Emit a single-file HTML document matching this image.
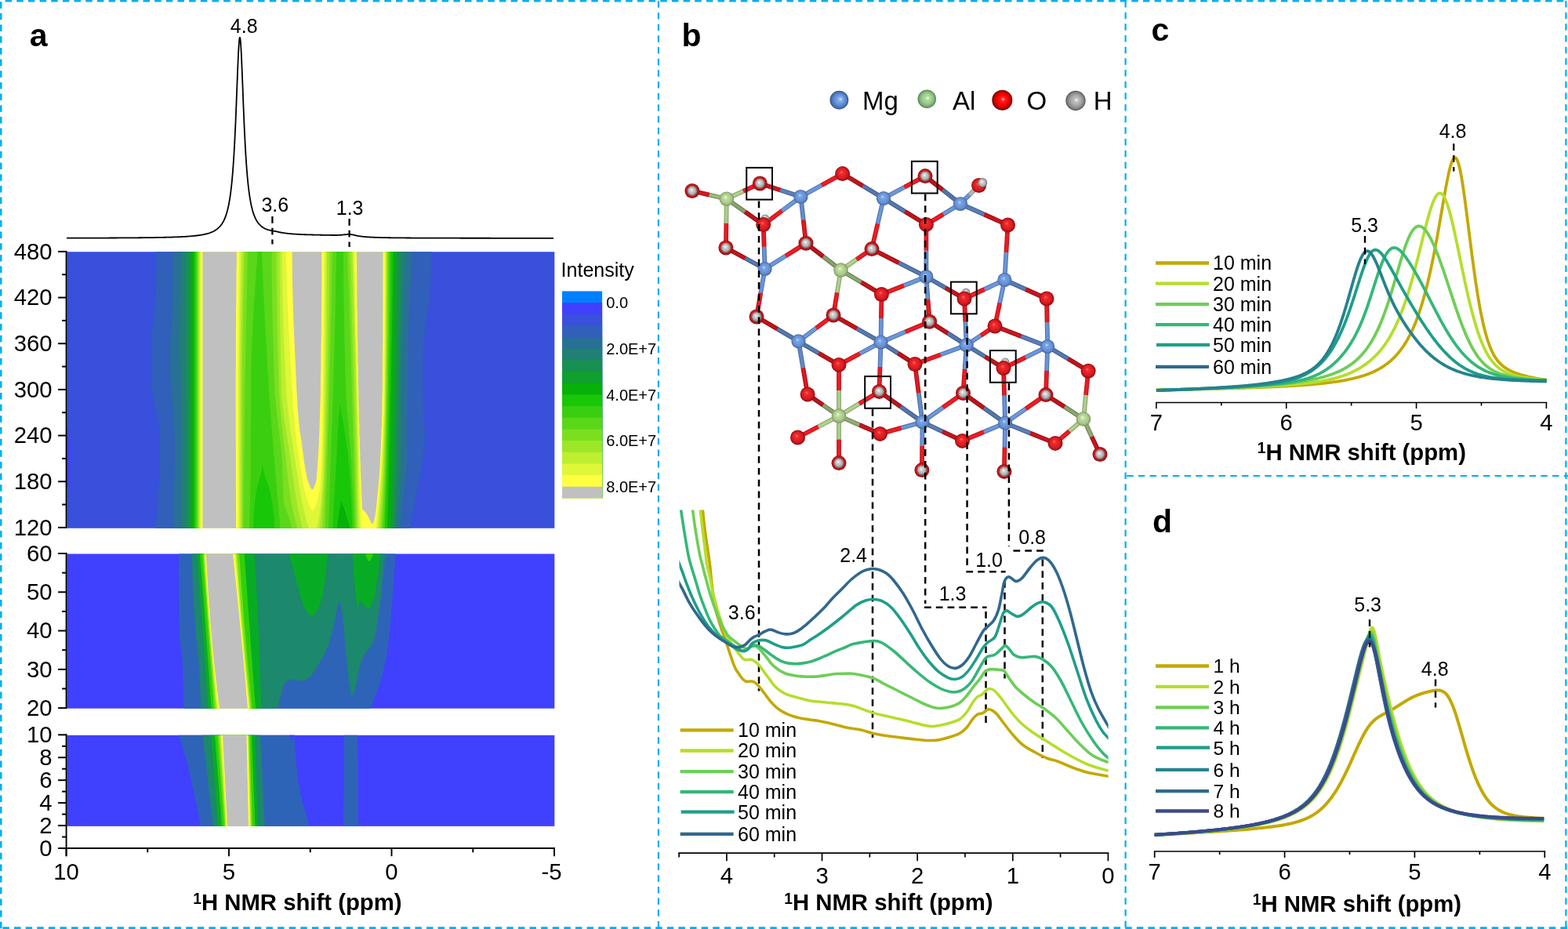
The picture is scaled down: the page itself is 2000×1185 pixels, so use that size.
<!DOCTYPE html>
<html lang="en"><head><meta charset="utf-8"><title>1H NMR figure</title>
<style>html,body{margin:0;padding:0;background:#fff}body{width:2000px;height:1185px;overflow:hidden}svg{display:block;font-family:'Liberation Sans', Arial, Helvetica, sans-serif;fill:#000}</style></head><body>
<svg xmlns="http://www.w3.org/2000/svg" width="2000" height="1185" viewBox="0 0 2000 1185">
<rect width="2000" height="1185" fill="#fff"/>
<g id="panel-a">
<rect x="85.4" y="321.2" width="621.9" height="352.6" fill="#3850dc"/>
<path fill="#3060b9" fill-rule="evenodd" d="M199.42 321.2L550.32 321.2L550.19 340.18L549.83 342.99L549.69 351.17L549.33 353.13L549.24 359.16L548.83 361.95L548.66 368.15L548.33 369.47L548.21 375.14L547.83 377.06L547.74 381.13L547.33 382.95L547.27 385.13L546.83 387.05L546.76 389.12L546.33 390.79L546.18 393.12L545.83 394.04L545.72 396.12L545.33 397.08L545.24 399.11L544.83 400.09L544.75 402.11L544.33 403.09L544.26 405.1L543.83 406.1L543.77 408.1L543.33 409.9L543.22 412.1L542.83 413.07L542.69 416.09L542.33 417.05L542.25 420.09L541.83 422L541.66 427.08L541.33 428.06L541.22 433.07L540.83 434.89L540.7 440.07L540.33 441.67L540.25 447.06L540.17 448.06L539.83 449.05L539.71 458.04L539.33 460.97L539.33 491.06L539.71 498L539.83 520L540.22 523.97L540.33 534.96L540.7 535.96L540.83 539.97L541.21 540.95L541.33 544.95L541.7 545.95L541.79 547.94L541.76 559.93L541.33 562.86L541.26 566.92L540.83 568.87L540.76 571.92L540.33 573.82L540.21 576.91L539.83 577.88L539.72 580.91L539.33 581.88L539.2 584.9L538.83 585.86L538.78 587.9L538.69 588.9L538.33 589.84L538.18 592.89L537.83 593.83L537.77 595.89L537.33 596.88L537.28 598.88L536.83 600.36L536.78 601.88L536.33 602.88L536.26 604.88L535.83 605.85L535.28 609.87L534.83 610.86L534.7 612.87L534.33 613.77L534.28 614.87L533.83 615.86L533.71 617.86L533.33 618.78L533.29 619.86L532.83 620.85L532.75 622.86L532.33 623.81L531.78 627.85L531.33 628.83L531.19 630.85L530.83 631.74L530.78 632.85L530.33 633.83L530.21 635.84L529.83 636.75L529.79 637.84L529.33 638.83L529.21 640.84L528.83 641.75L528.79 642.84L528.33 643.82L528.22 645.83L527.83 646.75L527.79 647.83L527.33 648.82L527.24 650.83L526.83 651.77L526.8 652.82L526.33 654.22L526.28 655.82L525.83 656.8L525.72 658.82L525.33 659.74L525.3 660.81L524.83 661.97L524.78 663.81L524.33 664.8L524.25 666.81L523.83 667.76L523.66 669.8L523.33 670.66L523.3 671.8L522.83 672.8L522.82 673.8L198.9 673.8L199.03 668.81L199.38 666.88L199.49 660.81L199.88 658.08L200.02 651.82L200.38 649.87L200.5 643.83L200.88 641.84L201.02 635.84L201.38 634.03L201.49 629.85L201.88 627.99L202.01 623.86L202.38 622.18L202.5 617.86L202.88 616.01L203.06 609.87L203.38 608.04L203.38 545.95L203.02 544.95L202.88 542.5L202.44 540.95L202.38 539.84L202.04 538.95L201.88 537.32L201.42 535.96L201.38 534.96L200.93 533.96L200.88 532.94L200.44 531.96L200.38 530.94L199.94 529.96L199.88 528.94L199.44 527.97L199.38 526.94L198.96 525.97L198.88 524.9L198.5 523.97L197.38 516.89L197.04 515.98L196.88 513.97L196.47 512.98L195.88 508.95L195.49 507.99L195.38 506.5L194.45 501.99L194.38 500.31L193.99 499L193.88 495.97L193.59 495L193.45 493.01L193.43 471.03L193.53 450.05L193.88 439.18L193.96 425.08L194.38 422.19L194.48 419.09L194.88 417.21L194.96 415.09L195.38 413.2L195.47 411.1L195.88 409.38L196.01 407.1L196.38 406.12L196.54 403.11L196.89 402.11L197.02 399.11L197.38 398.12L197.49 394.12L197.88 392.12L198 383.13L198.38 379.55L198.53 368.15L198.88 364.59L199.03 349.17L199.38 344.2Z"/>
<path fill="#287096" fill-rule="evenodd" d="M220.94 321.2L526.31 321.2L524.33 352.04L522.83 379.11L521.83 401.11L520.83 432.07L520.33 460.04L519.16 570.92L518.65 593.89L517.65 605.88L515.83 620.06L510.28 673.8L220.95 673.8L221.87 645.83L222.38 619.11L222.88 583.9L222.88 552.94L221.88 535.65L219.1 502.99L217.53 478.02L217.06 468.03L216.95 460.04L217.09 449.05L217.57 437.07L219.38 406.23L219.88 394.35L220.88 341.24Z"/>
<path fill="#208073" fill-rule="evenodd" d="M230.96 321.2L517.04 321.2L514.33 388.12L512.83 442.57L512.33 475.45L511.69 578.91L511.22 601.88L510.59 614.87L509.57 629.85L505.6 673.8L231.54 673.8L231.88 656.82L232.27 607.87L232.38 541.5L231.88 517.84L230.18 469.03L229.96 452.05L230.14 377.14Z"/>
<path fill="#189050" fill-rule="evenodd" d="M237.47 321.2L511.05 321.2L510.8 371.14L510.33 415.4L509.33 475.83L508.07 534.96L506.12 609.87L505.07 633.85L503.01 673.8L237.96 673.8Z"/>
<path fill="#10a02d" fill-rule="evenodd" d="M241.97 321.2L507 321.2L506.83 372.14L506.33 426.08L504.83 522.7L503.32 597.89L502.33 628.85L500.49 673.8L241.97 673.8Z"/>
<path fill="#08b00a" fill-rule="evenodd" d="M244.98 321.2L503.12 321.2L502.6 387.13L501.11 498L499.17 607.87L497.49 673.8L244.98 673.8Z"/>
<path fill="#18c708" fill-rule="evenodd" d="M247.47 321.2L501.43 321.2L500.33 396.97L498.58 489.01L496.1 599.88L494.02 673.8L446.38 673.8L445.34 669.73L444.95 668.81L444.84 667.79L444.42 666.81L440.34 652.78L438.34 647.02L436.61 642.84L435.34 638.09L434.68 642.84L432.84 651.13L430.84 664.67L429.79 673.8L247.47 673.8Z"/>
<path fill="#39cf10" fill-rule="evenodd" d="M249.17 321.2L498.56 321.2L498.18 378.14L497.67 418.09L496.11 501.99L493.64 605.88L491.07 673.8L449 673.8L448.84 659.77L447.84 633.6L447.52 630.85L447.34 624.62L447 621.86L446.84 616.56L446.49 613.87L446.34 608.83L446.02 606.88L445.84 601.79L445.53 599.88L445.34 594.83L445.02 592.89L444.84 588.27L444.46 585.9L444.34 582.86L444.08 581.9L443.84 578.67L442.97 572.91L442.84 570.87L442.55 569.92L441.34 560.89L441.04 559.93L440.84 557.85L440.56 556.93L438.47 543.95L437.84 539.18L434.53 522.97L433.84 515.99L433.34 516.01L432.95 523.97L431.34 542.61L428.12 604.88L424.12 673.8L350.08 673.8L349.86 663.81L348.86 653L347.36 641.97L347.04 640.84L346.86 638.79L345.56 631.85L345.36 629.83L344.36 625.78L342.36 619.83L340.1 613.87L337.07 603.88L335.61 597.89L335.36 594.87L334.86 594.76L333.75 600.88L331.86 606.91L330.14 613.87L328.36 619.84L326.36 628.85L325.15 640.84L324.86 642.21L324.22 650.83L323.86 653.38L323.71 657.82L323.36 660.81L323.16 673.8L249.17 673.8Z"/>
<path fill="#5ad718" fill-rule="evenodd" d="M250.56 321.2L328.91 321.2L326.53 350.17L324.1 385.13L322.27 417.09L320.86 450.05L320.36 468.03L320.06 491.01L319.72 604.88L318.86 644.42L317.97 673.8L250.56 673.8ZM334.04 321.2L429.04 321.2L427.62 396.12L425.13 493.01L421.85 585.75L419.02 673.8L357.56 673.8L351.04 600.88L346.07 539.95L343.58 505.99L340.36 453.18L337.86 408.23L336.7 382.13L336.36 378.21L336.18 371.14L335.86 367.29L335.68 360.16L335.36 356.06ZM437.96 321.2L496.75 321.2L496.55 368.15L496.04 418.09L495.22 472.03L494.08 530.96L492.29 605.88L491.26 631.85L489.26 673.8L451.39 673.8L450.15 632.85L447.98 585.9L446.59 566.92L442.53 521.97L441.14 499L439.84 453.25L438.83 407.1L438.17 360.16Z"/>
<path fill="#7bdf20" fill-rule="evenodd" d="M251.69 321.2L316.13 321.2L315.86 326.99L314.86 370.39L312.86 472.46L311.86 538.42L311.65 563.92L311.36 575.4L310.35 673.8L251.69 673.8ZM346.51 321.2L424.04 321.2L422.14 413.1L419.66 510.98L417.13 598.88L414.55 673.8L372.4 673.8L370.85 667.75L367.85 657.64L363.44 646.83L362.28 642.84L361.86 639.17L361.32 630.85L360.36 600.62L359.36 582.06L357.36 562.12L352.54 522.97L351.13 507.99L350.54 499L349.06 459.04L347.56 406.1L346.68 352.16ZM442.96 321.2L495.07 321.2L494.57 414.09L493.63 485.01L492.6 540.95L491.46 591.89L490.83 610.79L489.83 632.23L487.5 673.8L453.46 673.8L451.84 603.22L448.84 495.69L448.54 490.01L448.34 478.94L448.03 473.03L447.84 462.81L445.84 400.98Z"/>
<path fill="#9ce728" fill-rule="evenodd" d="M252.82 321.2L312.05 321.2L310.36 387.79L309.36 443.06L309.06 492.01L308.98 673.8L252.82 673.8ZM352.65 321.2L420.5 321.2L420.1 367.15L419.35 421.71L417.34 523.97L416.03 568.92L414.64 607.87L413.15 639.84L411.31 673.8L379.14 673.8L374.1 653.82L371.1 638.84L369.58 628.85L368.02 616.86L359.62 543.95L357.57 523.97L356.12 503.99L354.58 456.05L353.56 412.1L352.99 375.14ZM446.01 321.2L494 321.2L493.85 374.14L493.41 430.08L492.5 499L491.74 536.96L490.28 589.9L489.67 605.88L488.03 635.84L485.51 673.8L455 673.8L453.54 591.89L451.35 497L448.87 408.1Z"/>
<path fill="#bdef30" fill-rule="evenodd" d="M253.95 321.2L309.6 321.2L307.86 404.02L307.11 467.03L307.04 570.92L307.3 673.8L253.95 673.8ZM356.48 321.2L417.08 321.2L416.72 404.11L416.15 459.04L415.12 523.97L413.68 590.89L413.08 606.88L412.1 623.86L410.63 643.83L408.09 673.8L385.68 673.8L380.85 652.86L377.63 635.84L375.04 618.86L369.88 580.91L362.86 536.99L360.36 517.45L359.36 506.21L358.86 496.75L357.86 454.15L357.02 402.11L356.6 360.16ZM448.94 321.2L493 321.2L492.86 376.14L492.44 434.07L491.63 501.99L490.99 531.96L489.75 570.92L488.42 603.88L486.21 638.84L483.52 673.8L456.54 673.8L455.34 579.72L453.84 498.59L451.34 397.05Z"/>
<path fill="#def738" fill-rule="evenodd" d="M255.07 321.2L307.3 321.2L305.98 403.11L305.38 466.04L305.31 569.92L305.5 673.8L255.07 673.8ZM359.67 321.2L415.21 321.2L414.97 390.12L414.35 458.82L413.34 526.97L411.85 599.15L410.85 621.02L409.35 641.87L407.35 656.33L405.85 664.9L404.01 673.8L393.67 673.8L388.85 655.85L384.85 638.24L380.6 614.87L371.38 553.94L368.35 531.96L366.35 514.23L365.33 501.99L362.36 441.16L361.36 415.09L360.35 381.13L359.85 355.16ZM450.51 321.2L492 321.2L491.87 379.13L491.46 440.07L490.79 502.99L490.19 529.96L488.87 565.92L487.15 602.88L484.41 640.84L481.52 673.8L458.74 673.8L457.9 650.83L456.83 588.9L455.19 514.98Z"/>
<path fill="#ffff40" fill-rule="evenodd" d="M256.26 321.2L304.97 321.2L304.07 398.11L303.59 466.04L303.67 673.8L256.26 673.8ZM364.92 321.2L413.45 321.2L412.85 415.82L411.85 507.6L410.85 566.47L409.85 595.9L408.35 619.12L407.85 624.06L406.81 630.85L405.32 637.84L403.35 643.87L400.47 649.83L398.35 652.18L396.85 649.65L392.31 638.84L389.85 630.89L387.85 622.66L385.35 609.23L379.85 573.81L378.34 562.93L376.61 546.94L374.59 524.97L373.1 504.99L368.62 427.08L366.34 376.14L365.35 344.4ZM452.08 321.2L490.92 321.2L490.83 391.4L490.33 465.34L489.83 510.65L489.34 529.45L487.84 565.52L485.84 602.59L482.34 645.49L479.84 670.8L479.4 673.8L461.24 673.8L460.84 671.81L460.68 666.81L460.34 664.85L460.19 659.82L459.84 656.98L459.34 644.83L458.31 594.89L454.34 437.04Z"/>
<path fill="#c0c0c0" fill-rule="evenodd" d="M258.35 321.2L301.89 321.2L301.87 332.33L301.48 347.17L301.37 381.2L300.99 398.11L300.87 458.18L300.61 485.01L301.08 673.8L258.35 673.8ZM372.6 321.2L410.38 321.2L410.35 371.21L410.03 387.13L409.85 429.6L409.5 442.06L409.35 470.15L409.01 481.02L408.85 503.31L407.35 551.18L406.35 573.01L405.35 589.09L404.35 602.96L403.35 613.41L402.78 615.87L401.02 619.86L400.35 621.86L399.85 622.88L399.09 623.86L398.35 624.42L397.85 624.42L396.47 622.86L393.85 616.86L391.85 610L389.85 600.71L387.85 588.96L384.63 563.92L382.35 549.62L380.85 535.08L379.35 515.3L378.35 498.03L374.85 421.4L373.85 394.12L372.85 355.28ZM454.83 321.2L488.47 321.2L488.34 432.07L487.98 450.05L487.84 496.03L487.48 506.99L487.34 527L486.97 531.96L486.84 544.32L486.45 548.94L486.34 558.94L485.97 561.93L485.84 571.01L485.47 573.91L485.34 582.35L484.98 584.9L484.84 592.89L484.48 594.89L484.34 600.9L483.95 602.88L483.84 607.02L483.47 608.87L483.34 612.95L482.96 614.87L482.84 618.38L482.51 619.86L482.34 623.88L481.95 625.85L481.84 628.93L481.47 630.85L481.34 634.04L481 635.84L480.34 644.54L480.02 645.83L479.34 652.9L479.04 653.82L478.84 656.14L477.89 660.81L477.84 661.81L477.4 662.81L477.34 663.81L476.52 665.81L476.34 666.81L475.52 667.81L474.84 668.2L474.34 667.91L472.36 664.81L469.08 657.82L467.34 655.03L465.84 653.13L465.32 652.82L464.84 652.02L464.34 651.83L463.84 651.01L463.29 650.83L462.84 650.09L462.28 649.83L461.83 648.83L461.71 639.84L461.34 635.96L461.21 626.85L460.84 623.97L460.68 614.87L460.34 612.91L460.23 603.88L459.84 601.09L459.74 590.89L459.34 587.92L459.26 575.91L458.84 572.07L458.74 558.93L458.34 555.95L458.23 540.95L457.84 537.96L457.74 520.97L457.34 517L457.26 497L457.13 493.01L456.84 490.26L456.74 468.03L456.34 461.1L456.23 437.07L455.84 429.23L455.72 402.11L455.34 392.15L455.22 357.16Z"/>
<path fill="#4040ff" d="M85.4 547 Q94 580 86.5 622 L85.4 622Z"/>
<rect x="85.4" y="706.5" width="621.9" height="197.2" fill="#4040ff"/>
<path fill="#2e64b8" d="M228 706.5L228 709.49L228 712.48L228.01 715.46L228.01 718.45L228.02 721.44L228.03 724.43L228.04 727.42L228.05 730.4L228.06 733.39L228.08 736.38L228.1 739.37L228.11 742.35L228.13 745.34L228.16 748.33L228.18 751.32L228.2 754.31L228.23 757.29L228.26 760.28L228.29 763.27L228.32 766.26L228.36 769.25L228.39 772.23L228.43 775.22L228.47 778.21L228.51 781.2L228.55 784.18L228.6 787.17L228.64 790.16L228.69 793.15L228.74 796.14L228.79 799.12L228.85 802.11L228.9 805.1L228.96 808.09L229.03 811.08L229.17 814.06L229.39 817.05L229.68 820.04L230.02 823.03L230.4 826.02L230.8 829L231.21 831.99L231.61 834.98L231.99 837.97L232.33 840.95L232.63 843.94L232.85 846.93L233 849.92L233.09 852.91L233.19 855.89L233.27 858.88L233.36 861.87L233.44 864.86L233.52 867.85L233.59 870.83L233.66 873.82L233.72 876.81L233.77 879.8L233.82 882.78L233.87 885.77L233.91 888.76L233.94 891.75L233.97 894.74L233.98 897.72L234 900.71L234 903.7L472.4 903.7L473.71 900.71L474.99 897.72L476.24 894.74L477.46 891.75L478.64 888.76L479.78 885.77L480.87 882.78L481.92 879.8L482.92 876.81L483.87 873.82L484.76 870.83L485.61 867.85L486.43 864.86L487.24 861.87L488.02 858.88L488.78 855.89L489.52 852.91L490.22 849.92L490.9 846.93L491.54 843.94L492.14 840.95L492.7 837.97L493.23 834.98L493.71 831.99L494.14 829L494.55 826.02L494.94 823.03L495.31 820.04L495.67 817.05L496.01 814.06L496.34 811.08L496.65 808.09L496.96 805.1L497.25 802.11L497.53 799.12L497.81 796.14L498.07 793.15L498.33 790.16L498.59 787.17L498.84 784.18L499.09 781.2L499.33 778.21L499.57 775.22L499.82 772.23L500.06 769.25L500.3 766.26L500.54 763.27L500.78 760.28L501.02 757.29L501.25 754.31L501.47 751.32L501.7 748.33L501.92 745.34L502.13 742.35L502.35 739.37L502.56 736.38L502.76 733.39L502.96 730.4L503.16 727.42L503.35 724.43L503.54 721.44L503.72 718.45L503.9 715.46L504.07 712.48L504.24 709.49L504.4 706.5Z"/>
<path fill="#1c886c" d="M244.7 706.5L244.75 709.49L244.81 712.48L244.88 715.46L244.96 718.45L245.04 721.44L245.14 724.43L245.24 727.42L245.34 730.4L245.46 733.39L245.58 736.38L245.7 739.37L245.84 742.35L245.97 745.34L246.12 748.33L246.27 751.32L246.42 754.31L246.58 757.29L246.75 760.28L246.92 763.27L247.09 766.26L247.27 769.25L247.45 772.23L247.64 775.22L247.83 778.21L248.02 781.2L248.22 784.18L248.42 787.17L248.62 790.16L248.82 793.15L249.03 796.14L249.23 799.12L249.44 802.11L249.65 805.1L249.86 808.09L250.08 811.08L250.33 814.06L250.61 817.05L250.93 820.04L251.26 823.03L251.61 826.02L251.96 829L252.31 831.99L252.66 834.98L252.99 837.97L253.29 840.95L253.57 843.94L253.8 846.93L254 849.92L254.16 852.91L254.33 855.89L254.49 858.88L254.65 861.87L254.8 864.86L254.95 867.85L255.1 870.83L255.23 873.82L255.36 876.81L255.48 879.8L255.59 882.78L255.69 885.77L255.78 888.76L255.85 891.75L255.91 894.74L255.96 897.72L255.99 900.71L256 903.7L354 903.7L354.56 901.51L355.36 898.37L356.28 894.77L357.2 891.15L358 888L358.63 885.28L359.18 882.69L359.7 880.26L360.29 878.02L361 876L361.82 874.21L362.71 872.63L363.69 871.24L364.78 870.04L366 869L367.41 868.12L368.98 867.41L370.66 866.88L372.35 866.54L374 866.4L375.6 866.59L377.2 867.12L378.8 867.76L380.4 868.33L382 868.6L383.6 868.61L385.2 868.49L386.8 868.21L388.4 867.73L390 867L391.6 866.03L393.2 864.83L394.8 863.42L396.4 861.81L398 860L399.57 858.02L401.1 855.85L402.66 853.47L404.27 850.86L406 848L407.92 844.85L410 841.42L412.12 837.78L414.16 833.95L416 830L417.62 825.86L419.11 821.49L420.49 816.99L421.78 812.46L423 808L424.13 803.54L425.14 799.01L426.1 794.51L427.03 790.14L428 786L429.02 781.57L430.05 776.78L431.07 772.42L432.06 769.23L433 768L433.88 769.07L434.72 771.94L435.52 776.06L436.28 780.93L437 786L437.66 791.5L438.27 797.79L438.85 804.53L439.42 811.38L440 818L440.6 824.53L441.2 831.18L441.8 837.78L442.4 844.11L443 850L443.61 855.47L444.22 860.66L444.83 865.5L445.43 869.97L446 874L446.5 877.89L446.93 881.66L447.38 884.9L447.91 887.15L448.6 888L449.52 887.09L450.63 884.7L451.81 881.38L452.96 877.63L454 874L454.89 870.29L455.7 866.14L456.47 861.86L457.22 857.71L458 854L458.74 850.78L459.41 847.87L460.11 845.17L460.94 842.58L462 840L463.36 837.47L464.96 835.06L466.68 832.7L468.4 830.37L470 828L471.5 825.82L472.97 823.87L474.39 821.81L475.74 819.3L477 816L478.14 811.76L479.19 806.8L480.17 801.36L481.1 795.68L482 790L482.88 784.26L483.72 778.29L484.52 772.19L485.28 766.06L486 760L486.67 753.9L487.29 747.69L487.88 741.53L488.44 735.58L489 730L489.59 724.51L490.19 719L490.77 713.9L491.25 709.59L491.6 706.5Z"/>
<path fill="#08ac24" d="M368.4 706.5L369.29 709.66L370.55 714.09L372.01 719.29L373.55 724.76L375 730L376.37 735.14L377.77 740.51L379.18 745.91L380.59 751.14L382 756L383.37 760.54L384.7 764.91L386.06 769.01L387.47 772.74L389 776L390.69 778.96L392.5 781.68L394.38 783.92L396.23 785.44L398 786L399.7 785.44L401.37 783.92L402.99 781.68L404.54 778.96L406 776L407.37 772.74L408.66 769.01L409.87 764.91L410.99 760.54L412 756L412.9 751.14L413.69 745.91L414.39 740.51L415.02 735.14L415.6 730L416.13 724.76L416.61 719.29L417.02 714.09L417.35 709.66L417.6 706.5Z"/>
<path fill="#08ac24" d="M449.6 706.5L449.92 711.14L450.36 717.75L450.88 725.39L451.44 733.12L452 740L452.59 746.29L453.24 752.6L453.89 758.58L454.5 763.83L455 768L455.33 770.98L455.53 773.03L455.69 774.29L455.91 774.9L456.3 775L456.85 774.14L457.5 772.21L458.24 769.91L459.07 767.94L460 767L461.08 767.36L462.31 768.56L463.6 770.17L464.87 771.79L466 773L466.96 773.93L467.82 774.87L468.63 775.6L469.47 775.92L470.4 775.6L471.47 774.63L472.63 773.14L473.82 771.17L474.96 768.78L476 766L476.92 762.67L477.76 758.75L478.55 754.5L479.29 750.17L480 746L480.68 741.99L481.32 737.98L481.92 733.96L482.48 729.97L483 726L483.5 721.76L483.97 717.23L484.39 712.87L484.74 709.14L485 706.5Z"/>
<path fill="#30d008" d="M466 706.5L466.26 707.27L466.61 708.38L467.03 709.64L467.5 710.91L468 712L468.54 713.02L469.13 714.09L469.75 715.05L470.38 715.74L471 716L471.62 715.74L472.25 715.05L472.87 714.09L473.46 713.02L474 712L474.5 710.91L474.97 709.64L475.39 708.38L475.74 707.27L476 706.5Z"/>
<path fill="#08ac24" d="M251.2 706.5L251.43 709.49L251.66 712.48L251.9 715.46L252.13 718.45L252.36 721.44L252.59 724.43L252.82 727.42L253.05 730.4L253.28 733.39L253.51 736.38L253.73 739.37L253.96 742.35L254.19 745.34L254.42 748.33L254.64 751.32L254.87 754.31L255.09 757.29L255.32 760.28L255.54 763.27L255.77 766.26L255.99 769.25L256.22 772.23L256.44 775.22L256.66 778.21L256.88 781.2L257.1 784.18L257.33 787.17L257.55 790.16L257.77 793.15L257.99 796.14L258.21 799.12L258.42 802.11L258.64 805.1L258.86 808.09L259.08 811.08L259.3 814.06L259.51 817.05L259.73 820.04L259.94 823.03L260.16 826.02L260.37 829L260.59 831.99L260.8 834.98L261.02 837.97L261.23 840.95L261.44 843.94L261.65 846.93L261.87 849.92L262.08 852.91L262.29 855.89L262.5 858.88L262.71 861.87L262.92 864.86L263.13 867.85L263.33 870.83L263.54 873.82L263.75 876.81L263.96 879.8L264.16 882.78L264.37 885.77L264.58 888.76L264.78 891.75L264.99 894.74L265.19 897.72L265.4 900.71L265.6 903.7L333 903.7L332.93 900.71L332.87 897.72L332.8 894.74L332.72 891.75L332.65 888.76L332.57 885.77L332.49 882.78L332.41 879.8L332.33 876.81L332.24 873.82L332.15 870.83L332.06 867.85L331.97 864.86L331.88 861.87L331.78 858.88L331.69 855.89L331.59 852.91L331.49 849.92L331.38 846.93L331.28 843.94L331.17 840.95L331.07 837.97L330.96 834.98L330.85 831.99L330.74 829L330.63 826.02L330.51 823.03L330.4 820.04L330.28 817.05L330.16 814.06L330.04 811.08L329.92 808.09L329.8 805.1L329.67 802.11L329.55 799.12L329.41 796.14L329.28 793.15L329.14 790.16L329.01 787.17L328.86 784.18L328.72 781.2L328.57 778.21L328.42 775.22L328.27 772.23L328.12 769.25L327.96 766.26L327.8 763.27L327.64 760.28L327.48 757.29L327.31 754.31L327.15 751.32L326.98 748.33L326.81 745.34L326.63 742.35L326.46 739.37L326.28 736.38L326.1 733.39L325.92 730.4L325.73 727.42L325.55 724.43L325.36 721.44L325.17 718.45L324.98 715.46L324.79 712.48L324.6 709.49L324.4 706.5Z"/>
<path fill="#30d008" d="M255.1 706.5L255.34 709.49L255.58 712.48L255.81 715.46L256.05 718.45L256.29 721.44L256.52 724.43L256.76 727.42L256.99 730.4L257.23 733.39L257.46 736.38L257.69 739.37L257.92 742.35L258.15 745.34L258.38 748.33L258.61 751.32L258.84 754.31L259.07 757.29L259.3 760.28L259.53 763.27L259.75 766.26L259.98 769.25L260.21 772.23L260.43 775.22L260.65 778.21L260.88 781.2L261.1 784.18L261.32 787.17L261.54 790.16L261.77 793.15L261.99 796.14L262.21 799.12L262.42 802.11L262.64 805.1L262.86 808.09L263.08 811.08L263.29 814.06L263.51 817.05L263.73 820.04L263.94 823.03L264.15 826.02L264.37 829L264.58 831.99L264.79 834.98L265 837.97L265.22 840.95L265.43 843.94L265.64 846.93L265.84 849.92L266.05 852.91L266.26 855.89L266.47 858.88L266.67 861.87L266.88 864.86L267.09 867.85L267.29 870.83L267.49 873.82L267.7 876.81L267.9 879.8L268.1 882.78L268.3 885.77L268.51 888.76L268.71 891.75L268.9 894.74L269.1 897.72L269.3 900.71L269.5 903.7L326 903.7L325.77 900.71L325.54 897.72L325.31 894.74L325.09 891.75L324.86 888.76L324.63 885.77L324.4 882.78L324.18 879.8L323.95 876.81L323.73 873.82L323.5 870.83L323.28 867.85L323.05 864.86L322.83 861.87L322.6 858.88L322.38 855.89L322.16 852.91L321.93 849.92L321.71 846.93L321.49 843.94L321.27 840.95L321.05 837.97L320.83 834.98L320.61 831.99L320.39 829L320.17 826.02L319.95 823.03L319.73 820.04L319.51 817.05L319.3 814.06L319.08 811.08L318.86 808.09L318.64 805.1L318.43 802.11L318.21 799.12L318 796.14L317.78 793.15L317.57 790.16L317.35 787.17L317.14 784.18L316.92 781.2L316.71 778.21L316.5 775.22L316.29 772.23L316.07 769.25L315.86 766.26L315.65 763.27L315.44 760.28L315.23 757.29L315.02 754.31L314.81 751.32L314.6 748.33L314.39 745.34L314.18 742.35L313.97 739.37L313.76 736.38L313.55 733.39L313.35 730.4L313.14 727.42L312.93 724.43L312.73 721.44L312.52 718.45L312.31 715.46L312.11 712.48L311.9 709.49L311.7 706.5Z"/>
<path fill="#70e018" d="M258.4 706.5L258.62 709.49L258.84 712.48L259.05 715.46L259.27 718.45L259.49 721.44L259.71 724.43L259.92 727.42L260.14 730.4L260.36 733.39L260.58 736.38L260.8 739.37L261.02 742.35L261.24 745.34L261.46 748.33L261.67 751.32L261.89 754.31L262.11 757.29L262.33 760.28L262.55 763.27L262.77 766.26L262.99 769.25L263.21 772.23L263.43 775.22L263.65 778.21L263.87 781.2L264.09 784.18L264.31 787.17L264.53 790.16L264.75 793.15L264.97 796.14L265.2 799.12L265.42 802.11L265.64 805.1L265.86 808.09L266.08 811.08L266.3 814.06L266.52 817.05L266.74 820.04L266.97 823.03L267.19 826.02L267.41 829L267.63 831.99L267.85 834.98L268.08 837.97L268.3 840.95L268.52 843.94L268.75 846.93L268.97 849.92L269.19 852.91L269.41 855.89L269.64 858.88L269.86 861.87L270.08 864.86L270.31 867.85L270.53 870.83L270.76 873.82L270.98 876.81L271.2 879.8L271.43 882.78L271.65 885.77L271.88 888.76L272.1 891.75L272.33 894.74L272.55 897.72L272.78 900.71L273 903.7L321.5 903.7L321.21 900.71L320.92 897.72L320.63 894.74L320.34 891.75L320.05 888.76L319.77 885.77L319.48 882.78L319.2 879.8L318.92 876.81L318.63 873.82L318.36 870.83L318.08 867.85L317.8 864.86L317.53 861.87L317.25 858.88L316.98 855.89L316.71 852.91L316.44 849.92L316.17 846.93L315.91 843.94L315.64 840.95L315.38 837.97L315.12 834.98L314.86 831.99L314.6 829L314.35 826.02L314.09 823.03L313.84 820.04L313.59 817.05L313.34 814.06L313.09 811.08L312.84 808.09L312.6 805.1L312.35 802.11L312.11 799.12L311.87 796.14L311.63 793.15L311.39 790.16L311.15 787.17L310.91 784.18L310.68 781.2L310.44 778.21L310.21 775.22L309.98 772.23L309.74 769.25L309.51 766.26L309.29 763.27L309.06 760.28L308.83 757.29L308.61 754.31L308.38 751.32L308.16 748.33L307.94 745.34L307.72 742.35L307.5 739.37L307.29 736.38L307.07 733.39L306.86 730.4L306.64 727.42L306.43 724.43L306.22 721.44L306.02 718.45L305.81 715.46L305.61 712.48L305.4 709.49L305.2 706.5Z"/>
<path fill="#b4f030" d="M260 706.5L260.2 709.49L260.4 712.48L260.59 715.46L260.8 718.45L261 721.44L261.2 724.43L261.4 727.42L261.61 730.4L261.82 733.39L262.03 736.38L262.23 739.37L262.45 742.35L262.66 745.34L262.87 748.33L263.08 751.32L263.3 754.31L263.51 757.29L263.73 760.28L263.95 763.27L264.17 766.26L264.39 769.25L264.61 772.23L264.83 775.22L265.06 778.21L265.28 781.2L265.51 784.18L265.74 787.17L265.96 790.16L266.19 793.15L266.42 796.14L266.65 799.12L266.88 802.11L267.12 805.1L267.35 808.09L267.58 811.08L267.82 814.06L268.06 817.05L268.3 820.04L268.54 823.03L268.78 826.02L269.02 829L269.26 831.99L269.51 834.98L269.76 837.97L270.01 840.95L270.25 843.94L270.51 846.93L270.76 849.92L271.01 852.91L271.27 855.89L271.52 858.88L271.78 861.87L272.04 864.86L272.3 867.85L272.56 870.83L272.82 873.82L273.08 876.81L273.35 879.8L273.61 882.78L273.88 885.77L274.15 888.76L274.41 891.75L274.68 894.74L274.96 897.72L275.23 900.71L275.5 903.7L319.5 903.7L319.19 900.71L318.89 897.72L318.58 894.74L318.28 891.75L317.98 888.76L317.68 885.77L317.38 882.78L317.08 879.8L316.79 876.81L316.49 873.82L316.2 870.83L315.9 867.85L315.61 864.86L315.32 861.87L315.03 858.88L314.74 855.89L314.46 852.91L314.17 849.92L313.89 846.93L313.61 843.94L313.33 840.95L313.05 837.97L312.77 834.98L312.49 831.99L312.22 829L311.94 826.02L311.67 823.03L311.4 820.04L311.13 817.05L310.86 814.06L310.6 811.08L310.33 808.09L310.07 805.1L309.8 802.11L309.54 799.12L309.28 796.14L309.02 793.15L308.76 790.16L308.51 787.17L308.25 784.18L307.99 781.2L307.74 778.21L307.49 775.22L307.23 772.23L306.98 769.25L306.73 766.26L306.49 763.27L306.24 760.28L305.99 757.29L305.75 754.31L305.5 751.32L305.26 748.33L305.02 745.34L304.78 742.35L304.54 739.37L304.3 736.38L304.07 733.39L303.83 730.4L303.6 727.42L303.37 724.43L303.13 721.44L302.91 718.45L302.68 715.46L302.45 712.48L302.22 709.49L302 706.5Z"/>
<path fill="#ffff40" d="M261 706.5L261.17 709.49L261.34 712.48L261.52 715.46L261.69 718.45L261.87 721.44L262.06 724.43L262.24 727.42L262.43 730.4L262.62 733.39L262.82 736.38L263.01 739.37L263.21 742.35L263.41 745.34L263.62 748.33L263.82 751.32L264.03 754.31L264.24 757.29L264.45 760.28L264.67 763.27L264.89 766.26L265.11 769.25L265.33 772.23L265.55 775.22L265.78 778.21L266.01 781.2L266.24 784.18L266.47 787.17L266.7 790.16L266.94 793.15L267.18 796.14L267.42 799.12L267.66 802.11L267.9 805.1L268.14 808.09L268.39 811.08L268.64 814.06L268.89 817.05L269.15 820.04L269.41 823.03L269.67 826.02L269.93 829L270.2 831.99L270.48 834.98L270.75 837.97L271.03 840.95L271.31 843.94L271.6 846.93L271.88 849.92L272.17 852.91L272.47 855.89L272.76 858.88L273.06 861.87L273.36 864.86L273.67 867.85L273.97 870.83L274.28 873.82L274.59 876.81L274.91 879.8L275.22 882.78L275.54 885.77L275.86 888.76L276.19 891.75L276.51 894.74L276.84 897.72L277.17 900.71L277.5 903.7L318 903.7L317.7 900.71L317.4 897.72L317.1 894.74L316.81 891.75L316.51 888.76L316.21 885.77L315.92 882.78L315.63 879.8L315.33 876.81L315.04 873.82L314.75 870.83L314.46 867.85L314.17 864.86L313.88 861.87L313.59 858.88L313.3 855.89L313.02 852.91L312.73 849.92L312.45 846.93L312.16 843.94L311.88 840.95L311.6 837.97L311.32 834.98L311.03 831.99L310.76 829L310.48 826.02L310.2 823.03L309.92 820.04L309.65 817.05L309.37 814.06L309.1 811.08L308.83 808.09L308.55 805.1L308.28 802.11L308.01 799.12L307.74 796.14L307.47 793.15L307.2 790.16L306.94 787.17L306.67 784.18L306.4 781.2L306.14 778.21L305.87 775.22L305.61 772.23L305.34 769.25L305.08 766.26L304.82 763.27L304.56 760.28L304.3 757.29L304.04 754.31L303.78 751.32L303.52 748.33L303.27 745.34L303.01 742.35L302.75 739.37L302.5 736.38L302.25 733.39L301.99 730.4L301.74 727.42L301.49 724.43L301.24 721.44L300.99 718.45L300.74 715.46L300.49 712.48L300.25 709.49L300 706.5Z"/>
<path fill="#c0c0c0" d="M262.9 706.5L263.04 709.49L263.18 712.48L263.33 715.46L263.48 718.45L263.63 721.44L263.79 724.43L263.96 727.42L264.12 730.4L264.3 733.39L264.47 736.38L264.65 739.37L264.84 742.35L265.02 745.34L265.21 748.33L265.41 751.32L265.6 754.31L265.81 757.29L266.01 760.28L266.22 763.27L266.43 766.26L266.64 769.25L266.86 772.23L267.08 775.22L267.3 778.21L267.52 781.2L267.75 784.18L267.98 787.17L268.21 790.16L268.45 793.15L268.68 796.14L268.92 799.12L269.16 802.11L269.41 805.1L269.66 808.09L269.91 811.08L270.17 814.06L270.43 817.05L270.7 820.04L270.97 823.03L271.25 826.02L271.53 829L271.82 831.99L272.12 834.98L272.41 837.97L272.72 840.95L273.02 843.94L273.33 846.93L273.65 849.92L273.97 852.91L274.3 855.89L274.62 858.88L274.96 861.87L275.29 864.86L275.64 867.85L275.98 870.83L276.33 873.82L276.68 876.81L277.04 879.8L277.39 882.78L277.76 885.77L278.12 888.76L278.49 891.75L278.86 894.74L279.24 897.72L279.62 900.71L280 903.7L316 903.7L315.74 900.71L315.48 897.72L315.22 894.74L314.96 891.75L314.7 888.76L314.44 885.77L314.18 882.78L313.91 879.8L313.65 876.81L313.38 873.82L313.11 870.83L312.85 867.85L312.58 864.86L312.31 861.87L312.04 858.88L311.76 855.89L311.49 852.91L311.22 849.92L310.94 846.93L310.67 843.94L310.39 840.95L310.12 837.97L309.84 834.98L309.56 831.99L309.28 829L309 826.02L308.72 823.03L308.43 820.04L308.15 817.05L307.87 814.06L307.58 811.08L307.3 808.09L307.01 805.1L306.72 802.11L306.43 799.12L306.14 796.14L305.85 793.15L305.56 790.16L305.27 787.17L304.98 784.18L304.68 781.2L304.38 778.21L304.09 775.22L303.79 772.23L303.49 769.25L303.19 766.26L302.89 763.27L302.59 760.28L302.29 757.29L301.98 754.31L301.68 751.32L301.37 748.33L301.07 745.34L300.76 742.35L300.45 739.37L300.14 736.38L299.83 733.39L299.52 730.4L299.21 727.42L298.9 724.43L298.58 721.44L298.27 718.45L297.95 715.46L297.64 712.48L297.32 709.49L297 706.5Z"/>
<rect x="85.4" y="937.8" width="621.9" height="116.1" fill="#4040ff"/>
<path fill="#2e64b8" d="M228 937.8L229.03 940.78L230.04 943.75L231.04 946.73L232.01 949.71L232.96 952.68L233.89 955.66L234.8 958.64L235.68 961.62L236.53 964.59L237.35 967.57L238.14 970.55L238.91 973.52L239.64 976.5L240.36 979.48L241.05 982.45L241.73 985.43L242.39 988.41L243.04 991.38L243.68 994.36L244.31 997.34L244.94 1000.32L245.57 1003.29L246.2 1006.27L246.84 1009.25L247.48 1012.22L248.11 1015.2L248.74 1018.18L249.37 1021.15L249.99 1024.13L250.61 1027.11L251.23 1030.08L251.84 1033.06L252.45 1036.04L253.05 1039.02L253.65 1041.99L254.24 1044.97L254.83 1047.95L255.42 1050.92L256 1053.9L393.6 1053.9L393.17 1050.92L392.67 1047.95L392.09 1044.97L391.45 1041.99L390.76 1039.02L389.9 1036.04L388.91 1033.06L387.88 1030.08L386.89 1027.11L386.03 1024.13L385.29 1021.15L384.57 1018.18L383.89 1015.2L383.23 1012.22L382.62 1009.25L382.05 1006.27L381.52 1003.29L381.05 1000.32L380.61 997.34L380.2 994.36L379.82 991.38L379.46 988.41L379.12 985.43L378.8 982.45L378.5 979.48L378.22 976.5L377.96 973.52L377.71 970.55L377.46 967.57L377.23 964.59L377 961.62L376.78 958.64L376.57 955.66L376.37 952.68L376.19 949.71L376.02 946.73L375.86 943.75L375.72 940.78L375.6 937.8Z"/>
<path fill="#4040ff" d="M369 937.8L371 943L373 944L375.8 937.8Z"/>
<path fill="#2e64b8" d="M439 937.8L438 1053.9L457 1053.9L456 937.8Z"/>
<path fill="#1c886c" d="M258.4 937.8L272 1053.9L337.6 1053.9L332 937.8Z"/>
<path fill="#08ac24" d="M269 937.8L278.4 1053.9L329 1053.9L325 937.8Z"/>
<path fill="#30d008" d="M274 937.8L283 1053.9L325.5 1053.9L321 937.8Z"/>
<path fill="#70e018" d="M277.5 937.8L286 1053.9L322 1053.9L318.5 937.8Z"/>
<path fill="#b4f030" d="M280 937.8L287.7 1053.9L320.3 1053.9L317 937.8Z"/>
<path fill="#ffff40" d="M282 937.8L288.6 1053.9L319 1053.9L316 937.8Z"/>
<path fill="#c0c0c0" d="M284 937.8L290 1053.9L317 1053.9L314.4 937.8Z"/>
<path d="M85 303.68 L86 303.68 L87 303.68 L88 303.68 L89 303.68 L90 303.67 L91 303.67 L92 303.67 L93 303.67 L94 303.67 L95 303.66 L96 303.66 L97 303.66 L98 303.66 L99 303.65 L100 303.65 L101 303.65 L102 303.65 L103 303.65 L104 303.64 L105 303.64 L106 303.64 L107 303.63 L108 303.63 L109 303.63 L110 303.63 L111 303.62 L112 303.62 L113 303.62 L114 303.62 L115 303.61 L116 303.61 L117 303.61 L118 303.6 L119 303.6 L120 303.6 L121 303.59 L122 303.59 L123 303.59 L124 303.58 L125 303.58 L126 303.58 L127 303.57 L128 303.57 L129 303.57 L130 303.56 L131 303.56 L132 303.55 L133 303.55 L134 303.55 L135 303.54 L136 303.54 L137 303.53 L138 303.53 L139 303.52 L140 303.52 L141 303.52 L142 303.51 L143 303.51 L144 303.5 L145 303.5 L146 303.49 L147 303.49 L148 303.48 L149 303.48 L150 303.47 L151 303.46 L152 303.46 L153 303.45 L154 303.45 L155 303.44 L156 303.44 L157 303.43 L158 303.42 L159 303.42 L160 303.41 L161 303.4 L162 303.4 L163 303.39 L164 303.38 L165 303.37 L166 303.37 L167 303.36 L168 303.35 L169 303.34 L170 303.34 L171 303.33 L172 303.32 L173 303.31 L174 303.3 L175 303.29 L176 303.28 L177 303.27 L178 303.26 L179 303.25 L180 303.24 L181 303.23 L182 303.22 L183 303.21 L184 303.2 L185 303.19 L186 303.18 L187 303.16 L188 303.15 L189 303.14 L190 303.13 L191 303.11 L192 303.1 L193 303.08 L194 303.07 L195 303.05 L196 303.04 L197 303.02 L198 303.01 L199 302.99 L200 302.97 L201 302.96 L202 302.94 L203 302.92 L204 302.9 L205 302.88 L206 302.86 L207 302.84 L208 302.82 L209 302.8 L210 302.77 L211 302.75 L212 302.72 L213 302.7 L214 302.67 L215 302.65 L216 302.62 L217 302.59 L218 302.56 L219 302.53 L220 302.5 L221 302.47 L222 302.43 L223 302.4 L224 302.36 L225 302.32 L226 302.28 L227 302.24 L228 302.2 L229 302.16 L230 302.11 L231 302.06 L232 302.01 L233 301.96 L234 301.91 L235 301.85 L236 301.79 L237 301.73 L238 301.67 L239 301.6 L240 301.53 L241 301.46 L242 301.38 L243 301.31 L244 301.22 L245 301.13 L246 301.04 L247 300.95 L248 300.85 L249 300.74 L250 300.63 L251 300.51 L252 300.38 L253 300.25 L254 300.11 L255 299.96 L256 299.81 L257 299.64 L258 299.47 L259 299.28 L260 299.08 L261 298.87 L262 298.64 L263 298.4 L264 298.14 L265 297.86 L266 297.57 L267 297.25 L268 296.9 L269 296.53 L270 296.12 L271 295.69 L272 295.21 L273 294.7 L274 294.14 L275 293.52 L276 292.85 L277 292.11 L278 291.29 L279 290.39 L280 289.39 L280.25 289.12 L280.5 288.84 L280.75 288.56 L281 288.27 L281.25 287.97 L281.5 287.67 L281.75 287.35 L282 287.03 L282.25 286.69 L282.5 286.35 L282.75 286 L283 285.63 L283.25 285.26 L283.5 284.87 L283.75 284.47 L284 284.06 L284.25 283.64 L284.5 283.2 L284.75 282.75 L285 282.28 L285.25 281.8 L285.5 281.31 L285.75 280.79 L286 280.26 L286.25 279.72 L286.5 279.15 L286.75 278.57 L287 277.96 L287.25 277.33 L287.5 276.69 L287.75 276.01 L288 275.32 L288.25 274.6 L288.5 273.85 L288.75 273.07 L289 272.27 L289.25 271.44 L289.5 270.57 L289.75 269.67 L290 268.73 L290.25 267.76 L290.5 266.75 L290.75 265.7 L291 264.61 L291.25 263.47 L291.5 262.29 L291.75 261.05 L292 259.77 L292.25 258.43 L292.5 257.03 L292.75 255.57 L293 254.05 L293.25 252.47 L293.5 250.81 L293.75 249.07 L294 247.26 L294.25 245.37 L294.5 243.39 L294.75 241.32 L295 239.16 L295.25 236.89 L295.5 234.51 L295.75 232.03 L296 229.43 L296.25 226.7 L296.5 223.85 L296.75 220.85 L297 217.72 L297.25 214.44 L297.5 211 L297.75 207.4 L298 203.64 L298.25 199.69 L298.5 195.57 L298.75 191.27 L299 186.77 L299.25 182.08 L299.5 177.19 L299.75 172.1 L300 166.82 L300.25 161.34 L300.5 155.68 L300.75 149.83 L301 143.82 L301.25 137.65 L301.5 131.35 L301.75 124.94 L302 118.46 L302.25 111.93 L302.5 105.42 L302.75 98.95 L303 92.59 L303.25 86.4 L303.5 80.44 L303.75 74.79 L304 69.51 L304.25 64.67 L304.5 60.36 L304.75 56.63 L305 53.55 L305.25 50.44 L305.5 48.8 L305.75 47.92 L306 47.84 L306.25 48.54 L306.5 50.02 L306.75 52.24 L307 55.18 L307.25 58.77 L307.5 62.97 L307.75 67.69 L308 72.88 L308.25 78.45 L308.5 84.35 L308.75 90.49 L309 96.81 L309.25 103.25 L309.5 109.75 L309.75 116.27 L310 122.75 L310.25 129.17 L310.5 135.48 L310.75 141.67 L311 147.71 L311.25 153.58 L311.5 159.27 L311.75 164.78 L312 170.09 L312.25 175.2 L312.5 180.12 L312.75 184.84 L313 189.36 L313.25 193.7 L313.5 197.85 L313.75 201.81 L314 205.6 L314.25 209.22 L314.5 212.68 L314.75 215.98 L315 219.13 L315.25 222.14 L315.5 225.01 L315.75 227.75 L316 230.37 L316.25 232.86 L316.5 235.25 L316.75 237.52 L317 239.7 L317.25 241.77 L317.5 243.76 L317.75 245.65 L318 247.47 L318.25 249.2 L318.5 250.86 L318.75 252.45 L319 253.97 L319.25 255.43 L319.5 256.83 L319.75 258.16 L320 259.45 L320.25 260.68 L320.5 261.86 L320.75 262.99 L321 264.08 L321.25 265.12 L321.5 266.13 L321.75 267.09 L322 268.02 L322.25 268.91 L322.5 269.77 L322.75 270.6 L323 271.39 L323.25 272.16 L323.5 272.89 L323.75 273.61 L324 274.29 L324.25 274.95 L324.5 275.59 L324.75 276.21 L325 276.8 L325.25 277.37 L325.5 277.93 L325.75 278.46 L326 278.98 L326.25 279.48 L326.5 279.96 L326.75 280.43 L327 280.88 L327.25 281.32 L327.5 281.74 L327.75 282.15 L328 282.55 L328.25 282.93 L328.5 283.3 L328.75 283.66 L329 284.01 L329.25 284.35 L329.5 284.68 L329.75 284.99 L330 285.3 L330.25 285.6 L330.5 285.89 L330.75 286.17 L331 286.44 L331.25 286.71 L331.5 286.97 L331.75 287.22 L332 287.46 L332.25 287.69 L332.5 287.92 L332.75 288.14 L333 288.36 L333.25 288.57 L333.5 288.77 L333.75 288.97 L334 289.16 L334.25 289.35 L334.5 289.53 L334.75 289.7 L335 289.87 L336 290.51 L337 291.08 L338 291.58 L339 292.03 L340 292.43 L341 292.79 L342 293.1 L343 293.38 L344 293.62 L345 293.84 L346 294.04 L347 294.23 L348 294.41 L349 294.59 L350 294.79 L351 294.99 L352 295.2 L353 295.42 L354 295.65 L355 295.87 L356 296.09 L357 296.3 L358 296.5 L359 296.69 L360 296.87 L361 297.04 L362 297.19 L363 297.34 L364 297.47 L365 297.6 L366 297.72 L367 297.83 L368 297.94 L369 298.04 L370 298.13 L371 298.22 L372 298.3 L373 298.38 L374 298.46 L375 298.53 L376 298.6 L377 298.66 L378 298.72 L379 298.78 L380 298.84 L381 298.89 L382 298.94 L383 298.99 L384 299.04 L385 299.08 L386 299.12 L387 299.16 L388 299.2 L389 299.24 L390 299.27 L391 299.3 L392 299.34 L393 299.37 L394 299.39 L395 299.42 L396 299.45 L397 299.47 L398 299.5 L399 299.52 L400 299.55 L401 299.57 L402 299.59 L403 299.61 L404 299.63 L405 299.65 L406 299.67 L407 299.69 L408 299.71 L409 299.73 L410 299.75 L411 299.77 L412 299.79 L413 299.81 L414 299.83 L415 299.85 L416 299.87 L417 299.89 L418 299.91 L419 299.93 L420 299.94 L421 299.96 L422 299.97 L423 299.99 L424 300 L425 300 L426 300.01 L427 300.01 L428 300 L429 299.99 L430 299.97 L431 299.95 L432 299.91 L433 299.87 L434 299.81 L435 299.74 L436 299.66 L437 299.57 L438 299.47 L439 299.36 L440 299.24 L441 299.13 L442 299.03 L443 298.95 L444 298.89 L445 298.88 L446 298.91 L447 298.99 L448 299.12 L449 299.29 L450 299.48 L451 299.7 L452 299.92 L453 300.15 L454 300.37 L455 300.58 L456 300.78 L457 300.96 L458 301.14 L459 301.29 L460 301.44 L461 301.57 L462 301.7 L463 301.81 L464 301.91 L465 302.01 L466 302.1 L467 302.18 L468 302.26 L469 302.33 L470 302.39 L471 302.45 L472 302.51 L473 302.56 L474 302.61 L475 302.66 L476 302.7 L477 302.75 L478 302.79 L479 302.82 L480 302.86 L481 302.89 L482 302.92 L483 302.95 L484 302.98 L485 303.01 L486 303.03 L487 303.06 L488 303.08 L489 303.1 L490 303.13 L491 303.15 L492 303.16 L493 303.18 L494 303.2 L495 303.22 L496 303.24 L497 303.25 L498 303.27 L499 303.28 L500 303.3 L501 303.31 L502 303.32 L503 303.33 L504 303.35 L505 303.36 L506 303.37 L507 303.38 L508 303.39 L509 303.4 L510 303.41 L511 303.42 L512 303.43 L513 303.44 L514 303.45 L515 303.46 L516 303.46 L517 303.47 L518 303.48 L519 303.49 L520 303.49 L521 303.5 L522 303.51 L523 303.51 L524 303.52 L525 303.53 L526 303.53 L527 303.54 L528 303.54 L529 303.55 L530 303.56 L531 303.56 L532 303.57 L533 303.57 L534 303.58 L535 303.58 L536 303.59 L537 303.59 L538 303.59 L539 303.6 L540 303.6 L541 303.61 L542 303.61 L543 303.61 L544 303.62 L545 303.62 L546 303.63 L547 303.63 L548 303.63 L549 303.64 L550 303.64 L551 303.64 L552 303.65 L553 303.65 L554 303.65 L555 303.66 L556 303.66 L557 303.66 L558 303.66 L559 303.67 L560 303.67 L561 303.67 L562 303.67 L563 303.68 L564 303.68 L565 303.68 L566 303.68 L567 303.69 L568 303.69 L569 303.69 L570 303.69 L571 303.7 L572 303.7 L573 303.7 L574 303.7 L575 303.7 L576 303.71 L577 303.71 L578 303.71 L579 303.71 L580 303.71 L581 303.72 L582 303.72 L583 303.72 L584 303.72 L585 303.72 L586 303.72 L587 303.73 L588 303.73 L589 303.73 L590 303.73 L591 303.73 L592 303.73 L593 303.74 L594 303.74 L595 303.74 L596 303.74 L597 303.74 L598 303.74 L599 303.74 L600 303.75 L601 303.75 L602 303.75 L603 303.75 L604 303.75 L605 303.75 L606 303.75 L607 303.75 L608 303.76 L609 303.76 L610 303.76 L611 303.76 L612 303.76 L613 303.76 L614 303.76 L615 303.76 L616 303.77 L617 303.77 L618 303.77 L619 303.77 L620 303.77 L621 303.77 L622 303.77 L623 303.77 L624 303.77 L625 303.77 L626 303.78 L627 303.78 L628 303.78 L629 303.78 L630 303.78 L631 303.78 L632 303.78 L633 303.78 L634 303.78 L635 303.78 L636 303.78 L637 303.79 L638 303.79 L639 303.79 L640 303.79 L641 303.79 L642 303.79 L643 303.79 L644 303.79 L645 303.79 L646 303.79 L647 303.79 L648 303.79 L649 303.79 L650 303.8 L651 303.8 L652 303.8 L653 303.8 L654 303.8 L655 303.8 L656 303.8 L657 303.8 L658 303.8 L659 303.8 L660 303.8 L661 303.8 L662 303.8 L663 303.8 L664 303.8 L665 303.81 L666 303.81 L667 303.81 L668 303.81 L669 303.81 L670 303.81 L671 303.81 L672 303.81 L673 303.81 L674 303.81 L675 303.81 L676 303.81 L677 303.81 L678 303.81 L679 303.81 L680 303.81 L681 303.81 L682 303.81 L683 303.82 L684 303.82 L685 303.82 L686 303.82 L687 303.82 L688 303.82 L689 303.82 L690 303.82 L691 303.82 L692 303.82 L693 303.82 L694 303.82 L695 303.82 L696 303.82 L697 303.82 L698 303.82 L699 303.82 L700 303.82 L701 303.82 L702 303.82 L703 303.82 L704 303.82 L705 303.83 L706 303.83" fill="none" stroke="#000" stroke-width="1.8" stroke-linejoin="round"/>
<text transform="translate(311.2 41.9) scale(1 1.03)" font-size="25" text-anchor="middle">4.8</text>
<text transform="translate(350.8 270.2) scale(1 1.03)" font-size="25" text-anchor="middle">3.6</text>
<text transform="translate(446.1 273.6) scale(1 1.03)" font-size="25" text-anchor="middle">1.3</text>
<line x1="347.4" y1="276" x2="347.4" y2="311.5" stroke="#000" stroke-width="2.3" stroke-dasharray="8.7 6.1"/>
<line x1="445.6" y1="279" x2="445.6" y2="315" stroke="#000" stroke-width="2.3" stroke-dasharray="8.7 6.1"/>
<line x1="84.6" y1="319.9" x2="84.6" y2="673.8" stroke="#000" stroke-width="1.9"/>
<line x1="84.6" y1="705" x2="84.6" y2="904" stroke="#000" stroke-width="1.9"/>
<line x1="84.6" y1="936.3" x2="84.6" y2="1092.2" stroke="#000" stroke-width="1.9"/>
<line x1="74.1" y1="320.9" x2="84.6" y2="320.9" stroke="#000" stroke-width="2"/>
<text transform="translate(66.6 330.8) scale(1 1.03)" font-size="29.3" text-anchor="end">480</text>
<line x1="79.1" y1="350.23" x2="84.6" y2="350.23" stroke="#000" stroke-width="2"/>
<line x1="74.1" y1="379.57" x2="84.6" y2="379.57" stroke="#000" stroke-width="2"/>
<text transform="translate(66.6 389.47) scale(1 1.03)" font-size="29.3" text-anchor="end">420</text>
<line x1="79.1" y1="408.9" x2="84.6" y2="408.9" stroke="#000" stroke-width="2"/>
<line x1="74.1" y1="438.23" x2="84.6" y2="438.23" stroke="#000" stroke-width="2"/>
<text transform="translate(66.6 448.13) scale(1 1.03)" font-size="29.3" text-anchor="end">360</text>
<line x1="79.1" y1="467.57" x2="84.6" y2="467.57" stroke="#000" stroke-width="2"/>
<line x1="74.1" y1="496.9" x2="84.6" y2="496.9" stroke="#000" stroke-width="2"/>
<text transform="translate(66.6 506.8) scale(1 1.03)" font-size="29.3" text-anchor="end">300</text>
<line x1="79.1" y1="526.23" x2="84.6" y2="526.23" stroke="#000" stroke-width="2"/>
<line x1="74.1" y1="555.57" x2="84.6" y2="555.57" stroke="#000" stroke-width="2"/>
<text transform="translate(66.6 565.47) scale(1 1.03)" font-size="29.3" text-anchor="end">240</text>
<line x1="79.1" y1="584.9" x2="84.6" y2="584.9" stroke="#000" stroke-width="2"/>
<line x1="74.1" y1="614.23" x2="84.6" y2="614.23" stroke="#000" stroke-width="2"/>
<text transform="translate(66.6 624.13) scale(1 1.03)" font-size="29.3" text-anchor="end">180</text>
<line x1="79.1" y1="643.57" x2="84.6" y2="643.57" stroke="#000" stroke-width="2"/>
<line x1="74.1" y1="672.9" x2="84.6" y2="672.9" stroke="#000" stroke-width="2"/>
<text transform="translate(66.6 682.8) scale(1 1.03)" font-size="29.3" text-anchor="end">120</text>
<line x1="74.1" y1="706" x2="84.6" y2="706" stroke="#000" stroke-width="2"/>
<text transform="translate(66.6 715.9) scale(1 1.03)" font-size="29.3" text-anchor="end">60</text>
<line x1="79.1" y1="730.64" x2="84.6" y2="730.64" stroke="#000" stroke-width="2"/>
<line x1="74.1" y1="755.27" x2="84.6" y2="755.27" stroke="#000" stroke-width="2"/>
<text transform="translate(66.6 765.17) scale(1 1.03)" font-size="29.3" text-anchor="end">50</text>
<line x1="79.1" y1="779.91" x2="84.6" y2="779.91" stroke="#000" stroke-width="2"/>
<line x1="74.1" y1="804.55" x2="84.6" y2="804.55" stroke="#000" stroke-width="2"/>
<text transform="translate(66.6 814.45) scale(1 1.03)" font-size="29.3" text-anchor="end">40</text>
<line x1="79.1" y1="829.19" x2="84.6" y2="829.19" stroke="#000" stroke-width="2"/>
<line x1="74.1" y1="853.83" x2="84.6" y2="853.83" stroke="#000" stroke-width="2"/>
<text transform="translate(66.6 863.73) scale(1 1.03)" font-size="29.3" text-anchor="end">30</text>
<line x1="79.1" y1="878.46" x2="84.6" y2="878.46" stroke="#000" stroke-width="2"/>
<line x1="74.1" y1="903.1" x2="84.6" y2="903.1" stroke="#000" stroke-width="2"/>
<text transform="translate(66.6 913) scale(1 1.03)" font-size="29.3" text-anchor="end">20</text>
<line x1="74.1" y1="937.3" x2="84.6" y2="937.3" stroke="#000" stroke-width="2"/>
<text transform="translate(66.6 947.2) scale(1 1.03)" font-size="29.3" text-anchor="end">10</text>
<line x1="79.1" y1="951.77" x2="84.6" y2="951.77" stroke="#000" stroke-width="2"/>
<line x1="74.1" y1="966.24" x2="84.6" y2="966.24" stroke="#000" stroke-width="2"/>
<text transform="translate(66.6 976.14) scale(1 1.03)" font-size="29.3" text-anchor="end">8</text>
<line x1="79.1" y1="980.71" x2="84.6" y2="980.71" stroke="#000" stroke-width="2"/>
<line x1="74.1" y1="995.18" x2="84.6" y2="995.18" stroke="#000" stroke-width="2"/>
<text transform="translate(66.6 1005.08) scale(1 1.03)" font-size="29.3" text-anchor="end">6</text>
<line x1="79.1" y1="1009.65" x2="84.6" y2="1009.65" stroke="#000" stroke-width="2"/>
<line x1="74.1" y1="1024.12" x2="84.6" y2="1024.12" stroke="#000" stroke-width="2"/>
<text transform="translate(66.6 1034.02) scale(1 1.03)" font-size="29.3" text-anchor="end">4</text>
<line x1="79.1" y1="1038.59" x2="84.6" y2="1038.59" stroke="#000" stroke-width="2"/>
<line x1="74.1" y1="1053.06" x2="84.6" y2="1053.06" stroke="#000" stroke-width="2"/>
<text transform="translate(66.6 1062.96) scale(1 1.03)" font-size="29.3" text-anchor="end">2</text>
<line x1="79.1" y1="1067.53" x2="84.6" y2="1067.53" stroke="#000" stroke-width="2"/>
<text transform="translate(66.6 1091.9) scale(1 1.03)" font-size="29.3" text-anchor="end">0</text>
<line x1="74.1" y1="1082" x2="707.95" y2="1082" stroke="#000" stroke-width="2"/>
<line x1="84.5" y1="1082" x2="84.5" y2="1092.2" stroke="#000" stroke-width="1.9"/>
<text transform="translate(84.5 1122.3) scale(1 1.03)" font-size="29.3" text-anchor="middle">10</text>
<line x1="292" y1="1082" x2="292" y2="1092.2" stroke="#000" stroke-width="1.9"/>
<text transform="translate(292 1122.3) scale(1 1.03)" font-size="29.3" text-anchor="middle">5</text>
<line x1="499.5" y1="1082" x2="499.5" y2="1092.2" stroke="#000" stroke-width="1.9"/>
<text transform="translate(499.5 1122.3) scale(1 1.03)" font-size="29.3" text-anchor="middle">0</text>
<line x1="707" y1="1082" x2="707" y2="1092.2" stroke="#000" stroke-width="1.9"/>
<text transform="translate(703.5 1122.3) scale(1 1.03)" font-size="29.3" text-anchor="middle">-5</text>
<line x1="188.25" y1="1082" x2="188.25" y2="1087.3" stroke="#000" stroke-width="1.9"/>
<line x1="395.75" y1="1082" x2="395.75" y2="1087.3" stroke="#000" stroke-width="1.9"/>
<line x1="603.25" y1="1082" x2="603.25" y2="1087.3" stroke="#000" stroke-width="1.9"/>
<text x="379.4" y="1161.2" font-size="29.3" font-weight="bold" text-anchor="middle"><tspan font-size="19.3" dy="-8.6">1</tspan><tspan dy="8.6">H NMR shift (ppm)</tspan></text>
<rect x="717" y="371.4" width="51.1" height="264.06" fill="#0080ff"/>
<rect x="717" y="386.07" width="51.1" height="249.39" fill="#4040ff"/>
<rect x="717" y="400.74" width="51.1" height="234.72" fill="#3850dc"/>
<rect x="717" y="415.41" width="51.1" height="220.05" fill="#3060b9"/>
<rect x="717" y="430.08" width="51.1" height="205.38" fill="#287096"/>
<rect x="717" y="444.75" width="51.1" height="190.71" fill="#208073"/>
<rect x="717" y="459.42" width="51.1" height="176.04" fill="#189050"/>
<rect x="717" y="474.09" width="51.1" height="161.37" fill="#10a02d"/>
<rect x="717" y="488.76" width="51.1" height="146.7" fill="#08b00a"/>
<rect x="717" y="503.43" width="51.1" height="132.03" fill="#18c708"/>
<rect x="717" y="518.1" width="51.1" height="117.36" fill="#39cf10"/>
<rect x="717" y="532.77" width="51.1" height="102.69" fill="#5ad718"/>
<rect x="717" y="547.44" width="51.1" height="88.02" fill="#7bdf20"/>
<rect x="717" y="562.11" width="51.1" height="73.35" fill="#9ce728"/>
<rect x="717" y="576.78" width="51.1" height="58.68" fill="#bdef30"/>
<rect x="717" y="591.45" width="51.1" height="44.01" fill="#def738"/>
<rect x="717" y="606.12" width="51.1" height="29.34" fill="#ffff40"/>
<rect x="717" y="620.79" width="51.1" height="14.67" fill="#c0c0c0"/>
<text x="715.6" y="352.9" font-size="25">Intensity</text>
<text transform="translate(773.2 393.37) scale(1 1.03)" font-size="20">0.0</text>
<text transform="translate(773.2 452.05) scale(1 1.03)" font-size="20">2.0E+7</text>
<text transform="translate(773.2 510.73) scale(1 1.03)" font-size="20">4.0E+7</text>
<text transform="translate(773.2 569.41) scale(1 1.03)" font-size="20">6.0E+7</text>
<text transform="translate(773.2 628.09) scale(1 1.03)" font-size="20">8.0E+7</text>
</g>
<g id="panel-b">
<defs>
<radialGradient id="gO" cx="0.5" cy="0.5" r="0.5" fx="0.42" fy="0.38"><stop offset="0" stop-color="#ff6a5e"/><stop offset="0.25" stop-color="#ee2a2e"/><stop offset="0.7" stop-color="#d81a20"/><stop offset="1" stop-color="#8e0c10"/></radialGradient>
<radialGradient id="gM" cx="0.5" cy="0.5" r="0.5" fx="0.42" fy="0.38"><stop offset="0" stop-color="#c0dcff"/><stop offset="0.25" stop-color="#76a4e6"/><stop offset="0.7" stop-color="#6690d4"/><stop offset="1" stop-color="#48699e"/></radialGradient>
<radialGradient id="gA" cx="0.5" cy="0.5" r="0.5" fx="0.42" fy="0.38"><stop offset="0" stop-color="#f2ffd8"/><stop offset="0.25" stop-color="#c0deA0"/><stop offset="0.7" stop-color="#a9c888"/><stop offset="1" stop-color="#7c9762"/></radialGradient>
<radialGradient id="gH" cx="0.5" cy="0.5" r="0.5" fx="0.42" fy="0.38"><stop offset="0" stop-color="#ffffff"/><stop offset="0.25" stop-color="#d6d6d6"/><stop offset="0.7" stop-color="#b0b0b0"/><stop offset="1" stop-color="#666666"/></radialGradient>
<radialGradient id="gML" cx="0.5" cy="0.5" r="0.5" fx="0.58" fy="0.44"><stop offset="0" stop-color="#e8f4ff"/><stop offset="0.07" stop-color="#b4d2fa"/><stop offset="0.22" stop-color="#80aee8"/><stop offset="0.6" stop-color="#5c8cd4"/><stop offset="0.85" stop-color="#4570b0"/><stop offset="1" stop-color="#2c4a7c"/></radialGradient>
<radialGradient id="gAL" cx="0.5" cy="0.5" r="0.5" fx="0.55" fy="0.44"><stop offset="0" stop-color="#fbfff0"/><stop offset="0.07" stop-color="#d8f4c4"/><stop offset="0.22" stop-color="#b2dea0"/><stop offset="0.6" stop-color="#94c888"/><stop offset="0.85" stop-color="#78a870"/><stop offset="1" stop-color="#4e7648"/></radialGradient>
<radialGradient id="gOL" cx="0.5" cy="0.5" r="0.5" fx="0.55" fy="0.45"><stop offset="0" stop-color="#ffe0e0"/><stop offset="0.07" stop-color="#ff8080"/><stop offset="0.2" stop-color="#ff2020"/><stop offset="0.55" stop-color="#f80000"/><stop offset="0.8" stop-color="#c80000"/><stop offset="1" stop-color="#5a0000"/></radialGradient>
<radialGradient id="gHL" cx="0.5" cy="0.5" r="0.5" fx="0.55" fy="0.47"><stop offset="0" stop-color="#ffffff"/><stop offset="0.07" stop-color="#e4e4e4"/><stop offset="0.22" stop-color="#c0c0c0"/><stop offset="0.55" stop-color="#a4a4a4"/><stop offset="0.85" stop-color="#808080"/><stop offset="1" stop-color="#484848"/></radialGradient>
</defs>
<g stroke-linecap="butt">
<path d="M882.9 243.5L904.85 248.6" stroke="#a81319" stroke-width="5.8"/>
<path d="M904.85 248.6L926.8 253.7" stroke="#7b9262" stroke-width="5.8"/>
<path d="M926.8 253.7L948.05 243.85" stroke="#8aa46e" stroke-width="5.8"/>
<path d="M948.05 243.85L969.3 234" stroke="#bc151c" stroke-width="5.8"/>
<path d="M926.8 253.7L950.25 270.15" stroke="#6c8056" stroke-width="5.8"/>
<path d="M950.25 270.15L973.7 286.6" stroke="#931016" stroke-width="5.8"/>
<path d="M926.8 253.7L926.35 284.85" stroke="#88a26d" stroke-width="5.8"/>
<path d="M926.35 284.85L925.9 316" stroke="#ba151b" stroke-width="5.8"/>
<path d="M969.3 234L995.35 242.5" stroke="#a21218" stroke-width="5.8"/>
<path d="M995.35 242.5L1021.4 251" stroke="#486695" stroke-width="5.8"/>
<path d="M973.7 286.6L997.55 268.8" stroke="#bd151c" stroke-width="5.8"/>
<path d="M997.55 268.8L1021.4 251" stroke="#5577ae" stroke-width="5.8"/>
<path d="M1021.4 251L1048 236.3" stroke="#5577ae" stroke-width="5.8"/>
<path d="M1048 236.3L1074.6 221.6" stroke="#bd151c" stroke-width="5.8"/>
<path d="M1021.4 251L1024.7 280.6" stroke="#4f6fa3" stroke-width="5.8"/>
<path d="M1024.7 280.6L1028 310.2" stroke="#b1141a" stroke-width="5.8"/>
<path d="M1074.6 221.6L1100.8 237.3" stroke="#961116" stroke-width="5.8"/>
<path d="M1100.8 237.3L1127 253" stroke="#435e8a" stroke-width="5.8"/>
<path d="M1127 253L1153.5 238.8" stroke="#5577ae" stroke-width="5.8"/>
<path d="M1153.5 238.8L1180 224.6" stroke="#bd151c" stroke-width="5.8"/>
<path d="M1127 253L1154.2 269.7" stroke="#435e8a" stroke-width="5.8"/>
<path d="M1154.2 269.7L1181.4 286.4" stroke="#951116" stroke-width="5.8"/>
<path d="M1127 253L1119.5 285.3" stroke="#5476ad" stroke-width="5.8"/>
<path d="M1119.5 285.3L1112 317.6" stroke="#bb151b" stroke-width="5.8"/>
<path d="M1180 224.6L1202.5 242.3" stroke="#921015" stroke-width="5.8"/>
<path d="M1202.5 242.3L1225 260" stroke="#415c87" stroke-width="5.8"/>
<path d="M1225 260L1236.8 248.25" stroke="#5577af" stroke-width="5.8"/>
<path d="M1236.8 248.25L1248.6 236.5" stroke="#909090" stroke-width="5.8"/>
<path d="M1225 260L1203.2 273.2" stroke="#5577ae" stroke-width="5.8"/>
<path d="M1203.2 273.2L1181.4 286.4" stroke="#bd151c" stroke-width="5.8"/>
<path d="M1225 260L1255.25 273.5" stroke="#46628f" stroke-width="5.8"/>
<path d="M1255.25 273.5L1285.5 287" stroke="#9b1117" stroke-width="5.8"/>
<path d="M973.7 286.6L974.65 314.8" stroke="#b7141b" stroke-width="5.8"/>
<path d="M974.65 314.8L975.6 343" stroke="#5273a9" stroke-width="5.8"/>
<path d="M925.9 316L950.75 329.5" stroke="#971116" stroke-width="5.8"/>
<path d="M950.75 329.5L975.6 343" stroke="#445f8c" stroke-width="5.8"/>
<path d="M1028 310.2L1001.8 326.6" stroke="#bd151c" stroke-width="5.8"/>
<path d="M1001.8 326.6L975.6 343" stroke="#5577ae" stroke-width="5.8"/>
<path d="M1028 310.2L1050.25 327.4" stroke="#921015" stroke-width="5.8"/>
<path d="M1050.25 327.4L1072.5 344.6" stroke="#6b7f56" stroke-width="5.8"/>
<path d="M1112 317.6L1092.25 331.1" stroke="#bd151c" stroke-width="5.8"/>
<path d="M1092.25 331.1L1072.5 344.6" stroke="#8ba56f" stroke-width="5.8"/>
<path d="M1112 317.6L1146.7 335.3" stroke="#991116" stroke-width="5.8"/>
<path d="M1146.7 335.3L1181.4 353" stroke="#44608d" stroke-width="5.8"/>
<path d="M1181.4 286.4L1181.4 319.7" stroke="#ba151b" stroke-width="5.8"/>
<path d="M1181.4 319.7L1181.4 353" stroke="#5375ab" stroke-width="5.8"/>
<path d="M1285.5 287L1283.45 322" stroke="#ba151b" stroke-width="5.8"/>
<path d="M1283.45 322L1281.4 357" stroke="#5375ac" stroke-width="5.8"/>
<path d="M975.6 343L970.3 373.5" stroke="#5476ac" stroke-width="5.8"/>
<path d="M970.3 373.5L965 404" stroke="#bb151b" stroke-width="5.8"/>
<path d="M1072.5 344.6L1098.45 360.05" stroke="#6e8258" stroke-width="5.8"/>
<path d="M1098.45 360.05L1124.4 375.5" stroke="#961116" stroke-width="5.8"/>
<path d="M1072.5 344.6L1067.75 373.3" stroke="#89a36e" stroke-width="5.8"/>
<path d="M1067.75 373.3L1063 402" stroke="#bb151b" stroke-width="5.8"/>
<path d="M1181.4 353L1152.9 364.25" stroke="#5476ae" stroke-width="5.8"/>
<path d="M1152.9 364.25L1124.4 375.5" stroke="#bc151c" stroke-width="5.8"/>
<path d="M1181.4 353L1205.7 367" stroke="#435f8b" stroke-width="5.8"/>
<path d="M1205.7 367L1230 381" stroke="#961116" stroke-width="5.8"/>
<path d="M1181.4 353L1183.5 381.65" stroke="#5171a6" stroke-width="5.8"/>
<path d="M1183.5 381.65L1185.6 410.3" stroke="#b4141a" stroke-width="5.8"/>
<path d="M1281.4 357L1255.7 369" stroke="#5477ae" stroke-width="5.8"/>
<path d="M1255.7 369L1230 381" stroke="#bc151c" stroke-width="5.8"/>
<path d="M1281.4 357L1308.2 369" stroke="#46628f" stroke-width="5.8"/>
<path d="M1308.2 369L1335 381" stroke="#9b1117" stroke-width="5.8"/>
<path d="M1281.4 357L1275.2 386.5" stroke="#5476ad" stroke-width="5.8"/>
<path d="M1275.2 386.5L1269 416" stroke="#bb151b" stroke-width="5.8"/>
<path d="M1124.4 375.5L1123.95 406.05" stroke="#ba151b" stroke-width="5.8"/>
<path d="M1123.95 406.05L1123.5 436.6" stroke="#5375ab" stroke-width="5.8"/>
<path d="M1230 381L1231.35 410.6" stroke="#b6141b" stroke-width="5.8"/>
<path d="M1231.35 410.6L1232.7 440.2" stroke="#5272a8" stroke-width="5.8"/>
<path d="M1335 381L1335.6 411.5" stroke="#b8151b" stroke-width="5.8"/>
<path d="M1335.6 411.5L1336.2 442" stroke="#5274aa" stroke-width="5.8"/>
<path d="M965 404L991.75 419.7" stroke="#961116" stroke-width="5.8"/>
<path d="M991.75 419.7L1018.5 435.4" stroke="#435e8a" stroke-width="5.8"/>
<path d="M1063 402L1040.75 418.7" stroke="#bd151c" stroke-width="5.8"/>
<path d="M1040.75 418.7L1018.5 435.4" stroke="#5577ae" stroke-width="5.8"/>
<path d="M1063 402L1093.25 419.3" stroke="#961116" stroke-width="5.8"/>
<path d="M1093.25 419.3L1123.5 436.6" stroke="#435f8b" stroke-width="5.8"/>
<path d="M1185.6 410.3L1154.55 423.45" stroke="#bc151c" stroke-width="5.8"/>
<path d="M1154.55 423.45L1123.5 436.6" stroke="#5476ae" stroke-width="5.8"/>
<path d="M1185.6 410.3L1209.15 425.25" stroke="#951116" stroke-width="5.8"/>
<path d="M1209.15 425.25L1232.7 440.2" stroke="#435e89" stroke-width="5.8"/>
<path d="M1269 416L1250.85 428.1" stroke="#bd151c" stroke-width="5.8"/>
<path d="M1250.85 428.1L1232.7 440.2" stroke="#5577ae" stroke-width="5.8"/>
<path d="M1269 416L1302.6 429" stroke="#9e1217" stroke-width="5.8"/>
<path d="M1302.6 429L1336.2 442" stroke="#476492" stroke-width="5.8"/>
<path d="M1018.5 435.4L1044.25 450.4" stroke="#435e8a" stroke-width="5.8"/>
<path d="M1044.25 450.4L1070 465.4" stroke="#961116" stroke-width="5.8"/>
<path d="M1018.5 435.4L1024.3 469.2" stroke="#4d6c9f" stroke-width="5.8"/>
<path d="M1024.3 469.2L1030.1 503" stroke="#ac1319" stroke-width="5.8"/>
<path d="M1123.5 436.6L1096.75 451" stroke="#5577ae" stroke-width="5.8"/>
<path d="M1096.75 451L1070 465.4" stroke="#bd151c" stroke-width="5.8"/>
<path d="M1123.5 436.6L1145.25 450.55" stroke="#435d89" stroke-width="5.8"/>
<path d="M1145.25 450.55L1167 464.5" stroke="#941116" stroke-width="5.8"/>
<path d="M1123.5 436.6L1122.5 468" stroke="#5375ab" stroke-width="5.8"/>
<path d="M1122.5 468L1121.5 499.4" stroke="#ba151b" stroke-width="5.8"/>
<path d="M1232.7 440.2L1199.85 452.35" stroke="#5476ad" stroke-width="5.8"/>
<path d="M1199.85 452.35L1167 464.5" stroke="#bc151c" stroke-width="5.8"/>
<path d="M1232.7 440.2L1256.35 454.9" stroke="#435e89" stroke-width="5.8"/>
<path d="M1256.35 454.9L1280 469.6" stroke="#951116" stroke-width="5.8"/>
<path d="M1232.7 440.2L1230.6 470.85" stroke="#5375ac" stroke-width="5.8"/>
<path d="M1230.6 470.85L1228.5 501.5" stroke="#ba151b" stroke-width="5.8"/>
<path d="M1336.2 442L1308.1 455.8" stroke="#5577ae" stroke-width="5.8"/>
<path d="M1308.1 455.8L1280 469.6" stroke="#bd151c" stroke-width="5.8"/>
<path d="M1336.2 442L1362.15 457.6" stroke="#435e8a" stroke-width="5.8"/>
<path d="M1362.15 457.6L1388.1 473.2" stroke="#961116" stroke-width="5.8"/>
<path d="M1336.2 442L1335.1 472.8" stroke="#5375ab" stroke-width="5.8"/>
<path d="M1335.1 472.8L1334 503.6" stroke="#ba151b" stroke-width="5.8"/>
<path d="M1070 465.4L1070 498" stroke="#ba151b" stroke-width="5.8"/>
<path d="M1070 498L1070 530.6" stroke="#88a26d" stroke-width="5.8"/>
<path d="M1167 464.5L1171.75 501.45" stroke="#af141a" stroke-width="5.8"/>
<path d="M1171.75 501.45L1176.5 538.4" stroke="#4f6ea2" stroke-width="5.8"/>
<path d="M1280 469.6L1281.05 504.6" stroke="#b7151b" stroke-width="5.8"/>
<path d="M1281.05 504.6L1282.1 539.6" stroke="#5273a9" stroke-width="5.8"/>
<path d="M1388.1 473.2L1385.05 503.85" stroke="#ba151b" stroke-width="5.8"/>
<path d="M1385.05 503.85L1382 534.5" stroke="#89a26d" stroke-width="5.8"/>
<path d="M1030.1 503L1050.05 516.8" stroke="#931116" stroke-width="5.8"/>
<path d="M1050.05 516.8L1070 530.6" stroke="#6c8056" stroke-width="5.8"/>
<path d="M1121.5 499.4L1095.75 515" stroke="#bd151c" stroke-width="5.8"/>
<path d="M1095.75 515L1070 530.6" stroke="#8aa46f" stroke-width="5.8"/>
<path d="M1121.5 499.4L1149 518.9" stroke="#931016" stroke-width="5.8"/>
<path d="M1149 518.9L1176.5 538.4" stroke="#425d88" stroke-width="5.8"/>
<path d="M1228.5 501.5L1202.5 519.95" stroke="#bd151c" stroke-width="5.8"/>
<path d="M1202.5 519.95L1176.5 538.4" stroke="#5577ae" stroke-width="5.8"/>
<path d="M1228.5 501.5L1255.3 520.55" stroke="#931016" stroke-width="5.8"/>
<path d="M1255.3 520.55L1282.1 539.6" stroke="#425d88" stroke-width="5.8"/>
<path d="M1334 503.6L1308.05 521.6" stroke="#bd151c" stroke-width="5.8"/>
<path d="M1308.05 521.6L1282.1 539.6" stroke="#5577ae" stroke-width="5.8"/>
<path d="M1334 503.6L1358 519.05" stroke="#941116" stroke-width="5.8"/>
<path d="M1358 519.05L1382 534.5" stroke="#6d8157" stroke-width="5.8"/>
<path d="M1070 530.6L1043.75 544.3" stroke="#8aa46f" stroke-width="5.8"/>
<path d="M1043.75 544.3L1017.5 558" stroke="#bd151c" stroke-width="5.8"/>
<path d="M1070 530.6L1096.25 542" stroke="#72885b" stroke-width="5.8"/>
<path d="M1096.25 542L1122.5 553.4" stroke="#9c1117" stroke-width="5.8"/>
<path d="M1070 530.6L1070 560.6" stroke="#88a26d" stroke-width="5.8"/>
<path d="M1070 560.6L1070 590.6" stroke="#ba151b" stroke-width="5.8"/>
<path d="M1176.5 538.4L1149.5 545.9" stroke="#5476ad" stroke-width="5.8"/>
<path d="M1149.5 545.9L1122.5 553.4" stroke="#bc151b" stroke-width="5.8"/>
<path d="M1176.5 538.4L1202 550.4" stroke="#45618e" stroke-width="5.8"/>
<path d="M1202 550.4L1227.5 562.4" stroke="#9a1117" stroke-width="5.8"/>
<path d="M1176.5 538.4L1176.2 569" stroke="#5375ab" stroke-width="5.8"/>
<path d="M1176.2 569L1175.9 599.6" stroke="#ba151b" stroke-width="5.8"/>
<path d="M1282.1 539.6L1254.8 551" stroke="#5476ae" stroke-width="5.8"/>
<path d="M1254.8 551L1227.5 562.4" stroke="#bc151c" stroke-width="5.8"/>
<path d="M1282.1 539.6L1314.05 552.5" stroke="#466391" stroke-width="5.8"/>
<path d="M1314.05 552.5L1346 565.4" stroke="#9d1217" stroke-width="5.8"/>
<path d="M1282.1 539.6L1281.5 570.5" stroke="#5375ab" stroke-width="5.8"/>
<path d="M1281.5 570.5L1280.9 601.4" stroke="#ba151b" stroke-width="5.8"/>
<path d="M1382 534.5L1364 549.95" stroke="#8ba56f" stroke-width="5.8"/>
<path d="M1364 549.95L1346 565.4" stroke="#bd151c" stroke-width="5.8"/>
<path d="M1382 534.5L1392.5 557" stroke="#71865a" stroke-width="5.8"/>
<path d="M1392.5 557L1403 579.5" stroke="#9a1117" stroke-width="5.8"/>
<path d="M882.9 243.5L904.85 248.6" stroke="#d6181f" stroke-width="3.6"/>
<path d="M904.85 248.6L926.8 253.7" stroke="#9dba7d" stroke-width="3.6"/>
<path d="M926.8 253.7L948.05 243.85" stroke="#b0d18d" stroke-width="3.6"/>
<path d="M948.05 243.85L969.3 234" stroke="#f01b23" stroke-width="3.6"/>
<path d="M926.8 253.7L950.25 270.15" stroke="#8aa36e" stroke-width="3.6"/>
<path d="M950.25 270.15L973.7 286.6" stroke="#bc151c" stroke-width="3.6"/>
<path d="M926.8 253.7L926.35 284.85" stroke="#aece8b" stroke-width="3.6"/>
<path d="M926.35 284.85L925.9 316" stroke="#ed1b23" stroke-width="3.6"/>
<path d="M969.3 234L995.35 242.5" stroke="#ce171e" stroke-width="3.6"/>
<path d="M995.35 242.5L1021.4 251" stroke="#5c82be" stroke-width="3.6"/>
<path d="M973.7 286.6L997.55 268.8" stroke="#f11b23" stroke-width="3.6"/>
<path d="M997.55 268.8L1021.4 251" stroke="#6c98de" stroke-width="3.6"/>
<path d="M1021.4 251L1048 236.3" stroke="#6c97de" stroke-width="3.6"/>
<path d="M1048 236.3L1074.6 221.6" stroke="#f11b23" stroke-width="3.6"/>
<path d="M1021.4 251L1024.7 280.6" stroke="#658ed0" stroke-width="3.6"/>
<path d="M1024.7 280.6L1028 310.2" stroke="#e11921" stroke-width="3.6"/>
<path d="M1074.6 221.6L1100.8 237.3" stroke="#bf151c" stroke-width="3.6"/>
<path d="M1100.8 237.3L1127 253" stroke="#5678b0" stroke-width="3.6"/>
<path d="M1127 253L1153.5 238.8" stroke="#6c97de" stroke-width="3.6"/>
<path d="M1153.5 238.8L1180 224.6" stroke="#f11b23" stroke-width="3.6"/>
<path d="M1127 253L1154.2 269.7" stroke="#5578af" stroke-width="3.6"/>
<path d="M1154.2 269.7L1181.4 286.4" stroke="#be151c" stroke-width="3.6"/>
<path d="M1127 253L1119.5 285.3" stroke="#6b96dc" stroke-width="3.6"/>
<path d="M1119.5 285.3L1112 317.6" stroke="#ef1b23" stroke-width="3.6"/>
<path d="M1180 224.6L1202.5 242.3" stroke="#ba151b" stroke-width="3.6"/>
<path d="M1202.5 242.3L1225 260" stroke="#5375ac" stroke-width="3.6"/>
<path d="M1225 260L1236.8 248.25" stroke="#6c98df" stroke-width="3.6"/>
<path d="M1236.8 248.25L1248.6 236.5" stroke="#b7b7b7" stroke-width="3.6"/>
<path d="M1225 260L1203.2 273.2" stroke="#6c98de" stroke-width="3.6"/>
<path d="M1203.2 273.2L1181.4 286.4" stroke="#f11b23" stroke-width="3.6"/>
<path d="M1225 260L1255.25 273.5" stroke="#597db7" stroke-width="3.6"/>
<path d="M1255.25 273.5L1285.5 287" stroke="#c6161d" stroke-width="3.6"/>
<path d="M973.7 286.6L974.65 314.8" stroke="#e91a22" stroke-width="3.6"/>
<path d="M974.65 314.8L975.6 343" stroke="#6993d7" stroke-width="3.6"/>
<path d="M925.9 316L950.75 329.5" stroke="#c1161c" stroke-width="3.6"/>
<path d="M950.75 329.5L975.6 343" stroke="#5779b2" stroke-width="3.6"/>
<path d="M1028 310.2L1001.8 326.6" stroke="#f11b23" stroke-width="3.6"/>
<path d="M1001.8 326.6L975.6 343" stroke="#6c98de" stroke-width="3.6"/>
<path d="M1028 310.2L1050.25 327.4" stroke="#ba151b" stroke-width="3.6"/>
<path d="M1050.25 327.4L1072.5 344.6" stroke="#88a26d" stroke-width="3.6"/>
<path d="M1112 317.6L1092.25 331.1" stroke="#f11b23" stroke-width="3.6"/>
<path d="M1092.25 331.1L1072.5 344.6" stroke="#b1d28d" stroke-width="3.6"/>
<path d="M1112 317.6L1146.7 335.3" stroke="#c2161d" stroke-width="3.6"/>
<path d="M1146.7 335.3L1181.4 353" stroke="#577ab3" stroke-width="3.6"/>
<path d="M1181.4 286.4L1181.4 319.7" stroke="#ed1b23" stroke-width="3.6"/>
<path d="M1181.4 319.7L1181.4 353" stroke="#6a95da" stroke-width="3.6"/>
<path d="M1285.5 287L1283.45 322" stroke="#ed1b23" stroke-width="3.6"/>
<path d="M1283.45 322L1281.4 357" stroke="#6a95db" stroke-width="3.6"/>
<path d="M975.6 343L970.3 373.5" stroke="#6b96dc" stroke-width="3.6"/>
<path d="M970.3 373.5L965 404" stroke="#ee1b23" stroke-width="3.6"/>
<path d="M1072.5 344.6L1098.45 360.05" stroke="#8ca670" stroke-width="3.6"/>
<path d="M1098.45 360.05L1124.4 375.5" stroke="#bf151c" stroke-width="3.6"/>
<path d="M1072.5 344.6L1067.75 373.3" stroke="#afcf8c" stroke-width="3.6"/>
<path d="M1067.75 373.3L1063 402" stroke="#ee1b23" stroke-width="3.6"/>
<path d="M1181.4 353L1152.9 364.25" stroke="#6c97dd" stroke-width="3.6"/>
<path d="M1152.9 364.25L1124.4 375.5" stroke="#f01b23" stroke-width="3.6"/>
<path d="M1181.4 353L1205.7 367" stroke="#5679b1" stroke-width="3.6"/>
<path d="M1205.7 367L1230 381" stroke="#c0151c" stroke-width="3.6"/>
<path d="M1181.4 353L1183.5 381.65" stroke="#6790d3" stroke-width="3.6"/>
<path d="M1183.5 381.65L1185.6 410.3" stroke="#e51a22" stroke-width="3.6"/>
<path d="M1281.4 357L1255.7 369" stroke="#6c97de" stroke-width="3.6"/>
<path d="M1255.7 369L1230 381" stroke="#f01b23" stroke-width="3.6"/>
<path d="M1281.4 357L1308.2 369" stroke="#597cb6" stroke-width="3.6"/>
<path d="M1308.2 369L1335 381" stroke="#c6161d" stroke-width="3.6"/>
<path d="M1281.4 357L1275.2 386.5" stroke="#6b96dc" stroke-width="3.6"/>
<path d="M1275.2 386.5L1269 416" stroke="#ef1b23" stroke-width="3.6"/>
<path d="M1124.4 375.5L1123.95 406.05" stroke="#ed1b23" stroke-width="3.6"/>
<path d="M1123.95 406.05L1123.5 436.6" stroke="#6a95da" stroke-width="3.6"/>
<path d="M1230 381L1231.35 410.6" stroke="#e81a22" stroke-width="3.6"/>
<path d="M1231.35 410.6L1232.7 440.2" stroke="#6892d6" stroke-width="3.6"/>
<path d="M1335 381L1335.6 411.5" stroke="#eb1a22" stroke-width="3.6"/>
<path d="M1335.6 411.5L1336.2 442" stroke="#6994d8" stroke-width="3.6"/>
<path d="M965 404L991.75 419.7" stroke="#bf151c" stroke-width="3.6"/>
<path d="M991.75 419.7L1018.5 435.4" stroke="#5678b0" stroke-width="3.6"/>
<path d="M1063 402L1040.75 418.7" stroke="#f11b23" stroke-width="3.6"/>
<path d="M1040.75 418.7L1018.5 435.4" stroke="#6c98de" stroke-width="3.6"/>
<path d="M1063 402L1093.25 419.3" stroke="#c0151c" stroke-width="3.6"/>
<path d="M1093.25 419.3L1123.5 436.6" stroke="#5679b1" stroke-width="3.6"/>
<path d="M1185.6 410.3L1154.55 423.45" stroke="#f01b23" stroke-width="3.6"/>
<path d="M1154.55 423.45L1123.5 436.6" stroke="#6c97dd" stroke-width="3.6"/>
<path d="M1185.6 410.3L1209.15 425.25" stroke="#be151c" stroke-width="3.6"/>
<path d="M1209.15 425.25L1232.7 440.2" stroke="#5577af" stroke-width="3.6"/>
<path d="M1269 416L1250.85 428.1" stroke="#f11b23" stroke-width="3.6"/>
<path d="M1250.85 428.1L1232.7 440.2" stroke="#6c98de" stroke-width="3.6"/>
<path d="M1269 416L1302.6 429" stroke="#ca171e" stroke-width="3.6"/>
<path d="M1302.6 429L1336.2 442" stroke="#5a7fba" stroke-width="3.6"/>
<path d="M1018.5 435.4L1044.25 450.4" stroke="#5678b1" stroke-width="3.6"/>
<path d="M1044.25 450.4L1070 465.4" stroke="#bf151c" stroke-width="3.6"/>
<path d="M1018.5 435.4L1024.3 469.2" stroke="#628aca" stroke-width="3.6"/>
<path d="M1024.3 469.2L1030.1 503" stroke="#db1920" stroke-width="3.6"/>
<path d="M1123.5 436.6L1096.75 451" stroke="#6c97de" stroke-width="3.6"/>
<path d="M1096.75 451L1070 465.4" stroke="#f11b23" stroke-width="3.6"/>
<path d="M1123.5 436.6L1145.25 450.55" stroke="#5577af" stroke-width="3.6"/>
<path d="M1145.25 450.55L1167 464.5" stroke="#bd151c" stroke-width="3.6"/>
<path d="M1123.5 436.6L1122.5 468" stroke="#6a95db" stroke-width="3.6"/>
<path d="M1122.5 468L1121.5 499.4" stroke="#ed1b23" stroke-width="3.6"/>
<path d="M1232.7 440.2L1199.85 452.35" stroke="#6b97dd" stroke-width="3.6"/>
<path d="M1199.85 452.35L1167 464.5" stroke="#f01b23" stroke-width="3.6"/>
<path d="M1232.7 440.2L1256.35 454.9" stroke="#5578af" stroke-width="3.6"/>
<path d="M1256.35 454.9L1280 469.6" stroke="#be151c" stroke-width="3.6"/>
<path d="M1232.7 440.2L1230.6 470.85" stroke="#6a95db" stroke-width="3.6"/>
<path d="M1230.6 470.85L1228.5 501.5" stroke="#ed1b23" stroke-width="3.6"/>
<path d="M1336.2 442L1308.1 455.8" stroke="#6c97de" stroke-width="3.6"/>
<path d="M1308.1 455.8L1280 469.6" stroke="#f01b23" stroke-width="3.6"/>
<path d="M1336.2 442L1362.15 457.6" stroke="#5578b0" stroke-width="3.6"/>
<path d="M1362.15 457.6L1388.1 473.2" stroke="#bf151c" stroke-width="3.6"/>
<path d="M1336.2 442L1335.1 472.8" stroke="#6a95db" stroke-width="3.6"/>
<path d="M1335.1 472.8L1334 503.6" stroke="#ed1b23" stroke-width="3.6"/>
<path d="M1070 465.4L1070 498" stroke="#ed1b23" stroke-width="3.6"/>
<path d="M1070 498L1070 530.6" stroke="#adce8b" stroke-width="3.6"/>
<path d="M1167 464.5L1171.75 501.45" stroke="#df1921" stroke-width="3.6"/>
<path d="M1171.75 501.45L1176.5 538.4" stroke="#648dce" stroke-width="3.6"/>
<path d="M1280 469.6L1281.05 504.6" stroke="#ea1a22" stroke-width="3.6"/>
<path d="M1281.05 504.6L1282.1 539.6" stroke="#6993d7" stroke-width="3.6"/>
<path d="M1388.1 473.2L1385.05 503.85" stroke="#ee1b23" stroke-width="3.6"/>
<path d="M1385.05 503.85L1382 534.5" stroke="#aecf8b" stroke-width="3.6"/>
<path d="M1030.1 503L1050.05 516.8" stroke="#bc151c" stroke-width="3.6"/>
<path d="M1050.05 516.8L1070 530.6" stroke="#8aa46e" stroke-width="3.6"/>
<path d="M1121.5 499.4L1095.75 515" stroke="#f11b23" stroke-width="3.6"/>
<path d="M1095.75 515L1070 530.6" stroke="#b0d28d" stroke-width="3.6"/>
<path d="M1121.5 499.4L1149 518.9" stroke="#bc151b" stroke-width="3.6"/>
<path d="M1149 518.9L1176.5 538.4" stroke="#5476ad" stroke-width="3.6"/>
<path d="M1228.5 501.5L1202.5 519.95" stroke="#f11b23" stroke-width="3.6"/>
<path d="M1202.5 519.95L1176.5 538.4" stroke="#6c98de" stroke-width="3.6"/>
<path d="M1228.5 501.5L1255.3 520.55" stroke="#bb151b" stroke-width="3.6"/>
<path d="M1255.3 520.55L1282.1 539.6" stroke="#5476ad" stroke-width="3.6"/>
<path d="M1334 503.6L1308.05 521.6" stroke="#f11b23" stroke-width="3.6"/>
<path d="M1308.05 521.6L1282.1 539.6" stroke="#6c98de" stroke-width="3.6"/>
<path d="M1334 503.6L1358 519.05" stroke="#bd151c" stroke-width="3.6"/>
<path d="M1358 519.05L1382 534.5" stroke="#8ba56f" stroke-width="3.6"/>
<path d="M1070 530.6L1043.75 544.3" stroke="#b0d18d" stroke-width="3.6"/>
<path d="M1043.75 544.3L1017.5 558" stroke="#f11b23" stroke-width="3.6"/>
<path d="M1070 530.6L1096.25 542" stroke="#92ad74" stroke-width="3.6"/>
<path d="M1096.25 542L1122.5 553.4" stroke="#c7161d" stroke-width="3.6"/>
<path d="M1070 530.6L1070 560.6" stroke="#adce8b" stroke-width="3.6"/>
<path d="M1070 560.6L1070 590.6" stroke="#ed1b23" stroke-width="3.6"/>
<path d="M1176.5 538.4L1149.5 545.9" stroke="#6b96dd" stroke-width="3.6"/>
<path d="M1149.5 545.9L1122.5 553.4" stroke="#ef1b23" stroke-width="3.6"/>
<path d="M1176.5 538.4L1202 550.4" stroke="#587cb5" stroke-width="3.6"/>
<path d="M1202 550.4L1227.5 562.4" stroke="#c5161d" stroke-width="3.6"/>
<path d="M1176.5 538.4L1176.2 569" stroke="#6a95da" stroke-width="3.6"/>
<path d="M1176.2 569L1175.9 599.6" stroke="#ed1b23" stroke-width="3.6"/>
<path d="M1282.1 539.6L1254.8 551" stroke="#6c97dd" stroke-width="3.6"/>
<path d="M1254.8 551L1227.5 562.4" stroke="#f01b23" stroke-width="3.6"/>
<path d="M1282.1 539.6L1314.05 552.5" stroke="#5a7eb9" stroke-width="3.6"/>
<path d="M1314.05 552.5L1346 565.4" stroke="#c8161d" stroke-width="3.6"/>
<path d="M1282.1 539.6L1281.5 570.5" stroke="#6a95da" stroke-width="3.6"/>
<path d="M1281.5 570.5L1280.9 601.4" stroke="#ed1b23" stroke-width="3.6"/>
<path d="M1382 534.5L1364 549.95" stroke="#b1d28d" stroke-width="3.6"/>
<path d="M1364 549.95L1346 565.4" stroke="#f11b23" stroke-width="3.6"/>
<path d="M1382 534.5L1392.5 557" stroke="#90ab73" stroke-width="3.6"/>
<path d="M1392.5 557L1403 579.5" stroke="#c5161d" stroke-width="3.6"/>
</g>
<circle cx="882.9" cy="243.5" r="9.5" fill="url(#gO)"/>
<circle cx="926.8" cy="253.7" r="9.3" fill="url(#gA)"/>
<circle cx="969.3" cy="234" r="9.5" fill="url(#gO)"/>
<circle cx="1021.4" cy="251" r="9.1" fill="url(#gM)"/>
<circle cx="1074.6" cy="221.6" r="9.5" fill="url(#gO)"/>
<circle cx="1127" cy="253" r="9.1" fill="url(#gM)"/>
<circle cx="1180" cy="224.6" r="9.5" fill="url(#gO)"/>
<circle cx="1248.6" cy="236.5" r="9.5" fill="url(#gO)"/>
<circle cx="1225" cy="260" r="9.1" fill="url(#gM)"/>
<circle cx="975.9" cy="278.6" r="5.2" fill="url(#gH)"/>
<circle cx="973.7" cy="286.6" r="9.5" fill="url(#gO)"/>
<circle cx="1181.4" cy="286.4" r="9.5" fill="url(#gO)"/>
<circle cx="1285.5" cy="287" r="9.5" fill="url(#gO)"/>
<circle cx="925.9" cy="316" r="9.5" fill="url(#gO)"/>
<circle cx="1028" cy="310.2" r="9.5" fill="url(#gO)"/>
<circle cx="1112" cy="317.6" r="9.5" fill="url(#gO)"/>
<circle cx="975.6" cy="343" r="9.1" fill="url(#gM)"/>
<circle cx="1072.5" cy="344.6" r="9.3" fill="url(#gA)"/>
<circle cx="1181.4" cy="353" r="9.1" fill="url(#gM)"/>
<circle cx="1281.4" cy="357" r="9.1" fill="url(#gM)"/>
<circle cx="1124.4" cy="375.5" r="9.5" fill="url(#gO)"/>
<circle cx="1232.2" cy="373" r="5.2" fill="url(#gH)"/>
<circle cx="1230" cy="381" r="9.5" fill="url(#gO)"/>
<circle cx="1335" cy="381" r="9.5" fill="url(#gO)"/>
<circle cx="965" cy="404" r="9.5" fill="url(#gO)"/>
<circle cx="1063" cy="402" r="9.5" fill="url(#gO)"/>
<circle cx="1185.6" cy="410.3" r="9.5" fill="url(#gO)"/>
<circle cx="1269" cy="416" r="9.5" fill="url(#gO)"/>
<circle cx="1018.5" cy="435.4" r="9.1" fill="url(#gM)"/>
<circle cx="1123.5" cy="436.6" r="9.1" fill="url(#gM)"/>
<circle cx="1232.7" cy="440.2" r="9.1" fill="url(#gM)"/>
<circle cx="1336.2" cy="442" r="9.1" fill="url(#gM)"/>
<circle cx="1070" cy="465.4" r="9.5" fill="url(#gO)"/>
<circle cx="1167" cy="464.5" r="9.5" fill="url(#gO)"/>
<circle cx="1282.2" cy="461.6" r="5.2" fill="url(#gH)"/>
<circle cx="1280" cy="469.6" r="9.5" fill="url(#gO)"/>
<circle cx="1388.1" cy="473.2" r="9.5" fill="url(#gO)"/>
<circle cx="1030.1" cy="503" r="9.5" fill="url(#gO)"/>
<circle cx="1121.5" cy="499.4" r="9.5" fill="url(#gO)"/>
<circle cx="1228.5" cy="501.5" r="9.5" fill="url(#gO)"/>
<circle cx="1334" cy="503.6" r="9.5" fill="url(#gO)"/>
<circle cx="1070" cy="530.6" r="9.3" fill="url(#gA)"/>
<circle cx="1176.5" cy="538.4" r="9.1" fill="url(#gM)"/>
<circle cx="1282.1" cy="539.6" r="9.1" fill="url(#gM)"/>
<circle cx="1382" cy="534.5" r="9.3" fill="url(#gA)"/>
<circle cx="1017.5" cy="558" r="9.5" fill="url(#gO)"/>
<circle cx="1122.5" cy="553.4" r="9.5" fill="url(#gO)"/>
<circle cx="1227.5" cy="562.4" r="9.5" fill="url(#gO)"/>
<circle cx="1346" cy="565.4" r="9.5" fill="url(#gO)"/>
<circle cx="1070" cy="590.6" r="9.5" fill="url(#gO)"/>
<circle cx="1175.9" cy="599.6" r="9.5" fill="url(#gO)"/>
<circle cx="1280.9" cy="601.4" r="9.5" fill="url(#gO)"/>
<circle cx="1403" cy="579.5" r="9.5" fill="url(#gO)"/>
<circle cx="882.9" cy="243.5" r="6.4" fill="url(#gH)"/>
<circle cx="969.3" cy="234" r="6.4" fill="url(#gH)"/>
<circle cx="1180" cy="224.6" r="6.4" fill="url(#gH)"/>
<circle cx="1253.2" cy="233.1" r="6" fill="url(#gH)"/>
<circle cx="925.9" cy="316" r="6.4" fill="url(#gH)"/>
<circle cx="1028" cy="310.2" r="6.4" fill="url(#gH)"/>
<circle cx="1112" cy="317.6" r="6.4" fill="url(#gH)"/>
<circle cx="965" cy="404" r="6.4" fill="url(#gH)"/>
<circle cx="1063" cy="402" r="6.4" fill="url(#gH)"/>
<circle cx="1185.6" cy="410.3" r="6.4" fill="url(#gH)"/>
<circle cx="1121.5" cy="499.4" r="6.4" fill="url(#gH)"/>
<circle cx="1228.5" cy="501.5" r="6.4" fill="url(#gH)"/>
<circle cx="1334" cy="503.6" r="6.4" fill="url(#gH)"/>
<circle cx="1070" cy="590.6" r="6.4" fill="url(#gH)"/>
<circle cx="1175.9" cy="599.6" r="6.4" fill="url(#gH)"/>
<circle cx="1280.9" cy="601.4" r="6.4" fill="url(#gH)"/>
<circle cx="1403" cy="579.5" r="6.4" fill="url(#gH)"/>
<circle cx="1070.4" cy="127.7" r="11.9" fill="url(#gML)"/>
<text transform="translate(1100 140.4) scale(1 1.03)" font-size="33">Mg</text>
<circle cx="1182.3" cy="126.2" r="11.7" fill="url(#gAL)"/>
<text transform="translate(1215 140.4) scale(1 1.03)" font-size="33">Al</text>
<circle cx="1278.3" cy="127.7" r="13" fill="url(#gOL)"/>
<text transform="translate(1309.5 140.4) scale(1 1.03)" font-size="33">O</text>
<circle cx="1372" cy="128.4" r="12.6" fill="url(#gHL)"/>
<text transform="translate(1394.8 140.4) scale(1 1.03)" font-size="33">H</text>
<g fill="none" stroke="#000" stroke-width="2.5" stroke-dasharray="8.7 6.1">
<path d="M968 256.5V881.5"/>
<path d="M1113 522V941"/>
<path d="M1180.2 247.5V770"/>
<path d="M1179 774.8H1258.6"/>
<path d="M1257.5 780V925"/>
<path d="M1233.6 401.5V724"/>
<path d="M1232.4 729.3H1282.6"/>
<path d="M1281.5 741V865.6"/>
<path d="M1286.9 489V697"/>
<path d="M1292.5 702.4H1331"/>
<path d="M1329.8 713.5V967"/>
</g>
<g fill="none" stroke="#000" stroke-width="2">
<rect x="952.2" y="213.9" width="32.8" height="40.7"/>
<rect x="1162.9" y="205.8" width="32.8" height="40.7"/>
<rect x="1212.9" y="359.6" width="32.8" height="40.7"/>
<rect x="1262.9" y="447.1" width="32.8" height="40.7"/>
<rect x="1103.2" y="480.1" width="32.8" height="40.7"/>
</g>
<clipPath id="clipb"><rect x="866.4" y="650.5" width="547.2" height="436.5"/></clipPath>
<g clip-path="url(#clipb)" fill="none" stroke-width="3.6" stroke-linejoin="round">
<path d="M894.81 631C895.06 634.25 895.56 642.77 896.31 650.53C897.06 658.29 898.19 668.8 899.31 677.56C900.44 686.32 902.04 696.02 903.06 703.09C904.08 710.17 904.89 715.79 905.43 720.01C905.97 724.24 905.95 724.93 906.3 728.44C906.66 731.96 907 736.18 907.56 741.1C908.12 746.02 908.89 752.34 909.66 757.96C910.43 763.59 911.2 769.93 912.18 774.85C913.17 779.78 914.45 783.57 915.57 787.51C916.7 791.45 917.95 795.4 918.93 798.49C919.92 801.59 920.64 803.76 921.48 806.08C922.33 808.4 921.57 805.38 924 812.41C926.44 819.45 933.16 840.66 936.09 848.29C939.03 855.92 939.78 855.26 941.61 858.19C943.45 861.13 945.45 864.07 947.1 865.9C948.75 867.74 949.86 868.69 951.51 869.2C953.16 869.72 955.35 868.9 957 868.99C958.65 869.09 959.76 868.91 961.41 869.77C963.06 870.63 964.89 872.05 966.9 874.15C968.92 876.26 971.3 879.56 973.5 882.4C975.7 885.25 977.9 888.47 980.1 891.22C982.3 893.97 984.32 896.52 986.7 898.9C989.09 901.28 991.66 903.58 994.41 905.5C997.16 907.43 1000.27 909.08 1003.2 910.45C1006.14 911.83 1008.72 912.74 1012.02 913.75C1015.32 914.76 1019.34 915.78 1023 916.51C1026.67 917.25 1030.34 917.61 1034.01 918.16C1037.68 918.71 1040.36 918.92 1045.02 919.81C1049.69 920.7 1056.17 922.14 1062 923.5C1067.83 924.87 1074 926.75 1080 928C1086 929.25 1092.4 929.75 1098 931C1103.6 932.25 1108.1 934.25 1113.6 935.5C1119.1 936.75 1125.1 937.6 1131 938.5C1136.9 939.4 1143 940.15 1149 940.9C1155 941.65 1161 942.4 1167 943C1173 943.6 1180 944.35 1185 944.5C1190 944.65 1192.5 944.65 1197 943.9C1201.5 943.15 1207.5 941.4 1212 940C1216.5 938.6 1220.5 937.5 1224 935.5C1227.5 933.5 1230.25 931 1233 928C1235.75 925 1238.25 920.25 1240.5 917.5C1242.75 914.75 1244.25 912.85 1246.5 911.5C1248.75 910.15 1251.75 910.5 1254 909.4C1256.25 908.3 1258 905.4 1260 904.9C1262 904.4 1264 905.3 1266 906.4C1268 907.5 1269.5 908.65 1272 911.5C1274.5 914.35 1277.5 919 1281 923.5C1284.5 928 1289 934 1293 938.5C1297 943 1300.5 947 1305 950.5C1309.5 954 1315 956.75 1320 959.5C1325 962.25 1330 965 1335 967C1340.01 969 1344.51 969.5 1350.01 971.5C1355.51 973.5 1362.01 976.75 1368.01 979C1374.01 981.25 1380.01 983.4 1386.01 985C1392.01 986.6 1399.01 987.65 1404.01 988.6C1409.01 989.55 1414.01 990.35 1416.01 990.7" stroke="#c4a800"/>
<path d="M891.06 631C891.44 634.25 892.44 642.77 893.31 650.53C894.19 658.29 895.19 668.05 896.31 677.56C897.44 687.07 899.17 700.52 900.06 707.59C900.95 714.67 901.04 716.54 901.65 720.01C902.27 723.49 902.98 724.93 903.75 728.44C904.53 731.96 905.46 736.88 906.3 741.1C907.15 745.32 907.84 749.4 908.82 753.76C909.8 758.12 911.06 763.04 912.18 767.26C913.31 771.48 914.45 775.29 915.57 779.08C916.7 782.88 917.81 786.52 918.93 790.03C920.06 793.55 921.19 797.08 922.32 800.17C923.45 803.27 924.59 806.07 925.71 808.6C926.84 811.13 925.69 810.39 929.07 815.35C932.46 820.32 942.28 834 946.02 838.39C949.76 842.78 949.68 841.23 951.51 841.69C953.34 842.15 955.35 840.97 957 841.15C958.65 841.34 959.58 841.61 961.41 842.8C963.25 843.99 965.81 845.91 968.01 848.29C970.21 850.68 972.41 854.18 974.61 857.11C976.81 860.05 979.01 862.97 981.21 865.9C983.41 868.84 985.43 872.15 987.81 874.72C990.2 877.29 992.96 879.49 995.52 881.32C998.09 883.15 1000.45 884.51 1003.2 885.7C1005.95 886.89 1008.72 887.54 1012.02 888.46C1015.32 889.38 1019.34 890.31 1023 891.22C1026.67 892.14 1030.34 893.31 1034.01 893.95C1037.68 894.59 1041.35 894.69 1045.02 895.06C1048.69 895.43 1052.37 895.81 1056.03 896.17C1059.7 896.54 1063.35 896.89 1067.01 897.25C1070.68 897.62 1074.35 897.81 1078.02 898.36C1081.69 898.91 1083.1 898.71 1089.03 900.55C1094.96 902.39 1106.61 907.23 1113.6 909.4C1120.6 911.58 1125.1 912.25 1131 913.6C1136.9 914.95 1143.5 916.2 1149 917.5C1154.5 918.8 1159.5 920.25 1164 921.4C1168.5 922.55 1172 923.55 1176 924.4C1180 925.25 1184 926.4 1188 926.5C1192 926.6 1196 925.75 1200 925C1204 924.25 1208 923.25 1212 922C1216 920.75 1220.5 919.75 1224 917.5C1227.5 915.25 1230.25 912 1233 908.5C1235.75 905 1238.25 899.75 1240.5 896.5C1242.75 893.25 1244.5 890.75 1246.5 889C1248.5 887.25 1250.5 887.5 1252.5 886C1254.5 884.5 1256.75 881.25 1258.5 880C1260.25 878.75 1261.25 878.25 1263 878.5C1264.75 878.75 1266.5 879.25 1269 881.5C1271.5 883.75 1274.5 887.5 1278 892C1281.5 896.5 1286 903.5 1290 908.5C1294 913.5 1297.5 917.75 1302 922C1306.5 926.25 1312 930.4 1317 934C1322 937.6 1326.5 940.1 1332 943.6C1337.5 947.1 1344.01 951.35 1350.01 955C1356.01 958.65 1362.01 962.25 1368.01 965.5C1374.01 968.75 1380.01 972 1386.01 974.5C1392.01 977 1399.01 979 1404.01 980.5C1409.01 982 1414.01 983 1416.01 983.5" stroke="#b5de2b"/>
<path d="M880.83 631C881.28 634.25 882.45 642.77 883.53 650.53C884.61 658.29 885.81 668.05 887.31 677.56C888.82 687.07 891.16 700.52 892.56 707.59C893.97 714.67 894.86 716.54 895.74 720.01C896.62 723.49 896.93 724.93 897.84 728.44C898.76 731.96 900.11 736.88 901.23 741.1C902.36 745.32 903.33 749.4 904.59 753.76C905.86 758.12 907.41 763.04 908.82 767.26C910.23 771.48 911.65 775.43 913.05 779.08C914.46 782.74 915.85 785.96 917.25 789.19C918.66 792.43 920.07 795.68 921.48 798.49C922.89 801.31 924.17 803.69 925.71 806.08C927.26 808.47 926.64 809.37 930.75 812.83C934.87 816.29 946.03 824.78 950.4 826.84C954.78 828.9 954.8 825.65 957 825.19C959.2 824.74 961.4 823.38 963.6 824.11C965.8 824.85 968 827.4 970.2 829.6C972.4 831.8 974.42 834.38 976.8 837.31C979.19 840.25 981.94 844.46 984.51 847.21C987.08 849.96 989.47 851.89 992.22 853.81C994.97 855.74 997.71 857.48 1001.01 858.76C1004.31 860.04 1008.36 860.81 1012.02 861.49C1015.69 862.17 1019.34 862.56 1023 862.84C1026.67 863.12 1030.34 863.21 1034.01 863.17C1037.68 863.13 1041.35 862.97 1045.02 862.6C1048.69 862.23 1052.37 861.47 1056.03 860.95C1059.7 860.44 1063.35 859.79 1067.01 859.51C1070.68 859.24 1074.35 859.3 1078.02 859.3C1081.69 859.3 1083.1 858.56 1089.03 859.51C1094.96 860.46 1107.11 862.84 1113.6 865C1120.1 867.17 1122.6 869.75 1128 872.5C1133.4 875.25 1140 878.5 1146 881.5C1152 884.5 1158.5 887.75 1164 890.5C1169.5 893.25 1174.5 896 1179 898C1183.5 900 1187.5 901.6 1191 902.5C1194.5 903.4 1196.5 903.55 1200 903.4C1203.5 903.25 1208 902.75 1212 901.6C1216 900.45 1220.5 898.85 1224 896.5C1227.5 894.15 1230 891 1233 887.5C1236 884 1239.25 879 1242 875.5C1244.75 872 1247.25 869.5 1249.5 866.5C1251.75 863.5 1253.75 859.5 1255.5 857.5C1257.25 855.5 1258.25 855.15 1260 854.5C1261.75 853.85 1263.5 853.6 1266 853.6C1268.5 853.6 1272.5 854.1 1275 854.5C1277.5 854.9 1279 854.25 1281 856C1283 857.75 1284.5 861.5 1287 865C1289.5 868.5 1292.5 873.25 1296 877C1299.5 880.75 1304 884.25 1308 887.5C1312 890.75 1316 893.75 1320 896.5C1324 899.25 1327.5 900.75 1332 904C1336.5 907.25 1342.01 911.25 1347.01 916C1352.01 920.75 1357.01 927 1362.01 932.5C1367.01 938 1372.01 944 1377.01 949C1382.01 954 1387.01 959 1392.01 962.5C1397.01 966 1403.01 968.25 1407.01 970C1411.01 971.75 1414.51 972.5 1416.01 973" stroke="#6ece58"/>
<path d="M865.5 631C866.01 634.25 867.33 642.77 868.53 650.53C869.74 658.29 871.18 668.05 872.73 677.56C874.28 687.07 876.46 700.52 877.83 707.59C879.21 714.67 880.04 716.54 880.98 720.01C881.93 723.49 882.52 725.21 883.5 728.44C884.49 731.68 885.63 735.2 886.89 739.42C888.16 743.64 889.69 749.26 891.09 753.76C892.5 758.26 893.91 762.49 895.32 766.42C896.73 770.36 898.15 773.86 899.55 777.37C900.96 780.89 902.35 784.42 903.75 787.51C905.16 790.61 906.58 793.41 907.98 795.94C909.39 798.47 910.78 800.58 912.18 802.69C913.59 804.8 915 806.91 916.41 808.6C917.82 810.29 916.08 809.52 920.64 812.83C925.21 816.15 938.84 825.7 943.8 828.49C948.76 831.29 948.2 830.15 950.4 829.6C952.6 829.05 954.98 826.29 957 825.19C959.02 824.09 960.69 823.18 962.52 823C964.36 822.82 966 823.2 968.01 824.11C970.03 825.03 972.05 826.66 974.61 828.49C977.18 830.32 980.47 832.98 983.4 835.09C986.34 837.2 989.29 839.5 992.22 841.15C995.16 842.8 997.71 844.08 1001.01 844.99C1004.31 845.91 1008.36 846.46 1012.02 846.64C1015.69 846.83 1019.34 846.56 1023 846.1C1026.67 845.65 1030.34 844.92 1034.01 843.91C1037.68 842.9 1041.35 841.51 1045.02 840.04C1048.69 838.57 1052.37 836.74 1056.03 835.09C1059.7 833.44 1063.35 831.7 1067.01 830.14C1070.68 828.59 1074.35 827.23 1078.02 825.76C1081.69 824.3 1083.1 822.71 1089.03 821.35C1094.96 819.99 1107.61 817.83 1113.6 817.6C1119.6 817.38 1120.6 817.85 1125 820C1129.4 822.15 1135 826.5 1140 830.5C1145 834.5 1150 839.5 1155 844C1160 848.5 1165 853.25 1170 857.5C1175 861.75 1180 866 1185 869.5C1190 873 1195.5 876.35 1200 878.5C1204.5 880.65 1208.5 881.75 1212 882.4C1215.5 883.05 1218 883.05 1221 882.4C1224 881.75 1227 880.65 1230 878.5C1233 876.35 1236 873.5 1239 869.5C1242 865.5 1245.25 859.15 1248 854.5C1250.75 849.85 1253.5 844.45 1255.5 841.6C1257.5 838.75 1257.75 838.5 1260 837.4C1262.25 836.3 1266.25 836.5 1269 835C1271.75 833.5 1274.35 830.3 1276.5 828.4C1278.65 826.5 1280.15 823.75 1281.9 823.6C1283.65 823.45 1285.15 825.6 1287 827.5C1288.85 829.4 1290.5 833.15 1293 835C1295.5 836.85 1299 838.1 1302 838.6C1305 839.1 1308 838.2 1311 838C1314 837.8 1317 837 1320 837.4C1323 837.8 1325.5 838.3 1329 840.4C1332.5 842.5 1337 845.4 1341.01 850C1345.01 854.6 1349.01 861 1353.01 868C1357.01 875 1360.51 883 1365.01 892C1369.51 901 1375.01 913 1380.01 922C1385.01 931 1390.51 939.5 1395.01 946C1399.51 952.5 1403.51 957.25 1407.01 961C1410.51 964.75 1414.51 967.25 1416.01 968.5" stroke="#35b779"/>
<path d="M861 706.09C862.5 709.82 867.8 722.75 870 728.44C872.21 734.14 872.83 736.47 874.23 740.26C875.64 744.06 877.03 747.7 878.43 751.21C879.84 754.73 881.25 758.12 882.66 761.35C884.07 764.59 884.78 766.4 886.89 770.62C889 774.84 892.51 781.89 895.32 786.67C898.13 791.46 900.94 795.68 903.75 799.33C906.56 802.99 909.37 805.93 912.18 808.6C915 811.27 915.92 812.04 920.64 815.35C925.36 818.67 935.72 825.93 940.5 828.49C945.28 831.05 946.94 830.89 949.32 830.71C951.71 830.53 953.16 829.06 954.81 827.41C956.46 825.76 957.39 822.46 959.22 820.81C961.06 819.16 963.44 818.25 965.82 817.51C968.2 816.78 971.3 816.4 973.5 816.4C975.7 816.4 976.64 816.6 979.02 817.51C981.41 818.43 984.88 820.61 987.81 821.89C990.74 823.17 993.67 824.46 996.6 825.19C999.54 825.93 1002.3 826.39 1005.42 826.3C1008.54 826.21 1012.21 825.29 1015.32 824.65C1018.44 824.01 1021 823.93 1024.11 822.46C1027.23 821 1030.53 818.16 1034.01 815.86C1037.5 813.57 1041.35 811.17 1045.02 808.69C1048.69 806.22 1051.2 804.63 1056.03 801.01C1060.86 797.4 1068.01 791.84 1074 787C1080 782.17 1087 775.5 1092 772C1097 768.5 1100.4 767.25 1104 766C1107.6 764.75 1110.1 764.4 1113.6 764.5C1117.1 764.6 1121.1 764.85 1125 766.6C1128.9 768.35 1133 771.1 1137 775C1141 778.9 1145 784.5 1149 790C1153 795.5 1157 801.75 1161 808C1165 814.25 1169 821.5 1173 827.5C1177 833.5 1181 839.15 1185 844C1189 848.85 1193 853.2 1197 856.6C1201 860 1205.5 862.75 1209 864.4C1212.5 866.05 1215 866.65 1218 866.5C1221 866.35 1224 865.5 1227 863.5C1230 861.5 1233 858.25 1236 854.5C1239 850.75 1242 845.75 1245 841C1248 836.25 1251.5 829.6 1254 826C1256.5 822.4 1257.5 821.65 1260 819.4C1262.5 817.15 1266.5 816.4 1269 812.5C1271.5 808.6 1273.25 801 1275 796C1276.75 791 1278 785.35 1279.5 782.5C1281 779.65 1282.25 778.9 1284 778.9C1285.75 778.9 1287.75 781.25 1290 782.5C1292.25 783.75 1295 786.25 1297.5 786.4C1300 786.55 1301.75 785.55 1305 783.4C1308.25 781.25 1313.5 776 1317 773.5C1320.5 771 1323.5 769.3 1326 768.4C1328.5 767.5 1329.5 767.25 1332 768.1C1334.5 768.95 1338 769.85 1341.01 773.5C1344.01 777.15 1346.51 782.25 1350.01 790C1353.51 797.75 1358.01 809 1362.01 820C1366.01 831 1370.01 844 1374.01 856C1378.01 868 1382.01 881.5 1386.01 892C1390.01 902.5 1394.51 912 1398.01 919C1401.51 926 1404.01 929.9 1407.01 934C1410.01 938.1 1414.51 942 1416.01 943.6" stroke="#1f9e89"/>
<path d="M861 733.12C861.94 735.01 865.11 741.59 866.61 744.46C868.11 747.34 868.03 746.57 870 750.37C871.97 754.17 875.62 762.2 878.43 767.26C881.25 772.33 884.08 776.54 886.89 780.76C889.71 784.98 892.51 788.93 895.32 792.58C898.13 796.24 900.94 799.74 903.75 802.69C906.56 805.64 909.37 808.03 912.18 810.28C915 812.53 916.84 813.8 920.64 816.19C924.45 818.59 931.15 823.15 935.01 824.65C938.87 826.15 941.24 825.56 943.8 825.19C946.37 824.83 948.2 824.02 950.4 822.46C952.6 820.91 954.98 817.61 957 815.86C959.02 814.12 960.69 813 962.52 811.99C964.36 810.98 966 810.81 968.01 809.8C970.03 808.8 972.41 807.06 974.61 805.96C976.81 804.86 979.38 803.57 981.21 803.2C983.05 802.83 983.79 803.19 985.62 803.74C987.46 804.29 989.66 805.68 992.22 806.5C994.79 807.33 998.08 808.42 1001.01 808.69C1003.94 808.97 1007.05 808.79 1009.8 808.15C1012.55 807.51 1014.39 806.78 1017.51 804.85C1020.63 802.93 1023.11 801.33 1028.52 796.6C1033.94 791.88 1044.42 782.1 1050 776.5C1055.58 770.9 1058 767.25 1062 763C1066 758.75 1070 755 1074 751C1078 747 1082 742.5 1086 739C1090 735.5 1094.5 732.1 1098 730C1101.5 727.9 1104.4 727.15 1107 726.4C1109.6 725.65 1111.1 725.4 1113.6 725.5C1116.1 725.6 1119.1 726 1122 727C1124.9 728 1128 729.25 1131 731.5C1134 733.75 1136.5 736.25 1140 740.5C1143.5 744.75 1148 750.75 1152 757C1156 763.25 1160 770.5 1164 778C1168 785.5 1172 794.5 1176 802C1180 809.5 1184 816.5 1188 823C1192 829.5 1196.5 836.6 1200 841C1203.5 845.4 1206 847.5 1209 849.4C1212 851.3 1215 852.55 1218 852.4C1221 852.25 1224 850.9 1227 848.5C1230 846.1 1233 842.5 1236 838C1239 833.5 1242 827 1245 821.5C1248 816 1251.5 808.75 1254 805C1256.5 801.25 1257.75 801.25 1260 799C1262.25 796.75 1265.25 795 1267.5 791.5C1269.75 788 1271.75 783.75 1273.5 778C1275.25 772.25 1276.75 763 1278 757C1279.25 751 1279.75 745.5 1281 742C1282.25 738.5 1284 736.75 1285.5 736C1287 735.25 1288.25 736.6 1290 737.5C1291.75 738.4 1293.75 741.4 1296 741.4C1298.25 741.4 1300.5 740.4 1303.5 737.5C1306.5 734.6 1310.75 727.85 1314 724C1317.25 720.15 1320.25 716.5 1323 714.4C1325.75 712.3 1328 711.3 1330.5 711.4C1333 711.5 1335.25 712.15 1338 715C1340.76 717.85 1344.01 722.5 1347.01 728.5C1350.01 734.5 1353.01 742.25 1356.01 751C1359.01 759.75 1362.01 770 1365.01 781C1368.01 792 1371.01 805 1374.01 817C1377.01 829 1380.01 842 1383.01 853C1386.01 864 1389.01 874.5 1392.01 883C1395.01 891.5 1397.01 896.1 1401.01 904C1405.01 911.9 1413.51 926 1416.01 930.4" stroke="#31688e"/>
</g>
<text transform="translate(946.2 790) scale(1 1.03)" font-size="25" text-anchor="middle">3.6</text>
<text transform="translate(1088.6 717) scale(1 1.03)" font-size="25" text-anchor="middle">2.4</text>
<text transform="translate(1215 766) scale(1 1.03)" font-size="25" text-anchor="middle">1.3</text>
<text transform="translate(1261.5 723) scale(1 1.03)" font-size="25" text-anchor="middle">1.0</text>
<text transform="translate(1316.6 694.2) scale(1 1.03)" font-size="25" text-anchor="middle">0.8</text>
<line x1="867.6" y1="931.4" x2="935.6" y2="931.4" stroke="#c4a800" stroke-width="4.3"/>
<text transform="translate(941 940.3) scale(1 1.03)" font-size="25">10</text><text x="975.75" y="940.3" font-size="25">min</text>
<line x1="867.6" y1="957.5" x2="935.6" y2="957.5" stroke="#b5de2b" stroke-width="4.3"/>
<text transform="translate(941 966.4) scale(1 1.03)" font-size="25">20</text><text x="975.75" y="966.4" font-size="25">min</text>
<line x1="867.6" y1="984.1" x2="935.6" y2="984.1" stroke="#6ece58" stroke-width="4.3"/>
<text transform="translate(941 993) scale(1 1.03)" font-size="25">30</text><text x="975.75" y="993" font-size="25">min</text>
<line x1="867.6" y1="1010.1" x2="935.6" y2="1010.1" stroke="#35b779" stroke-width="4.3"/>
<text transform="translate(941 1019) scale(1 1.03)" font-size="25">40</text><text x="975.75" y="1019" font-size="25">min</text>
<line x1="868.6" y1="1035.7" x2="936.6" y2="1035.7" stroke="#1f9e89" stroke-width="4.3"/>
<text transform="translate(941 1044.6) scale(1 1.03)" font-size="25">50</text><text x="975.75" y="1044.6" font-size="25">min</text>
<line x1="867.6" y1="1063.8" x2="935.6" y2="1063.8" stroke="#31688e" stroke-width="4.3"/>
<text transform="translate(941 1072.7) scale(1 1.03)" font-size="25">60</text><text x="975.75" y="1072.7" font-size="25">min</text>
<line x1="865.24" y1="1088.1" x2="1414.25" y2="1088.1" stroke="#000" stroke-width="1.7"/>
<line x1="926.9" y1="1088.1" x2="926.9" y2="1098.3" stroke="#000" stroke-width="1.7"/>
<text transform="translate(926.9 1127.3) scale(1 1.03)" font-size="29.3" text-anchor="middle">4</text>
<line x1="1048.53" y1="1088.1" x2="1048.53" y2="1098.3" stroke="#000" stroke-width="1.7"/>
<text transform="translate(1048.53 1127.3) scale(1 1.03)" font-size="29.3" text-anchor="middle">3</text>
<line x1="1170.15" y1="1088.1" x2="1170.15" y2="1098.3" stroke="#000" stroke-width="1.7"/>
<text transform="translate(1170.15 1127.3) scale(1 1.03)" font-size="29.3" text-anchor="middle">2</text>
<line x1="1291.78" y1="1088.1" x2="1291.78" y2="1098.3" stroke="#000" stroke-width="1.7"/>
<text transform="translate(1291.78 1127.3) scale(1 1.03)" font-size="29.3" text-anchor="middle">1</text>
<line x1="1413.4" y1="1088.1" x2="1413.4" y2="1098.3" stroke="#000" stroke-width="1.7"/>
<text transform="translate(1413.4 1127.3) scale(1 1.03)" font-size="29.3" text-anchor="middle">0</text>
<line x1="866.09" y1="1088.1" x2="866.09" y2="1093.6" stroke="#000" stroke-width="1.7"/>
<line x1="987.71" y1="1088.1" x2="987.71" y2="1093.6" stroke="#000" stroke-width="1.7"/>
<line x1="1109.34" y1="1088.1" x2="1109.34" y2="1093.6" stroke="#000" stroke-width="1.7"/>
<line x1="1230.96" y1="1088.1" x2="1230.96" y2="1093.6" stroke="#000" stroke-width="1.7"/>
<line x1="1352.59" y1="1088.1" x2="1352.59" y2="1093.6" stroke="#000" stroke-width="1.7"/>
<text x="1133.4" y="1161.1" font-size="29.3" font-weight="bold" text-anchor="middle"><tspan font-size="19.3" dy="-8.6">1</tspan><tspan dy="8.6">H NMR shift (ppm)</tspan></text>
</g>
<g id="panel-c">
<g fill="none" stroke-width="3.8" stroke-linejoin="round" stroke-linecap="butt">
<path d="M1474.9 497.34 L1476.4 497.31 L1477.9 497.29 L1479.4 497.26 L1480.9 497.23 L1482.4 497.21 L1483.9 497.18 L1485.4 497.16 L1486.9 497.13 L1488.4 497.1 L1489.9 497.08 L1491.4 497.05 L1492.9 497.02 L1494.4 496.99 L1495.9 496.97 L1497.4 496.94 L1498.9 496.91 L1500.4 496.88 L1501.9 496.86 L1503.4 496.83 L1504.9 496.8 L1506.4 496.77 L1507.9 496.74 L1509.4 496.71 L1510.9 496.68 L1512.4 496.65 L1513.9 496.62 L1515.4 496.59 L1516.9 496.56 L1518.4 496.53 L1519.9 496.5 L1521.4 496.47 L1522.9 496.44 L1524.4 496.41 L1525.9 496.38 L1527.4 496.34 L1528.9 496.31 L1530.4 496.28 L1531.9 496.25 L1533.4 496.21 L1534.9 496.18 L1536.4 496.15 L1537.9 496.11 L1539.4 496.08 L1540.9 496.05 L1542.4 496.01 L1543.9 495.98 L1545.4 495.94 L1546.9 495.91 L1548.4 495.87 L1549.9 495.83 L1551.4 495.8 L1552.9 495.76 L1554.4 495.72 L1555.9 495.68 L1557.4 495.65 L1558.9 495.61 L1560.4 495.57 L1561.9 495.53 L1563.4 495.49 L1564.9 495.45 L1566.4 495.41 L1567.9 495.37 L1569.4 495.33 L1570.9 495.29 L1572.4 495.24 L1573.9 495.2 L1575.4 495.16 L1576.9 495.11 L1578.4 495.07 L1579.9 495.02 L1581.4 494.98 L1582.9 494.93 L1584.4 494.89 L1585.9 494.84 L1587.4 494.79 L1588.9 494.74 L1590.4 494.7 L1591.9 494.65 L1593.4 494.6 L1594.9 494.55 L1596.4 494.49 L1597.9 494.44 L1599.4 494.39 L1600.9 494.34 L1602.4 494.28 L1603.9 494.23 L1605.4 494.17 L1606.9 494.11 L1608.4 494.06 L1609.9 494 L1611.4 493.94 L1612.9 493.88 L1614.4 493.82 L1615.9 493.76 L1617.4 493.69 L1618.9 493.63 L1620.4 493.57 L1621.9 493.5 L1623.4 493.43 L1624.9 493.36 L1626.4 493.3 L1627.9 493.23 L1629.4 493.15 L1630.9 493.08 L1632.4 493.01 L1633.9 492.93 L1635.4 492.86 L1636.9 492.78 L1638.4 492.7 L1639.9 492.62 L1641.4 492.54 L1642.9 492.45 L1644.4 492.37 L1645.9 492.28 L1647.4 492.19 L1648.9 492.1 L1650.4 492.01 L1651.9 491.91 L1653.4 491.82 L1654.9 491.72 L1656.4 491.62 L1657.9 491.52 L1659.4 491.42 L1660.9 491.31 L1662.4 491.2 L1663.9 491.09 L1665.4 490.98 L1666.9 490.86 L1668.4 490.74 L1669.9 490.62 L1671.4 490.5 L1672.9 490.37 L1674.4 490.24 L1675.9 490.11 L1677.4 489.97 L1678.9 489.83 L1680.4 489.69 L1681.9 489.54 L1683.4 489.39 L1684.9 489.24 L1686.4 489.08 L1687.9 488.92 L1689.4 488.75 L1690.9 488.58 L1692.4 488.4 L1693.9 488.22 L1695.4 488.04 L1696.9 487.85 L1698.4 487.65 L1699.9 487.45 L1701.4 487.24 L1702.9 487.03 L1704.4 486.81 L1705.9 486.59 L1707.4 486.35 L1708.9 486.11 L1710.4 485.87 L1711.9 485.61 L1713.4 485.35 L1714.9 485.08 L1716.4 484.8 L1717.9 484.51 L1719.4 484.21 L1720.9 483.9 L1722.4 483.58 L1723.9 483.25 L1725.4 482.9 L1726.9 482.55 L1728.4 482.18 L1729.9 481.8 L1731.4 481.41 L1732.9 481 L1734.4 480.58 L1735.9 480.14 L1737.4 479.68 L1738.9 479.21 L1740.4 478.71 L1741.9 478.2 L1743.4 477.67 L1744.9 477.12 L1746.4 476.54 L1747.9 475.94 L1749.4 475.32 L1750.9 474.67 L1752.4 473.99 L1753.9 473.28 L1755.4 472.54 L1756.9 471.77 L1758.4 470.96 L1759.9 470.12 L1761.4 469.24 L1762.9 468.33 L1764.4 467.36 L1765.9 466.36 L1767.4 465.31 L1768.9 464.21 L1770.4 463.05 L1771.9 461.84 L1773.4 460.58 L1774.9 459.25 L1776.4 457.86 L1777.9 456.4 L1779.4 454.87 L1780.9 453.26 L1782.4 451.57 L1783.9 449.8 L1785.4 447.94 L1786.9 445.99 L1788.4 443.93 L1789.9 441.78 L1791.4 439.51 L1792.9 437.12 L1794.4 434.62 L1795.9 431.98 L1797.4 429.2 L1798.9 426.28 L1800.4 423.2 L1801.9 419.96 L1803.4 416.55 L1804.9 412.96 L1806.4 409.19 L1807.9 405.21 L1809.4 401.02 L1810.9 396.62 L1812.4 392 L1813.9 387.14 L1815.4 382.04 L1816.9 376.7 L1818.4 371.11 L1819.9 365.25 L1821.4 359.14 L1822.9 352.76 L1824.4 346.11 L1825.9 339.19 L1827.4 332.01 L1828.9 324.56 L1830.4 316.86 L1831.9 308.91 L1833.4 300.73 L1834.9 292.36 L1836.4 283.81 L1837.9 275.15 L1839.4 266.43 L1840.9 257.73 L1842.4 249.14 L1843.9 240.77 L1845.4 232.76 L1846.9 225.25 L1848.4 218.43 L1849.9 212.48 L1851.4 207.58 L1852.9 203.93 L1854.4 201.69 L1855.9 201.01 L1857.4 201.96 L1858.9 204.59 L1860.4 208.87 L1861.9 214.71 L1863.4 221.98 L1864.9 230.51 L1866.4 240.1 L1867.9 250.55 L1869.4 261.64 L1870.9 273.18 L1872.4 284.98 L1873.9 296.89 L1875.4 308.76 L1876.9 320.47 L1878.4 331.91 L1879.9 342.99 L1881.4 353.65 L1882.9 363.84 L1884.4 373.49 L1885.9 382.6 L1887.4 391.13 L1888.9 399.09 L1890.4 406.47 L1891.9 413.27 L1893.4 419.53 L1894.9 425.25 L1896.4 430.46 L1897.9 435.19 L1899.4 439.47 L1900.9 443.34 L1902.4 446.83 L1903.9 449.96 L1905.4 452.78 L1906.9 455.31 L1908.4 457.58 L1909.9 459.63 L1911.4 461.47 L1912.9 463.13 L1914.4 464.64 L1915.9 466 L1917.4 467.24 L1918.9 468.38 L1920.4 469.42 L1921.9 470.38 L1923.4 471.27 L1924.9 472.09 L1926.4 472.86 L1927.9 473.57 L1929.4 474.25 L1930.9 474.88 L1932.4 475.48 L1933.9 476.05 L1935.4 476.58 L1936.9 477.09 L1938.4 477.58 L1939.9 478.04 L1941.4 478.48 L1942.9 478.9 L1944.4 479.31 L1945.9 479.69 L1947.4 480.06 L1948.9 480.42 L1950.4 480.76 L1951.9 481.08 L1953.4 481.4 L1954.9 481.7 L1956.4 481.99 L1957.9 482.27 L1959.4 482.54 L1960.9 482.8 L1962.4 483.05 L1963.9 483.29 L1965.4 483.52 L1966.9 483.74 L1968.4 483.95 L1969.9 484.16 L1971.4 484.36 L1972.7 484.53" stroke="#c4a800"/>
<path d="M1474.9 497.71 L1476.4 497.67 L1477.9 497.63 L1479.4 497.6 L1480.9 497.56 L1482.4 497.53 L1483.9 497.49 L1485.4 497.45 L1486.9 497.42 L1488.4 497.38 L1489.9 497.34 L1491.4 497.31 L1492.9 497.27 L1494.4 497.23 L1495.9 497.19 L1497.4 497.15 L1498.9 497.12 L1500.4 497.08 L1501.9 497.04 L1503.4 497 L1504.9 496.96 L1506.4 496.92 L1507.9 496.88 L1509.4 496.84 L1510.9 496.8 L1512.4 496.76 L1513.9 496.72 L1515.4 496.68 L1516.9 496.64 L1518.4 496.6 L1519.9 496.56 L1521.4 496.51 L1522.9 496.47 L1524.4 496.43 L1525.9 496.39 L1527.4 496.34 L1528.9 496.3 L1530.4 496.25 L1531.9 496.21 L1533.4 496.17 L1534.9 496.12 L1536.4 496.08 L1537.9 496.03 L1539.4 495.98 L1540.9 495.94 L1542.4 495.89 L1543.9 495.84 L1545.4 495.8 L1546.9 495.75 L1548.4 495.7 L1549.9 495.65 L1551.4 495.6 L1552.9 495.55 L1554.4 495.5 L1555.9 495.45 L1557.4 495.4 L1558.9 495.35 L1560.4 495.3 L1561.9 495.24 L1563.4 495.19 L1564.9 495.14 L1566.4 495.08 L1567.9 495.03 L1569.4 494.97 L1570.9 494.92 L1572.4 494.86 L1573.9 494.8 L1575.4 494.74 L1576.9 494.69 L1578.4 494.63 L1579.9 494.57 L1581.4 494.51 L1582.9 494.45 L1584.4 494.38 L1585.9 494.32 L1587.4 494.26 L1588.9 494.19 L1590.4 494.13 L1591.9 494.06 L1593.4 493.99 L1594.9 493.93 L1596.4 493.86 L1597.9 493.79 L1599.4 493.72 L1600.9 493.65 L1602.4 493.57 L1603.9 493.5 L1605.4 493.43 L1606.9 493.35 L1608.4 493.27 L1609.9 493.19 L1611.4 493.11 L1612.9 493.03 L1614.4 492.95 L1615.9 492.87 L1617.4 492.78 L1618.9 492.7 L1620.4 492.61 L1621.9 492.52 L1623.4 492.43 L1624.9 492.34 L1626.4 492.25 L1627.9 492.15 L1629.4 492.05 L1630.9 491.96 L1632.4 491.85 L1633.9 491.75 L1635.4 491.65 L1636.9 491.54 L1638.4 491.43 L1639.9 491.32 L1641.4 491.21 L1642.9 491.09 L1644.4 490.97 L1645.9 490.85 L1647.4 490.73 L1648.9 490.6 L1650.4 490.47 L1651.9 490.34 L1653.4 490.2 L1654.9 490.06 L1656.4 489.92 L1657.9 489.77 L1659.4 489.62 L1660.9 489.47 L1662.4 489.31 L1663.9 489.15 L1665.4 488.98 L1666.9 488.81 L1668.4 488.63 L1669.9 488.45 L1671.4 488.26 L1672.9 488.06 L1674.4 487.86 L1675.9 487.66 L1677.4 487.44 L1678.9 487.22 L1680.4 486.99 L1681.9 486.76 L1683.4 486.51 L1684.9 486.26 L1686.4 486 L1687.9 485.73 L1689.4 485.45 L1690.9 485.16 L1692.4 484.86 L1693.9 484.55 L1695.4 484.22 L1696.9 483.88 L1698.4 483.53 L1699.9 483.17 L1701.4 482.79 L1702.9 482.4 L1704.4 481.99 L1705.9 481.57 L1707.4 481.13 L1708.9 480.68 L1710.4 480.2 L1711.9 479.71 L1713.4 479.2 L1714.9 478.66 L1716.4 478.11 L1717.9 477.53 L1719.4 476.94 L1720.9 476.32 L1722.4 475.67 L1723.9 475 L1725.4 474.3 L1726.9 473.58 L1728.4 472.83 L1729.9 472.05 L1731.4 471.24 L1732.9 470.4 L1734.4 469.52 L1735.9 468.62 L1737.4 467.67 L1738.9 466.69 L1740.4 465.67 L1741.9 464.62 L1743.4 463.52 L1744.9 462.37 L1746.4 461.18 L1747.9 459.94 L1749.4 458.65 L1750.9 457.31 L1752.4 455.91 L1753.9 454.46 L1755.4 452.94 L1756.9 451.36 L1758.4 449.71 L1759.9 447.98 L1761.4 446.19 L1762.9 444.31 L1764.4 442.35 L1765.9 440.3 L1767.4 438.17 L1768.9 435.94 L1770.4 433.61 L1771.9 431.17 L1773.4 428.63 L1774.9 425.98 L1776.4 423.21 L1777.9 420.32 L1779.4 417.3 L1780.9 414.15 L1782.4 410.87 L1783.9 407.44 L1785.4 403.88 L1786.9 400.16 L1788.4 396.29 L1789.9 392.26 L1791.4 388.07 L1792.9 383.72 L1794.4 379.2 L1795.9 374.51 L1797.4 369.66 L1798.9 364.64 L1800.4 359.46 L1801.9 354.12 L1803.4 348.63 L1804.9 343 L1806.4 337.25 L1807.9 331.38 L1809.4 325.43 L1810.9 319.41 L1812.4 313.34 L1813.9 307.27 L1815.4 301.22 L1816.9 295.23 L1818.4 289.35 L1819.9 283.62 L1821.4 278.09 L1822.9 272.82 L1824.4 267.86 L1825.9 263.28 L1827.4 259.12 L1828.9 255.46 L1830.4 252.34 L1831.9 249.83 L1833.4 247.96 L1834.9 246.78 L1836.4 246.31 L1837.9 246.58 L1839.4 247.59 L1840.9 249.33 L1842.4 251.79 L1843.9 254.95 L1845.4 258.75 L1846.9 263.15 L1848.4 268.11 L1849.9 273.56 L1851.4 279.44 L1852.9 285.7 L1854.4 292.26 L1855.9 299.08 L1857.4 306.09 L1858.9 313.24 L1860.4 320.48 L1861.9 327.76 L1863.4 335.04 L1864.9 342.29 L1866.4 349.46 L1867.9 356.53 L1869.4 363.46 L1870.9 370.23 L1872.4 376.83 L1873.9 383.22 L1875.4 389.4 L1876.9 395.35 L1878.4 401.07 L1879.9 406.54 L1881.4 411.76 L1882.9 416.72 L1884.4 421.43 L1885.9 425.89 L1887.4 430.09 L1888.9 434.05 L1890.4 437.76 L1891.9 441.24 L1893.4 444.49 L1894.9 447.52 L1896.4 450.34 L1897.9 452.96 L1899.4 455.38 L1900.9 457.63 L1902.4 459.7 L1903.9 461.61 L1905.4 463.37 L1906.9 464.99 L1908.4 466.48 L1909.9 467.85 L1911.4 469.1 L1912.9 470.26 L1914.4 471.32 L1915.9 472.29 L1917.4 473.18 L1918.9 474 L1920.4 474.75 L1921.9 475.45 L1923.4 476.09 L1924.9 476.68 L1926.4 477.22 L1927.9 477.73 L1929.4 478.2 L1930.9 478.63 L1932.4 479.04 L1933.9 479.42 L1935.4 479.78 L1936.9 480.11 L1938.4 480.42 L1939.9 480.72 L1941.4 481 L1942.9 481.26 L1944.4 481.51 L1945.9 481.75 L1947.4 481.97 L1948.9 482.19 L1950.4 482.39 L1951.9 482.59 L1953.4 482.77 L1954.9 482.95 L1956.4 483.13 L1957.9 483.29 L1959.4 483.45 L1960.9 483.6 L1962.4 483.75 L1963.9 483.89 L1965.4 484.02 L1966.9 484.16 L1968.4 484.28 L1969.9 484.4 L1971.4 484.52 L1972.7 484.62" stroke="#b5de2b"/>
<path d="M1474.9 498.09 L1476.4 498.05 L1477.9 498.01 L1479.4 497.96 L1480.9 497.92 L1482.4 497.88 L1483.9 497.84 L1485.4 497.79 L1486.9 497.75 L1488.4 497.71 L1489.9 497.66 L1491.4 497.62 L1492.9 497.57 L1494.4 497.53 L1495.9 497.48 L1497.4 497.43 L1498.9 497.39 L1500.4 497.34 L1501.9 497.29 L1503.4 497.25 L1504.9 497.2 L1506.4 497.15 L1507.9 497.1 L1509.4 497.05 L1510.9 497 L1512.4 496.95 L1513.9 496.9 L1515.4 496.85 L1516.9 496.8 L1518.4 496.75 L1519.9 496.7 L1521.4 496.65 L1522.9 496.59 L1524.4 496.54 L1525.9 496.49 L1527.4 496.43 L1528.9 496.38 L1530.4 496.32 L1531.9 496.26 L1533.4 496.21 L1534.9 496.15 L1536.4 496.09 L1537.9 496.03 L1539.4 495.98 L1540.9 495.92 L1542.4 495.86 L1543.9 495.79 L1545.4 495.73 L1546.9 495.67 L1548.4 495.61 L1549.9 495.54 L1551.4 495.48 L1552.9 495.41 L1554.4 495.35 L1555.9 495.28 L1557.4 495.21 L1558.9 495.15 L1560.4 495.08 L1561.9 495.01 L1563.4 494.94 L1564.9 494.86 L1566.4 494.79 L1567.9 494.72 L1569.4 494.64 L1570.9 494.57 L1572.4 494.49 L1573.9 494.41 L1575.4 494.33 L1576.9 494.25 L1578.4 494.17 L1579.9 494.09 L1581.4 494.01 L1582.9 493.92 L1584.4 493.84 L1585.9 493.75 L1587.4 493.66 L1588.9 493.57 L1590.4 493.48 L1591.9 493.39 L1593.4 493.29 L1594.9 493.2 L1596.4 493.1 L1597.9 493 L1599.4 492.9 L1600.9 492.8 L1602.4 492.7 L1603.9 492.59 L1605.4 492.48 L1606.9 492.37 L1608.4 492.26 L1609.9 492.15 L1611.4 492.03 L1612.9 491.92 L1614.4 491.8 L1615.9 491.67 L1617.4 491.55 L1618.9 491.42 L1620.4 491.3 L1621.9 491.16 L1623.4 491.03 L1624.9 490.89 L1626.4 490.75 L1627.9 490.61 L1629.4 490.47 L1630.9 490.32 L1632.4 490.17 L1633.9 490.01 L1635.4 489.85 L1636.9 489.69 L1638.4 489.53 L1639.9 489.36 L1641.4 489.18 L1642.9 489.01 L1644.4 488.83 L1645.9 488.64 L1647.4 488.45 L1648.9 488.26 L1650.4 488.06 L1651.9 487.85 L1653.4 487.64 L1654.9 487.43 L1656.4 487.21 L1657.9 486.98 L1659.4 486.75 L1660.9 486.51 L1662.4 486.27 L1663.9 486.02 L1665.4 485.76 L1666.9 485.5 L1668.4 485.22 L1669.9 484.94 L1671.4 484.65 L1672.9 484.36 L1674.4 484.05 L1675.9 483.74 L1677.4 483.41 L1678.9 483.07 L1680.4 482.73 L1681.9 482.37 L1683.4 482 L1684.9 481.62 L1686.4 481.23 L1687.9 480.82 L1689.4 480.39 L1690.9 479.96 L1692.4 479.5 L1693.9 479.03 L1695.4 478.55 L1696.9 478.04 L1698.4 477.52 L1699.9 476.97 L1701.4 476.41 L1702.9 475.82 L1704.4 475.2 L1705.9 474.57 L1707.4 473.9 L1708.9 473.21 L1710.4 472.49 L1711.9 471.73 L1713.4 470.95 L1714.9 470.13 L1716.4 469.27 L1717.9 468.37 L1719.4 467.44 L1720.9 466.46 L1722.4 465.43 L1723.9 464.36 L1725.4 463.24 L1726.9 462.06 L1728.4 460.82 L1729.9 459.53 L1731.4 458.17 L1732.9 456.75 L1734.4 455.25 L1735.9 453.68 L1737.4 452.04 L1738.9 450.31 L1740.4 448.49 L1741.9 446.58 L1743.4 444.58 L1744.9 442.47 L1746.4 440.26 L1747.9 437.93 L1749.4 435.49 L1750.9 432.93 L1752.4 430.24 L1753.9 427.42 L1755.4 424.46 L1756.9 421.36 L1758.4 418.11 L1759.9 414.71 L1761.4 411.16 L1762.9 407.46 L1764.4 403.59 L1765.9 399.57 L1767.4 395.4 L1768.9 391.07 L1770.4 386.6 L1771.9 381.98 L1773.4 377.24 L1774.9 372.37 L1776.4 367.41 L1777.9 362.35 L1779.4 357.23 L1780.9 352.08 L1782.4 346.91 L1783.9 341.75 L1785.4 336.65 L1786.9 331.63 L1788.4 326.73 L1789.9 321.99 L1791.4 317.44 L1792.9 313.13 L1794.4 309.09 L1795.9 305.35 L1797.4 301.93 L1798.9 298.87 L1800.4 296.18 L1801.9 293.89 L1803.4 291.99 L1804.9 290.5 L1806.4 289.41 L1807.9 288.72 L1809.4 288.42 L1810.9 288.5 L1812.4 288.94 L1813.9 289.73 L1815.4 290.85 L1816.9 292.28 L1818.4 294 L1819.9 296 L1821.4 298.25 L1822.9 300.75 L1824.4 303.47 L1825.9 306.4 L1827.4 309.52 L1828.9 312.84 L1830.4 316.32 L1831.9 319.96 L1833.4 323.74 L1834.9 327.66 L1836.4 331.71 L1837.9 335.86 L1839.4 340.12 L1840.9 344.46 L1842.4 348.87 L1843.9 353.34 L1845.4 357.86 L1846.9 362.42 L1848.4 366.99 L1849.9 371.57 L1851.4 376.15 L1852.9 380.7 L1854.4 385.21 L1855.9 389.68 L1857.4 394.09 L1858.9 398.43 L1860.4 402.69 L1861.9 406.85 L1863.4 410.91 L1864.9 414.86 L1866.4 418.69 L1867.9 422.39 L1869.4 425.97 L1870.9 429.4 L1872.4 432.7 L1873.9 435.86 L1875.4 438.88 L1876.9 441.75 L1878.4 444.48 L1879.9 447.07 L1881.4 449.52 L1882.9 451.83 L1884.4 454.01 L1885.9 456.06 L1887.4 457.98 L1888.9 459.79 L1890.4 461.47 L1891.9 463.05 L1893.4 464.52 L1894.9 465.88 L1896.4 467.16 L1897.9 468.34 L1899.4 469.45 L1900.9 470.47 L1902.4 471.42 L1903.9 472.3 L1905.4 473.12 L1906.9 473.89 L1908.4 474.59 L1909.9 475.25 L1911.4 475.86 L1912.9 476.43 L1914.4 476.97 L1915.9 477.46 L1917.4 477.93 L1918.9 478.36 L1920.4 478.77 L1921.9 479.15 L1923.4 479.52 L1924.9 479.86 L1926.4 480.18 L1927.9 480.48 L1929.4 480.77 L1930.9 481.05 L1932.4 481.31 L1933.9 481.56 L1935.4 481.8 L1936.9 482.02 L1938.4 482.24 L1939.9 482.45 L1941.4 482.65 L1942.9 482.85 L1944.4 483.03 L1945.9 483.21 L1947.4 483.39 L1948.9 483.55 L1950.4 483.71 L1951.9 483.87 L1953.4 484.02 L1954.9 484.17 L1956.4 484.31 L1957.9 484.44 L1959.4 484.58 L1960.9 484.7 L1962.4 484.83 L1963.9 484.95 L1965.4 485.07 L1966.9 485.18 L1968.4 485.29 L1969.9 485.4 L1971.4 485.5 L1972.7 485.59" stroke="#6ece58"/>
<path d="M1474.9 497.75 L1476.4 497.7 L1477.9 497.66 L1479.4 497.62 L1480.9 497.57 L1482.4 497.52 L1483.9 497.48 L1485.4 497.43 L1486.9 497.39 L1488.4 497.34 L1489.9 497.29 L1491.4 497.25 L1492.9 497.2 L1494.4 497.15 L1495.9 497.1 L1497.4 497.05 L1498.9 497.01 L1500.4 496.96 L1501.9 496.91 L1503.4 496.86 L1504.9 496.81 L1506.4 496.76 L1507.9 496.71 L1509.4 496.65 L1510.9 496.6 L1512.4 496.55 L1513.9 496.5 L1515.4 496.44 L1516.9 496.39 L1518.4 496.34 L1519.9 496.28 L1521.4 496.23 L1522.9 496.17 L1524.4 496.12 L1525.9 496.06 L1527.4 496 L1528.9 495.95 L1530.4 495.89 L1531.9 495.83 L1533.4 495.77 L1534.9 495.71 L1536.4 495.65 L1537.9 495.59 L1539.4 495.53 L1540.9 495.47 L1542.4 495.41 L1543.9 495.35 L1545.4 495.28 L1546.9 495.22 L1548.4 495.15 L1549.9 495.09 L1551.4 495.02 L1552.9 494.95 L1554.4 494.89 L1555.9 494.82 L1557.4 494.75 L1558.9 494.68 L1560.4 494.61 L1561.9 494.54 L1563.4 494.46 L1564.9 494.39 L1566.4 494.32 L1567.9 494.24 L1569.4 494.16 L1570.9 494.09 L1572.4 494.01 L1573.9 493.93 L1575.4 493.85 L1576.9 493.77 L1578.4 493.69 L1579.9 493.6 L1581.4 493.52 L1582.9 493.43 L1584.4 493.34 L1585.9 493.26 L1587.4 493.17 L1588.9 493.07 L1590.4 492.98 L1591.9 492.89 L1593.4 492.79 L1594.9 492.69 L1596.4 492.59 L1597.9 492.49 L1599.4 492.39 L1600.9 492.29 L1602.4 492.18 L1603.9 492.07 L1605.4 491.96 L1606.9 491.85 L1608.4 491.73 L1609.9 491.62 L1611.4 491.5 L1612.9 491.37 L1614.4 491.25 L1615.9 491.12 L1617.4 490.99 L1618.9 490.86 L1620.4 490.72 L1621.9 490.58 L1623.4 490.43 L1624.9 490.28 L1626.4 490.13 L1627.9 489.97 L1629.4 489.81 L1630.9 489.64 L1632.4 489.47 L1633.9 489.29 L1635.4 489.11 L1636.9 488.92 L1638.4 488.72 L1639.9 488.52 L1641.4 488.31 L1642.9 488.09 L1644.4 487.86 L1645.9 487.62 L1647.4 487.38 L1648.9 487.12 L1650.4 486.85 L1651.9 486.57 L1653.4 486.28 L1654.9 485.97 L1656.4 485.65 L1657.9 485.32 L1659.4 484.97 L1660.9 484.6 L1662.4 484.22 L1663.9 483.82 L1665.4 483.4 L1666.9 482.95 L1668.4 482.49 L1669.9 482 L1671.4 481.49 L1672.9 480.95 L1674.4 480.39 L1675.9 479.79 L1677.4 479.17 L1678.9 478.51 L1680.4 477.83 L1681.9 477.1 L1683.4 476.35 L1684.9 475.55 L1686.4 474.72 L1687.9 473.84 L1689.4 472.93 L1690.9 471.97 L1692.4 470.96 L1693.9 469.91 L1695.4 468.81 L1696.9 467.66 L1698.4 466.46 L1699.9 465.2 L1701.4 463.89 L1702.9 462.52 L1704.4 461.1 L1705.9 459.61 L1707.4 458.06 L1708.9 456.45 L1710.4 454.78 L1711.9 453.03 L1713.4 451.21 L1714.9 449.33 L1716.4 447.36 L1717.9 445.31 L1719.4 443.18 L1720.9 440.96 L1722.4 438.65 L1723.9 436.24 L1725.4 433.72 L1726.9 431.09 L1728.4 428.34 L1729.9 425.47 L1731.4 422.46 L1732.9 419.31 L1734.4 416.02 L1735.9 412.57 L1737.4 408.97 L1738.9 405.21 L1740.4 401.3 L1741.9 397.23 L1743.4 393.02 L1744.9 388.67 L1746.4 384.2 L1747.9 379.63 L1749.4 374.97 L1750.9 370.27 L1752.4 365.54 L1753.9 360.83 L1755.4 356.17 L1756.9 351.6 L1758.4 347.16 L1759.9 342.89 L1761.4 338.84 L1762.9 335.05 L1764.4 331.53 L1765.9 328.34 L1767.4 325.49 L1768.9 323 L1770.4 320.88 L1771.9 319.15 L1773.4 317.81 L1774.9 316.85 L1776.4 316.25 L1777.9 316.01 L1779.4 316.11 L1780.9 316.52 L1782.4 317.21 L1783.9 318.17 L1785.4 319.36 L1786.9 320.76 L1788.4 322.34 L1789.9 324.08 L1791.4 325.96 L1792.9 327.96 L1794.4 330.06 L1795.9 332.26 L1797.4 334.52 L1798.9 336.86 L1800.4 339.26 L1801.9 341.72 L1803.4 344.22 L1804.9 346.78 L1806.4 349.38 L1807.9 352.03 L1809.4 354.71 L1810.9 357.44 L1812.4 360.2 L1813.9 363 L1815.4 365.83 L1816.9 368.68 L1818.4 371.56 L1819.9 374.46 L1821.4 377.38 L1822.9 380.3 L1824.4 383.24 L1825.9 386.17 L1827.4 389.1 L1828.9 392.02 L1830.4 394.92 L1831.9 397.81 L1833.4 400.67 L1834.9 403.51 L1836.4 406.31 L1837.9 409.08 L1839.4 411.81 L1840.9 414.5 L1842.4 417.14 L1843.9 419.73 L1845.4 422.27 L1846.9 424.75 L1848.4 427.18 L1849.9 429.55 L1851.4 431.87 L1852.9 434.12 L1854.4 436.31 L1855.9 438.44 L1857.4 440.51 L1858.9 442.51 L1860.4 444.45 L1861.9 446.33 L1863.4 448.15 L1864.9 449.9 L1866.4 451.58 L1867.9 453.21 L1869.4 454.78 L1870.9 456.28 L1872.4 457.73 L1873.9 459.12 L1875.4 460.45 L1876.9 461.72 L1878.4 462.94 L1879.9 464.11 L1881.4 465.22 L1882.9 466.29 L1884.4 467.3 L1885.9 468.27 L1887.4 469.19 L1888.9 470.07 L1890.4 470.91 L1891.9 471.7 L1893.4 472.46 L1894.9 473.18 L1896.4 473.86 L1897.9 474.51 L1899.4 475.12 L1900.9 475.7 L1902.4 476.25 L1903.9 476.77 L1905.4 477.27 L1906.9 477.74 L1908.4 478.18 L1909.9 478.6 L1911.4 479 L1912.9 479.38 L1914.4 479.74 L1915.9 480.07 L1917.4 480.39 L1918.9 480.7 L1920.4 480.98 L1921.9 481.26 L1923.4 481.51 L1924.9 481.76 L1926.4 481.99 L1927.9 482.21 L1929.4 482.42 L1930.9 482.62 L1932.4 482.81 L1933.9 482.99 L1935.4 483.16 L1936.9 483.32 L1938.4 483.47 L1939.9 483.62 L1941.4 483.76 L1942.9 483.89 L1944.4 484.02 L1945.9 484.14 L1947.4 484.26 L1948.9 484.37 L1950.4 484.48 L1951.9 484.58 L1953.4 484.68 L1954.9 484.78 L1956.4 484.87 L1957.9 484.95 L1959.4 485.04 L1960.9 485.12 L1962.4 485.19 L1963.9 485.27 L1965.4 485.34 L1966.9 485.41 L1968.4 485.47 L1969.9 485.54 L1971.4 485.6 L1972.7 485.65" stroke="#35b779"/>
<path d="M1474.9 497.88 L1476.4 497.83 L1477.9 497.78 L1479.4 497.73 L1480.9 497.68 L1482.4 497.63 L1483.9 497.57 L1485.4 497.52 L1486.9 497.47 L1488.4 497.42 L1489.9 497.36 L1491.4 497.31 L1492.9 497.26 L1494.4 497.2 L1495.9 497.15 L1497.4 497.09 L1498.9 497.04 L1500.4 496.98 L1501.9 496.93 L1503.4 496.87 L1504.9 496.81 L1506.4 496.76 L1507.9 496.7 L1509.4 496.64 L1510.9 496.59 L1512.4 496.53 L1513.9 496.47 L1515.4 496.41 L1516.9 496.35 L1518.4 496.29 L1519.9 496.23 L1521.4 496.17 L1522.9 496.11 L1524.4 496.05 L1525.9 495.98 L1527.4 495.92 L1528.9 495.86 L1530.4 495.79 L1531.9 495.73 L1533.4 495.66 L1534.9 495.6 L1536.4 495.53 L1537.9 495.46 L1539.4 495.4 L1540.9 495.33 L1542.4 495.26 L1543.9 495.19 L1545.4 495.12 L1546.9 495.05 L1548.4 494.98 L1549.9 494.91 L1551.4 494.83 L1552.9 494.76 L1554.4 494.68 L1555.9 494.61 L1557.4 494.53 L1558.9 494.46 L1560.4 494.38 L1561.9 494.3 L1563.4 494.22 L1564.9 494.14 L1566.4 494.05 L1567.9 493.97 L1569.4 493.88 L1570.9 493.8 L1572.4 493.71 L1573.9 493.62 L1575.4 493.53 L1576.9 493.44 L1578.4 493.35 L1579.9 493.25 L1581.4 493.16 L1582.9 493.06 L1584.4 492.96 L1585.9 492.86 L1587.4 492.76 L1588.9 492.65 L1590.4 492.54 L1591.9 492.43 L1593.4 492.32 L1594.9 492.21 L1596.4 492.09 L1597.9 491.97 L1599.4 491.84 L1600.9 491.72 L1602.4 491.59 L1603.9 491.45 L1605.4 491.32 L1606.9 491.18 L1608.4 491.03 L1609.9 490.88 L1611.4 490.73 L1612.9 490.57 L1614.4 490.4 L1615.9 490.23 L1617.4 490.05 L1618.9 489.87 L1620.4 489.68 L1621.9 489.48 L1623.4 489.28 L1624.9 489.07 L1626.4 488.84 L1627.9 488.61 L1629.4 488.37 L1630.9 488.12 L1632.4 487.86 L1633.9 487.59 L1635.4 487.3 L1636.9 487 L1638.4 486.69 L1639.9 486.36 L1641.4 486.01 L1642.9 485.65 L1644.4 485.28 L1645.9 484.88 L1647.4 484.46 L1648.9 484.03 L1650.4 483.57 L1651.9 483.08 L1653.4 482.58 L1654.9 482.05 L1656.4 481.49 L1657.9 480.9 L1659.4 480.28 L1660.9 479.63 L1662.4 478.95 L1663.9 478.23 L1665.4 477.48 L1666.9 476.68 L1668.4 475.85 L1669.9 474.97 L1671.4 474.05 L1672.9 473.08 L1674.4 472.06 L1675.9 470.98 L1677.4 469.85 L1678.9 468.66 L1680.4 467.42 L1681.9 466.1 L1683.4 464.72 L1684.9 463.27 L1686.4 461.74 L1687.9 460.13 L1689.4 458.44 L1690.9 456.67 L1692.4 454.8 L1693.9 452.85 L1695.4 450.79 L1696.9 448.63 L1698.4 446.36 L1699.9 443.98 L1701.4 441.49 L1702.9 438.88 L1704.4 436.15 L1705.9 433.29 L1707.4 430.3 L1708.9 427.18 L1710.4 423.93 L1711.9 420.55 L1713.4 417.02 L1714.9 413.36 L1716.4 409.57 L1717.9 405.64 L1719.4 401.58 L1720.9 397.4 L1722.4 393.09 L1723.9 388.68 L1725.4 384.16 L1726.9 379.56 L1728.4 374.89 L1729.9 370.17 L1731.4 365.44 L1732.9 360.7 L1734.4 356.01 L1735.9 351.41 L1737.4 346.92 L1738.9 342.61 L1740.4 338.52 L1741.9 334.7 L1743.4 331.2 L1744.9 328.07 L1746.4 325.35 L1747.9 323.08 L1749.4 321.27 L1750.9 319.94 L1752.4 319.09 L1753.9 318.71 L1755.4 318.78 L1756.9 319.26 L1758.4 320.12 L1759.9 321.32 L1761.4 322.82 L1762.9 324.57 L1764.4 326.53 L1765.9 328.67 L1767.4 330.96 L1768.9 333.36 L1770.4 335.86 L1771.9 338.42 L1773.4 341.04 L1774.9 343.7 L1776.4 346.38 L1777.9 349.08 L1779.4 351.79 L1780.9 354.5 L1782.4 357.22 L1783.9 359.93 L1785.4 362.63 L1786.9 365.32 L1788.4 368 L1789.9 370.67 L1791.4 373.32 L1792.9 375.95 L1794.4 378.57 L1795.9 381.17 L1797.4 383.75 L1798.9 386.31 L1800.4 388.85 L1801.9 391.37 L1803.4 393.86 L1804.9 396.34 L1806.4 398.79 L1807.9 401.22 L1809.4 403.63 L1810.9 406.01 L1812.4 408.36 L1813.9 410.69 L1815.4 412.99 L1816.9 415.27 L1818.4 417.51 L1819.9 419.72 L1821.4 421.9 L1822.9 424.05 L1824.4 426.17 L1825.9 428.25 L1827.4 430.29 L1828.9 432.3 L1830.4 434.27 L1831.9 436.2 L1833.4 438.09 L1834.9 439.94 L1836.4 441.75 L1837.9 443.52 L1839.4 445.24 L1840.9 446.92 L1842.4 448.55 L1843.9 450.14 L1845.4 451.69 L1846.9 453.19 L1848.4 454.64 L1849.9 456.05 L1851.4 457.42 L1852.9 458.73 L1854.4 460.01 L1855.9 461.24 L1857.4 462.42 L1858.9 463.56 L1860.4 464.66 L1861.9 465.71 L1863.4 466.72 L1864.9 467.69 L1866.4 468.62 L1867.9 469.51 L1869.4 470.36 L1870.9 471.18 L1872.4 471.95 L1873.9 472.69 L1875.4 473.4 L1876.9 474.07 L1878.4 474.71 L1879.9 475.32 L1881.4 475.9 L1882.9 476.44 L1884.4 476.96 L1885.9 477.45 L1887.4 477.92 L1888.9 478.36 L1890.4 478.77 L1891.9 479.17 L1893.4 479.54 L1894.9 479.89 L1896.4 480.22 L1897.9 480.53 L1899.4 480.82 L1900.9 481.1 L1902.4 481.35 L1903.9 481.6 L1905.4 481.83 L1906.9 482.04 L1908.4 482.24 L1909.9 482.43 L1911.4 482.61 L1912.9 482.77 L1914.4 482.93 L1915.9 483.07 L1917.4 483.21 L1918.9 483.34 L1920.4 483.45 L1921.9 483.57 L1923.4 483.67 L1924.9 483.77 L1926.4 483.86 L1927.9 483.94 L1929.4 484.02 L1930.9 484.1 L1932.4 484.17 L1933.9 484.23 L1935.4 484.29 L1936.9 484.35 L1938.4 484.4 L1939.9 484.45 L1941.4 484.49 L1942.9 484.53 L1944.4 484.57 L1945.9 484.61 L1947.4 484.64 L1948.9 484.68 L1950.4 484.7 L1951.9 484.73 L1953.4 484.76 L1954.9 484.78 L1956.4 484.8 L1957.9 484.82 L1959.4 484.84 L1960.9 484.85 L1962.4 484.87 L1963.9 484.88 L1965.4 484.89 L1966.9 484.91 L1968.4 484.92 L1969.9 484.92 L1971.4 484.93 L1972.7 484.94" stroke="#1f9e89"/>
<path d="M1474.9 498.14 L1476.4 498.09 L1477.9 498.03 L1479.4 497.98 L1480.9 497.92 L1482.4 497.87 L1483.9 497.81 L1485.4 497.76 L1486.9 497.7 L1488.4 497.65 L1489.9 497.59 L1491.4 497.53 L1492.9 497.47 L1494.4 497.42 L1495.9 497.36 L1497.4 497.3 L1498.9 497.24 L1500.4 497.18 L1501.9 497.12 L1503.4 497.05 L1504.9 496.99 L1506.4 496.93 L1507.9 496.87 L1509.4 496.8 L1510.9 496.74 L1512.4 496.67 L1513.9 496.61 L1515.4 496.54 L1516.9 496.47 L1518.4 496.4 L1519.9 496.33 L1521.4 496.27 L1522.9 496.2 L1524.4 496.12 L1525.9 496.05 L1527.4 495.98 L1528.9 495.91 L1530.4 495.83 L1531.9 495.76 L1533.4 495.68 L1534.9 495.6 L1536.4 495.53 L1537.9 495.45 L1539.4 495.37 L1540.9 495.29 L1542.4 495.2 L1543.9 495.12 L1545.4 495.04 L1546.9 494.95 L1548.4 494.86 L1549.9 494.78 L1551.4 494.69 L1552.9 494.6 L1554.4 494.51 L1555.9 494.41 L1557.4 494.32 L1558.9 494.22 L1560.4 494.12 L1561.9 494.03 L1563.4 493.93 L1564.9 493.82 L1566.4 493.72 L1567.9 493.61 L1569.4 493.51 L1570.9 493.4 L1572.4 493.29 L1573.9 493.17 L1575.4 493.06 L1576.9 492.94 L1578.4 492.82 L1579.9 492.7 L1581.4 492.57 L1582.9 492.45 L1584.4 492.32 L1585.9 492.19 L1587.4 492.05 L1588.9 491.92 L1590.4 491.78 L1591.9 491.63 L1593.4 491.49 L1594.9 491.34 L1596.4 491.19 L1597.9 491.03 L1599.4 490.87 L1600.9 490.71 L1602.4 490.54 L1603.9 490.37 L1605.4 490.2 L1606.9 490.02 L1608.4 489.83 L1609.9 489.64 L1611.4 489.45 L1612.9 489.25 L1614.4 489.05 L1615.9 488.84 L1617.4 488.63 L1618.9 488.41 L1620.4 488.18 L1621.9 487.95 L1623.4 487.71 L1624.9 487.46 L1626.4 487.21 L1627.9 486.95 L1629.4 486.68 L1630.9 486.4 L1632.4 486.11 L1633.9 485.81 L1635.4 485.51 L1636.9 485.19 L1638.4 484.86 L1639.9 484.52 L1641.4 484.17 L1642.9 483.8 L1644.4 483.42 L1645.9 483.02 L1647.4 482.61 L1648.9 482.18 L1650.4 481.74 L1651.9 481.27 L1653.4 480.78 L1654.9 480.27 L1656.4 479.73 L1657.9 479.17 L1659.4 478.58 L1660.9 477.95 L1662.4 477.29 L1663.9 476.6 L1665.4 475.87 L1666.9 475.09 L1668.4 474.27 L1669.9 473.4 L1671.4 472.47 L1672.9 471.48 L1674.4 470.43 L1675.9 469.32 L1677.4 468.13 L1678.9 466.86 L1680.4 465.5 L1681.9 464.06 L1683.4 462.52 L1684.9 460.87 L1686.4 459.12 L1687.9 457.25 L1689.4 455.26 L1690.9 453.14 L1692.4 450.88 L1693.9 448.48 L1695.4 445.92 L1696.9 443.22 L1698.4 440.35 L1699.9 437.32 L1701.4 434.11 L1702.9 430.73 L1704.4 427.17 L1705.9 423.43 L1707.4 419.51 L1708.9 415.41 L1710.4 411.13 L1711.9 406.68 L1713.4 402.05 L1714.9 397.27 L1716.4 392.35 L1717.9 387.29 L1719.4 382.13 L1720.9 376.88 L1722.4 371.58 L1723.9 366.26 L1725.4 360.97 L1726.9 355.75 L1728.4 350.67 L1729.9 345.77 L1731.4 341.12 L1732.9 336.79 L1734.4 332.84 L1735.9 329.34 L1737.4 326.34 L1738.9 323.91 L1740.4 322.07 L1741.9 320.85 L1743.4 320.27 L1744.9 320.31 L1746.4 320.97 L1747.9 322.19 L1749.4 323.95 L1750.9 326.19 L1752.4 328.83 L1753.9 331.83 L1755.4 335.11 L1756.9 338.62 L1758.4 342.29 L1759.9 346.07 L1761.4 349.91 L1762.9 353.78 L1764.4 357.64 L1765.9 361.45 L1767.4 365.21 L1768.9 368.88 L1770.4 372.47 L1771.9 375.95 L1773.4 379.33 L1774.9 382.61 L1776.4 385.77 L1777.9 388.83 L1779.4 391.8 L1780.9 394.66 L1782.4 397.44 L1783.9 400.13 L1785.4 402.75 L1786.9 405.29 L1788.4 407.77 L1789.9 410.18 L1791.4 412.54 L1792.9 414.85 L1794.4 417.1 L1795.9 419.31 L1797.4 421.47 L1798.9 423.58 L1800.4 425.66 L1801.9 427.69 L1803.4 429.67 L1804.9 431.61 L1806.4 433.51 L1807.9 435.37 L1809.4 437.18 L1810.9 438.94 L1812.4 440.66 L1813.9 442.33 L1815.4 443.95 L1816.9 445.53 L1818.4 447.06 L1819.9 448.55 L1821.4 449.99 L1822.9 451.39 L1824.4 452.74 L1825.9 454.05 L1827.4 455.31 L1828.9 456.53 L1830.4 457.71 L1831.9 458.85 L1833.4 459.95 L1834.9 461.01 L1836.4 462.03 L1837.9 463.02 L1839.4 463.97 L1840.9 464.88 L1842.4 465.76 L1843.9 466.61 L1845.4 467.42 L1846.9 468.21 L1848.4 468.96 L1849.9 469.68 L1851.4 470.38 L1852.9 471.05 L1854.4 471.69 L1855.9 472.31 L1857.4 472.9 L1858.9 473.47 L1860.4 474.02 L1861.9 474.54 L1863.4 475.04 L1864.9 475.52 L1866.4 475.99 L1867.9 476.43 L1869.4 476.85 L1870.9 477.26 L1872.4 477.65 L1873.9 478.03 L1875.4 478.38 L1876.9 478.73 L1878.4 479.06 L1879.9 479.37 L1881.4 479.68 L1882.9 479.97 L1884.4 480.25 L1885.9 480.51 L1887.4 480.77 L1888.9 481.02 L1890.4 481.25 L1891.9 481.48 L1893.4 481.7 L1894.9 481.91 L1896.4 482.11 L1897.9 482.3 L1899.4 482.48 L1900.9 482.66 L1902.4 482.83 L1903.9 482.99 L1905.4 483.15 L1906.9 483.3 L1908.4 483.45 L1909.9 483.59 L1911.4 483.72 L1912.9 483.85 L1914.4 483.98 L1915.9 484.1 L1917.4 484.21 L1918.9 484.33 L1920.4 484.43 L1921.9 484.54 L1923.4 484.64 L1924.9 484.73 L1926.4 484.83 L1927.9 484.92 L1929.4 485 L1930.9 485.08 L1932.4 485.16 L1933.9 485.24 L1935.4 485.32 L1936.9 485.39 L1938.4 485.46 L1939.9 485.52 L1941.4 485.59 L1942.9 485.65 L1944.4 485.71 L1945.9 485.77 L1947.4 485.82 L1948.9 485.88 L1950.4 485.93 L1951.9 485.98 L1953.4 486.03 L1954.9 486.07 L1956.4 486.12 L1957.9 486.16 L1959.4 486.2 L1960.9 486.24 L1962.4 486.28 L1963.9 486.32 L1965.4 486.35 L1966.9 486.38 L1968.4 486.42 L1969.9 486.45 L1971.4 486.48 L1972.7 486.5" stroke="#26828e"/>
</g>
<line x1="1854.2" y1="183.3" x2="1854.2" y2="218.6" stroke="#000" stroke-width="2.4" stroke-dasharray="8.7 6.1"/>
<line x1="1741" y1="301" x2="1741" y2="337" stroke="#000" stroke-width="2.4" stroke-dasharray="8.7 6.1"/>
<text transform="translate(1853 176.3) scale(1 1.03)" font-size="25" text-anchor="middle">4.8</text>
<text transform="translate(1740.6 295.5) scale(1 1.03)" font-size="25" text-anchor="middle">5.3</text>
<line x1="1474" y1="335.5" x2="1542" y2="335.5" stroke="#c4a800" stroke-width="4.3"/>
<text transform="translate(1547 344.4) scale(1 1.03)" font-size="25">10</text><text x="1581.75" y="344.4" font-size="25">min</text>
<line x1="1474" y1="361.6" x2="1542" y2="361.6" stroke="#b5de2b" stroke-width="4.3"/>
<text transform="translate(1547 370.5) scale(1 1.03)" font-size="25">20</text><text x="1581.75" y="370.5" font-size="25">min</text>
<line x1="1474" y1="388.2" x2="1542" y2="388.2" stroke="#6ece58" stroke-width="4.3"/>
<text transform="translate(1547 397.1) scale(1 1.03)" font-size="25">30</text><text x="1581.75" y="397.1" font-size="25">min</text>
<line x1="1474" y1="414.2" x2="1542" y2="414.2" stroke="#35b779" stroke-width="4.3"/>
<text transform="translate(1547 423.1) scale(1 1.03)" font-size="25">40</text><text x="1581.75" y="423.1" font-size="25">min</text>
<line x1="1475" y1="439.8" x2="1543" y2="439.8" stroke="#1f9e89" stroke-width="4.3"/>
<text transform="translate(1547 448.7) scale(1 1.03)" font-size="25">50</text><text x="1581.75" y="448.7" font-size="25">min</text>
<line x1="1474" y1="467.9" x2="1542" y2="467.9" stroke="#31688e" stroke-width="4.3"/>
<text transform="translate(1547 476.8) scale(1 1.03)" font-size="25">60</text><text x="1581.75" y="476.8" font-size="25">min</text>
<line x1="1474.1" y1="513.5" x2="1973.2" y2="513.5" stroke="#000" stroke-width="1.6"/>
<line x1="1474.9" y1="513.5" x2="1474.9" y2="521.2" stroke="#000" stroke-width="1.6"/>
<text transform="translate(1474.9 549.4) scale(1 1.03)" font-size="29.3" text-anchor="middle">7</text>
<line x1="1640.73" y1="513.5" x2="1640.73" y2="521.2" stroke="#000" stroke-width="1.6"/>
<text transform="translate(1640.73 549.4) scale(1 1.03)" font-size="29.3" text-anchor="middle">6</text>
<line x1="1806.57" y1="513.5" x2="1806.57" y2="521.2" stroke="#000" stroke-width="1.6"/>
<text transform="translate(1806.57 549.4) scale(1 1.03)" font-size="29.3" text-anchor="middle">5</text>
<line x1="1972.4" y1="513.5" x2="1972.4" y2="521.2" stroke="#000" stroke-width="1.6"/>
<text transform="translate(1972.4 549.4) scale(1 1.03)" font-size="29.3" text-anchor="middle">4</text>
<line x1="1557.82" y1="513.5" x2="1557.82" y2="517.6" stroke="#000" stroke-width="1.6"/>
<line x1="1723.65" y1="513.5" x2="1723.65" y2="517.6" stroke="#000" stroke-width="1.6"/>
<line x1="1889.48" y1="513.5" x2="1889.48" y2="517.6" stroke="#000" stroke-width="1.6"/>
<text x="1736.8" y="586.8" font-size="29.3" font-weight="bold" text-anchor="middle"><tspan font-size="19.3" dy="-8.6">1</tspan><tspan dy="8.6">H NMR shift (ppm)</tspan></text>
</g>
<g id="panel-d">
<g fill="none" stroke-width="4" stroke-linejoin="round">
<path d="M1472.7 1064.75 L1474.2 1064.68 L1475.7 1064.61 L1477.2 1064.55 L1478.7 1064.48 L1480.2 1064.41 L1481.7 1064.34 L1483.2 1064.27 L1484.7 1064.2 L1486.2 1064.13 L1487.7 1064.06 L1489.2 1063.99 L1490.7 1063.91 L1492.2 1063.84 L1493.7 1063.77 L1495.2 1063.7 L1496.7 1063.63 L1498.2 1063.55 L1499.7 1063.48 L1501.2 1063.41 L1502.7 1063.33 L1504.2 1063.26 L1505.7 1063.18 L1507.2 1063.11 L1508.7 1063.03 L1510.2 1062.95 L1511.7 1062.88 L1513.2 1062.8 L1514.7 1062.72 L1516.2 1062.65 L1517.7 1062.57 L1519.2 1062.49 L1520.7 1062.41 L1522.2 1062.33 L1523.7 1062.25 L1525.2 1062.17 L1526.7 1062.09 L1528.2 1062 L1529.7 1061.92 L1531.2 1061.84 L1532.7 1061.75 L1534.2 1061.67 L1535.7 1061.59 L1537.2 1061.5 L1538.7 1061.41 L1540.2 1061.33 L1541.7 1061.24 L1543.2 1061.15 L1544.7 1061.06 L1546.2 1060.97 L1547.7 1060.88 L1549.2 1060.79 L1550.7 1060.69 L1552.2 1060.6 L1553.7 1060.51 L1555.2 1060.41 L1556.7 1060.32 L1558.2 1060.22 L1559.7 1060.12 L1561.2 1060.02 L1562.7 1059.92 L1564.2 1059.82 L1565.7 1059.72 L1567.2 1059.61 L1568.7 1059.51 L1570.2 1059.4 L1571.7 1059.3 L1573.2 1059.19 L1574.7 1059.08 L1576.2 1058.97 L1577.7 1058.85 L1579.2 1058.74 L1580.7 1058.62 L1582.2 1058.51 L1583.7 1058.39 L1585.2 1058.27 L1586.7 1058.14 L1588.2 1058.02 L1589.7 1057.89 L1591.2 1057.77 L1592.7 1057.64 L1594.2 1057.5 L1595.7 1057.37 L1597.2 1057.23 L1598.7 1057.1 L1600.2 1056.95 L1601.7 1056.81 L1603.2 1056.66 L1604.7 1056.52 L1606.2 1056.36 L1607.7 1056.21 L1609.2 1056.05 L1610.7 1055.89 L1612.2 1055.72 L1613.7 1055.56 L1615.2 1055.38 L1616.7 1055.21 L1618.2 1055.03 L1619.7 1054.84 L1621.2 1054.65 L1622.7 1054.46 L1624.2 1054.26 L1625.7 1054.05 L1627.2 1053.84 L1628.7 1053.63 L1630.2 1053.4 L1631.7 1053.17 L1633.2 1052.93 L1634.7 1052.69 L1636.2 1052.43 L1637.7 1052.17 L1639.2 1051.89 L1640.7 1051.61 L1642.2 1051.31 L1643.7 1051 L1645.2 1050.68 L1646.7 1050.34 L1648.2 1049.99 L1649.7 1049.62 L1651.2 1049.24 L1652.7 1048.83 L1654.2 1048.41 L1655.7 1047.96 L1657.2 1047.49 L1658.7 1047 L1660.2 1046.48 L1661.7 1045.93 L1663.2 1045.34 L1664.7 1044.73 L1666.2 1044.08 L1667.7 1043.4 L1669.2 1042.68 L1670.7 1041.91 L1672.2 1041.1 L1673.7 1040.25 L1675.2 1039.34 L1676.7 1038.38 L1678.2 1037.37 L1679.7 1036.31 L1681.2 1035.18 L1682.7 1033.99 L1684.2 1032.73 L1685.7 1031.41 L1687.2 1030.02 L1688.7 1028.55 L1690.2 1027.01 L1691.7 1025.39 L1693.2 1023.69 L1694.7 1021.9 L1696.2 1020.03 L1697.7 1018.08 L1699.2 1016.03 L1700.7 1013.9 L1702.2 1011.68 L1703.7 1009.36 L1705.2 1006.95 L1706.7 1004.45 L1708.2 1001.86 L1709.7 999.17 L1711.2 996.4 L1712.7 993.54 L1714.2 990.6 L1715.7 987.58 L1717.2 984.48 L1718.7 981.32 L1720.2 978.1 L1721.7 974.82 L1723.2 971.51 L1724.7 968.16 L1726.2 964.8 L1727.7 961.44 L1729.2 958.09 L1730.7 954.77 L1732.2 951.49 L1733.7 948.28 L1735.2 945.15 L1736.7 942.12 L1738.2 939.21 L1739.7 936.43 L1741.2 933.79 L1742.7 931.3 L1744.2 928.98 L1745.7 926.83 L1747.2 924.84 L1748.7 923.01 L1750.2 921.35 L1751.7 919.83 L1753.2 918.46 L1754.7 917.21 L1756.2 916.07 L1757.7 915.03 L1759.2 914.07 L1760.7 913.17 L1762.2 912.32 L1763.7 911.51 L1765.2 910.71 L1766.7 909.93 L1768.2 909.15 L1769.7 908.36 L1771.2 907.55 L1772.7 906.73 L1774.2 905.89 L1775.7 905.03 L1777.2 904.14 L1778.7 903.23 L1780.2 902.31 L1781.7 901.36 L1783.2 900.41 L1784.7 899.45 L1786.2 898.48 L1787.7 897.52 L1789.2 896.56 L1790.7 895.61 L1792.2 894.68 L1793.7 893.76 L1795.2 892.87 L1796.7 892.01 L1798.2 891.18 L1799.7 890.38 L1801.2 889.62 L1802.7 888.89 L1804.2 888.2 L1805.7 887.54 L1807.2 886.92 L1808.7 886.34 L1810.2 885.78 L1811.7 885.26 L1813.2 884.77 L1814.7 884.3 L1816.2 883.86 L1817.7 883.44 L1819.2 883.04 L1820.7 882.65 L1822.2 882.28 L1823.7 881.93 L1825.2 881.6 L1826.7 881.3 L1828.2 881.02 L1829.7 880.79 L1831.2 880.61 L1832.7 880.5 L1834.2 880.48 L1835.7 880.57 L1837.2 880.81 L1838.7 881.23 L1840.2 881.86 L1841.7 882.74 L1843.2 883.9 L1844.7 885.38 L1846.2 887.22 L1847.7 889.43 L1849.2 892.03 L1850.7 895.02 L1852.2 898.4 L1853.7 902.16 L1855.2 906.26 L1856.7 910.67 L1858.2 915.34 L1859.7 920.23 L1861.2 925.29 L1862.7 930.47 L1864.2 935.72 L1865.7 940.99 L1867.2 946.25 L1868.7 951.45 L1870.2 956.57 L1871.7 961.58 L1873.2 966.45 L1874.7 971.17 L1876.2 975.73 L1877.7 980.11 L1879.2 984.3 L1880.7 988.3 L1882.2 992.11 L1883.7 995.73 L1885.2 999.15 L1886.7 1002.38 L1888.2 1005.43 L1889.7 1008.28 L1891.2 1010.96 L1892.7 1013.47 L1894.2 1015.81 L1895.7 1017.99 L1897.2 1020.01 L1898.7 1021.89 L1900.2 1023.63 L1901.7 1025.24 L1903.2 1026.73 L1904.7 1028.11 L1906.2 1029.37 L1907.7 1030.54 L1909.2 1031.61 L1910.7 1032.6 L1912.2 1033.5 L1913.7 1034.33 L1915.2 1035.1 L1916.7 1035.8 L1918.2 1036.44 L1919.7 1037.03 L1921.2 1037.57 L1922.7 1038.07 L1924.2 1038.53 L1925.7 1038.95 L1927.2 1039.34 L1928.7 1039.7 L1930.2 1040.03 L1931.7 1040.34 L1933.2 1040.62 L1934.7 1040.88 L1936.2 1041.13 L1937.7 1041.36 L1939.2 1041.57 L1940.7 1041.76 L1942.2 1041.95 L1943.7 1042.12 L1945.2 1042.28 L1946.7 1042.43 L1948.2 1042.57 L1949.7 1042.7 L1951.2 1042.82 L1952.7 1042.94 L1954.2 1043.05 L1955.7 1043.15 L1957.2 1043.25 L1958.7 1043.34 L1960.2 1043.43 L1961.7 1043.51 L1963.2 1043.58 L1964.7 1043.65 L1966.2 1043.72 L1967.7 1043.78 L1969.2 1043.84" stroke="#c4a800"/>
<path d="M1472.7 1065.35 L1474.2 1065.26 L1475.7 1065.17 L1477.2 1065.08 L1478.7 1064.99 L1480.2 1064.9 L1481.7 1064.81 L1483.2 1064.72 L1484.7 1064.63 L1486.2 1064.54 L1487.7 1064.44 L1489.2 1064.35 L1490.7 1064.25 L1492.2 1064.16 L1493.7 1064.06 L1495.2 1063.96 L1496.7 1063.86 L1498.2 1063.77 L1499.7 1063.66 L1501.2 1063.56 L1502.7 1063.46 L1504.2 1063.36 L1505.7 1063.25 L1507.2 1063.15 L1508.7 1063.04 L1510.2 1062.94 L1511.7 1062.83 L1513.2 1062.72 L1514.7 1062.61 L1516.2 1062.5 L1517.7 1062.38 L1519.2 1062.27 L1520.7 1062.15 L1522.2 1062.04 L1523.7 1061.92 L1525.2 1061.8 L1526.7 1061.68 L1528.2 1061.56 L1529.7 1061.43 L1531.2 1061.31 L1532.7 1061.18 L1534.2 1061.05 L1535.7 1060.92 L1537.2 1060.79 L1538.7 1060.66 L1540.2 1060.52 L1541.7 1060.39 L1543.2 1060.25 L1544.7 1060.11 L1546.2 1059.96 L1547.7 1059.82 L1549.2 1059.67 L1550.7 1059.52 L1552.2 1059.37 L1553.7 1059.22 L1555.2 1059.06 L1556.7 1058.91 L1558.2 1058.74 L1559.7 1058.58 L1561.2 1058.42 L1562.7 1058.25 L1564.2 1058.08 L1565.7 1057.9 L1567.2 1057.73 L1568.7 1057.55 L1570.2 1057.36 L1571.7 1057.18 L1573.2 1056.99 L1574.7 1056.79 L1576.2 1056.6 L1577.7 1056.4 L1579.2 1056.19 L1580.7 1055.98 L1582.2 1055.77 L1583.7 1055.55 L1585.2 1055.33 L1586.7 1055.11 L1588.2 1054.88 L1589.7 1054.64 L1591.2 1054.4 L1592.7 1054.16 L1594.2 1053.91 L1595.7 1053.65 L1597.2 1053.39 L1598.7 1053.12 L1600.2 1052.85 L1601.7 1052.57 L1603.2 1052.28 L1604.7 1051.99 L1606.2 1051.69 L1607.7 1051.38 L1609.2 1051.06 L1610.7 1050.74 L1612.2 1050.41 L1613.7 1050.06 L1615.2 1049.71 L1616.7 1049.35 L1618.2 1048.98 L1619.7 1048.6 L1621.2 1048.21 L1622.7 1047.81 L1624.2 1047.39 L1625.7 1046.97 L1627.2 1046.53 L1628.7 1046.07 L1630.2 1045.61 L1631.7 1045.12 L1633.2 1044.62 L1634.7 1044.11 L1636.2 1043.57 L1637.7 1043.02 L1639.2 1042.45 L1640.7 1041.86 L1642.2 1041.24 L1643.7 1040.6 L1645.2 1039.94 L1646.7 1039.25 L1648.2 1038.54 L1649.7 1037.79 L1651.2 1037.02 L1652.7 1036.21 L1654.2 1035.37 L1655.7 1034.49 L1657.2 1033.57 L1658.7 1032.61 L1660.2 1031.61 L1661.7 1030.56 L1663.2 1029.47 L1664.7 1028.32 L1666.2 1027.12 L1667.7 1025.86 L1669.2 1024.53 L1670.7 1023.15 L1672.2 1021.69 L1673.7 1020.17 L1675.2 1018.56 L1676.7 1016.88 L1678.2 1015.11 L1679.7 1013.26 L1681.2 1011.31 L1682.7 1009.26 L1684.2 1007.11 L1685.7 1004.86 L1687.2 1002.49 L1688.7 1000.01 L1690.2 997.4 L1691.7 994.67 L1693.2 991.81 L1694.7 988.81 L1696.2 985.67 L1697.7 982.39 L1699.2 978.95 L1700.7 975.36 L1702.2 971.62 L1703.7 967.71 L1705.2 963.64 L1706.7 959.4 L1708.2 955 L1709.7 950.42 L1711.2 945.68 L1712.7 940.78 L1714.2 935.71 L1715.7 930.49 L1717.2 925.11 L1718.7 919.59 L1720.2 913.95 L1721.7 908.18 L1723.2 902.32 L1724.7 896.37 L1726.2 890.36 L1727.7 884.3 L1729.2 878.23 L1730.7 872.15 L1732.2 866.08 L1733.7 860.05 L1735.2 854.04 L1736.7 848.05 L1738.2 842.06 L1739.7 836.03 L1741.2 829.93 L1742.7 823.73 L1744.2 817.48 L1745.7 811.39 L1747.2 805.96 L1748.7 802.04 L1750.2 800.6 L1751.7 802.27 L1753.2 806.85 L1754.7 813.48 L1756.2 821.16 L1757.7 829.14 L1759.2 837.02 L1760.7 844.65 L1762.2 852.01 L1763.7 859.12 L1765.2 866.03 L1766.7 872.76 L1768.2 879.33 L1769.7 885.77 L1771.2 892.07 L1772.7 898.23 L1774.2 904.26 L1775.7 910.14 L1777.2 915.88 L1778.7 921.45 L1780.2 926.87 L1781.7 932.11 L1783.2 937.19 L1784.7 942.09 L1786.2 946.82 L1787.7 951.37 L1789.2 955.75 L1790.7 959.95 L1792.2 963.98 L1793.7 967.84 L1795.2 971.54 L1796.7 975.08 L1798.2 978.46 L1799.7 981.69 L1801.2 984.77 L1802.7 987.7 L1804.2 990.5 L1805.7 993.16 L1807.2 995.7 L1808.7 998.11 L1810.2 1000.41 L1811.7 1002.59 L1813.2 1004.66 L1814.7 1006.63 L1816.2 1008.5 L1817.7 1010.28 L1819.2 1011.96 L1820.7 1013.57 L1822.2 1015.09 L1823.7 1016.53 L1825.2 1017.9 L1826.7 1019.2 L1828.2 1020.44 L1829.7 1021.62 L1831.2 1022.73 L1832.7 1023.79 L1834.2 1024.8 L1835.7 1025.76 L1837.2 1026.68 L1838.7 1027.55 L1840.2 1028.37 L1841.7 1029.16 L1843.2 1029.91 L1844.7 1030.63 L1846.2 1031.31 L1847.7 1031.97 L1849.2 1032.59 L1850.7 1033.19 L1852.2 1033.76 L1853.7 1034.3 L1855.2 1034.82 L1856.7 1035.32 L1858.2 1035.8 L1859.7 1036.26 L1861.2 1036.7 L1862.7 1037.12 L1864.2 1037.53 L1865.7 1037.92 L1867.2 1038.29 L1868.7 1038.65 L1870.2 1039 L1871.7 1039.33 L1873.2 1039.65 L1874.7 1039.96 L1876.2 1040.25 L1877.7 1040.54 L1879.2 1040.81 L1880.7 1041.08 L1882.2 1041.33 L1883.7 1041.58 L1885.2 1041.82 L1886.7 1042.05 L1888.2 1042.27 L1889.7 1042.48 L1891.2 1042.68 L1892.7 1042.88 L1894.2 1043.07 L1895.7 1043.26 L1897.2 1043.44 L1898.7 1043.61 L1900.2 1043.77 L1901.7 1043.93 L1903.2 1044.09 L1904.7 1044.24 L1906.2 1044.38 L1907.7 1044.52 L1909.2 1044.65 L1910.7 1044.78 L1912.2 1044.91 L1913.7 1045.03 L1915.2 1045.14 L1916.7 1045.25 L1918.2 1045.36 L1919.7 1045.47 L1921.2 1045.57 L1922.7 1045.66 L1924.2 1045.76 L1925.7 1045.85 L1927.2 1045.93 L1928.7 1046.02 L1930.2 1046.1 L1931.7 1046.18 L1933.2 1046.25 L1934.7 1046.32 L1936.2 1046.39 L1937.7 1046.46 L1939.2 1046.52 L1940.7 1046.58 L1942.2 1046.64 L1943.7 1046.7 L1945.2 1046.75 L1946.7 1046.81 L1948.2 1046.86 L1949.7 1046.91 L1951.2 1046.95 L1952.7 1047 L1954.2 1047.04 L1955.7 1047.08 L1957.2 1047.12 L1958.7 1047.15 L1960.2 1047.19 L1961.7 1047.22 L1963.2 1047.25 L1964.7 1047.28 L1966.2 1047.31 L1967.7 1047.34 L1969.2 1047.36" stroke="#b5de2b"/>
<path d="M1472.7 1065.19 L1474.2 1065.1 L1475.7 1065.01 L1477.2 1064.92 L1478.7 1064.82 L1480.2 1064.73 L1481.7 1064.64 L1483.2 1064.55 L1484.7 1064.45 L1486.2 1064.36 L1487.7 1064.26 L1489.2 1064.16 L1490.7 1064.07 L1492.2 1063.97 L1493.7 1063.87 L1495.2 1063.77 L1496.7 1063.67 L1498.2 1063.57 L1499.7 1063.47 L1501.2 1063.36 L1502.7 1063.26 L1504.2 1063.15 L1505.7 1063.05 L1507.2 1062.94 L1508.7 1062.83 L1510.2 1062.72 L1511.7 1062.61 L1513.2 1062.5 L1514.7 1062.39 L1516.2 1062.27 L1517.7 1062.16 L1519.2 1062.04 L1520.7 1061.92 L1522.2 1061.8 L1523.7 1061.68 L1525.2 1061.56 L1526.7 1061.44 L1528.2 1061.31 L1529.7 1061.19 L1531.2 1061.06 L1532.7 1060.93 L1534.2 1060.8 L1535.7 1060.67 L1537.2 1060.53 L1538.7 1060.4 L1540.2 1060.26 L1541.7 1060.12 L1543.2 1059.98 L1544.7 1059.84 L1546.2 1059.69 L1547.7 1059.54 L1549.2 1059.39 L1550.7 1059.24 L1552.2 1059.09 L1553.7 1058.93 L1555.2 1058.77 L1556.7 1058.61 L1558.2 1058.45 L1559.7 1058.28 L1561.2 1058.11 L1562.7 1057.94 L1564.2 1057.77 L1565.7 1057.59 L1567.2 1057.41 L1568.7 1057.23 L1570.2 1057.04 L1571.7 1056.85 L1573.2 1056.66 L1574.7 1056.46 L1576.2 1056.26 L1577.7 1056.06 L1579.2 1055.85 L1580.7 1055.64 L1582.2 1055.42 L1583.7 1055.2 L1585.2 1054.97 L1586.7 1054.74 L1588.2 1054.51 L1589.7 1054.27 L1591.2 1054.02 L1592.7 1053.78 L1594.2 1053.52 L1595.7 1053.26 L1597.2 1052.99 L1598.7 1052.72 L1600.2 1052.44 L1601.7 1052.15 L1603.2 1051.86 L1604.7 1051.56 L1606.2 1051.25 L1607.7 1050.94 L1609.2 1050.62 L1610.7 1050.28 L1612.2 1049.94 L1613.7 1049.6 L1615.2 1049.24 L1616.7 1048.87 L1618.2 1048.49 L1619.7 1048.1 L1621.2 1047.7 L1622.7 1047.29 L1624.2 1046.86 L1625.7 1046.42 L1627.2 1045.97 L1628.7 1045.51 L1630.2 1045.03 L1631.7 1044.53 L1633.2 1044.02 L1634.7 1043.49 L1636.2 1042.94 L1637.7 1042.37 L1639.2 1041.78 L1640.7 1041.17 L1642.2 1040.53 L1643.7 1039.88 L1645.2 1039.19 L1646.7 1038.48 L1648.2 1037.74 L1649.7 1036.97 L1651.2 1036.17 L1652.7 1035.33 L1654.2 1034.46 L1655.7 1033.55 L1657.2 1032.59 L1658.7 1031.6 L1660.2 1030.55 L1661.7 1029.46 L1663.2 1028.32 L1664.7 1027.13 L1666.2 1025.87 L1667.7 1024.56 L1669.2 1023.18 L1670.7 1021.73 L1672.2 1020.21 L1673.7 1018.61 L1675.2 1016.94 L1676.7 1015.18 L1678.2 1013.33 L1679.7 1011.39 L1681.2 1009.35 L1682.7 1007.21 L1684.2 1004.97 L1685.7 1002.61 L1687.2 1000.13 L1688.7 997.54 L1690.2 994.82 L1691.7 991.96 L1693.2 988.98 L1694.7 985.85 L1696.2 982.58 L1697.7 979.16 L1699.2 975.58 L1700.7 971.85 L1702.2 967.96 L1703.7 963.91 L1705.2 959.7 L1706.7 955.32 L1708.2 950.78 L1709.7 946.07 L1711.2 941.2 L1712.7 936.17 L1714.2 930.99 L1715.7 925.66 L1717.2 920.19 L1718.7 914.6 L1720.2 908.89 L1721.7 903.07 L1723.2 897.17 L1724.7 891.19 L1726.2 885.17 L1727.7 879.11 L1729.2 873.05 L1730.7 866.99 L1732.2 860.97 L1733.7 854.98 L1735.2 849.06 L1736.7 843.19 L1738.2 837.39 L1739.7 831.63 L1741.2 825.93 L1742.7 820.34 L1744.2 815.03 L1745.7 810.38 L1747.2 807.04 L1748.7 805.8 L1750.2 807.22 L1751.7 811.26 L1753.2 817.25 L1754.7 824.37 L1756.2 831.96 L1757.7 839.62 L1759.2 847.19 L1760.7 854.6 L1762.2 861.82 L1763.7 868.88 L1765.2 875.77 L1766.7 882.49 L1768.2 889.04 L1769.7 895.43 L1771.2 901.64 L1772.7 907.68 L1774.2 913.54 L1775.7 919.23 L1777.2 924.73 L1778.7 930.05 L1780.2 935.2 L1781.7 940.16 L1783.2 944.94 L1784.7 949.55 L1786.2 953.98 L1787.7 958.23 L1789.2 962.31 L1790.7 966.23 L1792.2 969.98 L1793.7 973.56 L1795.2 976.99 L1796.7 980.27 L1798.2 983.4 L1799.7 986.38 L1801.2 989.22 L1802.7 991.93 L1804.2 994.51 L1805.7 996.96 L1807.2 999.3 L1808.7 1001.52 L1810.2 1003.63 L1811.7 1005.63 L1813.2 1007.53 L1814.7 1009.34 L1816.2 1011.06 L1817.7 1012.69 L1819.2 1014.23 L1820.7 1015.7 L1822.2 1017.09 L1823.7 1018.42 L1825.2 1019.67 L1826.7 1020.87 L1828.2 1022 L1829.7 1023.08 L1831.2 1024.1 L1832.7 1025.07 L1834.2 1026 L1835.7 1026.88 L1837.2 1027.72 L1838.7 1028.51 L1840.2 1029.27 L1841.7 1030 L1843.2 1030.69 L1844.7 1031.35 L1846.2 1031.98 L1847.7 1032.58 L1849.2 1033.15 L1850.7 1033.7 L1852.2 1034.23 L1853.7 1034.73 L1855.2 1035.21 L1856.7 1035.67 L1858.2 1036.11 L1859.7 1036.54 L1861.2 1036.94 L1862.7 1037.33 L1864.2 1037.71 L1865.7 1038.07 L1867.2 1038.41 L1868.7 1038.75 L1870.2 1039.07 L1871.7 1039.37 L1873.2 1039.67 L1874.7 1039.96 L1876.2 1040.23 L1877.7 1040.49 L1879.2 1040.75 L1880.7 1040.99 L1882.2 1041.23 L1883.7 1041.46 L1885.2 1041.68 L1886.7 1041.89 L1888.2 1042.09 L1889.7 1042.29 L1891.2 1042.48 L1892.7 1042.66 L1894.2 1042.84 L1895.7 1043.01 L1897.2 1043.17 L1898.7 1043.33 L1900.2 1043.48 L1901.7 1043.63 L1903.2 1043.77 L1904.7 1043.91 L1906.2 1044.04 L1907.7 1044.17 L1909.2 1044.29 L1910.7 1044.41 L1912.2 1044.52 L1913.7 1044.63 L1915.2 1044.74 L1916.7 1044.84 L1918.2 1044.94 L1919.7 1045.03 L1921.2 1045.12 L1922.7 1045.21 L1924.2 1045.29 L1925.7 1045.38 L1927.2 1045.45 L1928.7 1045.53 L1930.2 1045.6 L1931.7 1045.67 L1933.2 1045.74 L1934.7 1045.8 L1936.2 1045.86 L1937.7 1045.92 L1939.2 1045.98 L1940.7 1046.03 L1942.2 1046.09 L1943.7 1046.14 L1945.2 1046.18 L1946.7 1046.23 L1948.2 1046.27 L1949.7 1046.31 L1951.2 1046.35 L1952.7 1046.39 L1954.2 1046.43 L1955.7 1046.46 L1957.2 1046.49 L1958.7 1046.53 L1960.2 1046.55 L1961.7 1046.58 L1963.2 1046.61 L1964.7 1046.63 L1966.2 1046.66 L1967.7 1046.68 L1969.2 1046.7" stroke="#6ece58"/>
<path d="M1472.7 1065.04 L1474.2 1064.94 L1475.7 1064.85 L1477.2 1064.76 L1478.7 1064.67 L1480.2 1064.57 L1481.7 1064.48 L1483.2 1064.38 L1484.7 1064.28 L1486.2 1064.19 L1487.7 1064.09 L1489.2 1063.99 L1490.7 1063.89 L1492.2 1063.79 L1493.7 1063.69 L1495.2 1063.59 L1496.7 1063.49 L1498.2 1063.38 L1499.7 1063.28 L1501.2 1063.17 L1502.7 1063.06 L1504.2 1062.96 L1505.7 1062.85 L1507.2 1062.74 L1508.7 1062.63 L1510.2 1062.52 L1511.7 1062.41 L1513.2 1062.29 L1514.7 1062.18 L1516.2 1062.06 L1517.7 1061.94 L1519.2 1061.82 L1520.7 1061.7 L1522.2 1061.58 L1523.7 1061.46 L1525.2 1061.34 L1526.7 1061.21 L1528.2 1061.09 L1529.7 1060.96 L1531.2 1060.83 L1532.7 1060.7 L1534.2 1060.56 L1535.7 1060.43 L1537.2 1060.29 L1538.7 1060.16 L1540.2 1060.02 L1541.7 1059.87 L1543.2 1059.73 L1544.7 1059.59 L1546.2 1059.44 L1547.7 1059.29 L1549.2 1059.14 L1550.7 1058.98 L1552.2 1058.83 L1553.7 1058.67 L1555.2 1058.51 L1556.7 1058.34 L1558.2 1058.18 L1559.7 1058.01 L1561.2 1057.84 L1562.7 1057.67 L1564.2 1057.49 L1565.7 1057.31 L1567.2 1057.13 L1568.7 1056.94 L1570.2 1056.75 L1571.7 1056.56 L1573.2 1056.37 L1574.7 1056.17 L1576.2 1055.96 L1577.7 1055.76 L1579.2 1055.55 L1580.7 1055.33 L1582.2 1055.11 L1583.7 1054.89 L1585.2 1054.66 L1586.7 1054.43 L1588.2 1054.19 L1589.7 1053.95 L1591.2 1053.7 L1592.7 1053.45 L1594.2 1053.19 L1595.7 1052.93 L1597.2 1052.66 L1598.7 1052.38 L1600.2 1052.1 L1601.7 1051.81 L1603.2 1051.51 L1604.7 1051.21 L1606.2 1050.9 L1607.7 1050.58 L1609.2 1050.25 L1610.7 1049.92 L1612.2 1049.58 L1613.7 1049.22 L1615.2 1048.86 L1616.7 1048.49 L1618.2 1048.1 L1619.7 1047.71 L1621.2 1047.3 L1622.7 1046.88 L1624.2 1046.45 L1625.7 1046.01 L1627.2 1045.55 L1628.7 1045.08 L1630.2 1044.59 L1631.7 1044.09 L1633.2 1043.57 L1634.7 1043.03 L1636.2 1042.47 L1637.7 1041.89 L1639.2 1041.29 L1640.7 1040.67 L1642.2 1040.02 L1643.7 1039.35 L1645.2 1038.65 L1646.7 1037.93 L1648.2 1037.17 L1649.7 1036.38 L1651.2 1035.56 L1652.7 1034.71 L1654.2 1033.81 L1655.7 1032.88 L1657.2 1031.9 L1658.7 1030.88 L1660.2 1029.81 L1661.7 1028.69 L1663.2 1027.51 L1664.7 1026.28 L1666.2 1024.99 L1667.7 1023.63 L1669.2 1022.21 L1670.7 1020.71 L1672.2 1019.14 L1673.7 1017.49 L1675.2 1015.76 L1676.7 1013.94 L1678.2 1012.02 L1679.7 1010.01 L1681.2 1007.9 L1682.7 1005.68 L1684.2 1003.35 L1685.7 1000.91 L1687.2 998.34 L1688.7 995.65 L1690.2 992.82 L1691.7 989.86 L1693.2 986.77 L1694.7 983.52 L1696.2 980.13 L1697.7 976.58 L1699.2 972.88 L1700.7 969.02 L1702.2 965 L1703.7 960.81 L1705.2 956.46 L1706.7 951.94 L1708.2 947.26 L1709.7 942.42 L1711.2 937.42 L1712.7 932.26 L1714.2 926.96 L1715.7 921.51 L1717.2 915.94 L1718.7 910.23 L1720.2 904.42 L1721.7 898.5 L1723.2 892.5 L1724.7 886.43 L1726.2 880.31 L1727.7 874.16 L1729.2 868 L1730.7 861.87 L1732.2 855.8 L1733.7 849.81 L1735.2 843.96 L1736.7 838.27 L1738.2 832.78 L1739.7 827.54 L1741.2 822.6 L1742.7 818.04 L1744.2 814.05 L1745.7 810.97 L1747.2 809.3 L1748.7 809.58 L1750.2 812.1 L1751.7 816.68 L1753.2 822.78 L1754.7 829.78 L1756.2 837.22 L1757.7 844.83 L1759.2 852.45 L1760.7 859.99 L1762.2 867.41 L1763.7 874.68 L1765.2 881.77 L1766.7 888.66 L1768.2 895.34 L1769.7 901.79 L1771.2 908.03 L1772.7 914.04 L1774.2 919.83 L1775.7 925.41 L1777.2 930.78 L1778.7 935.95 L1780.2 940.92 L1781.7 945.7 L1783.2 950.3 L1784.7 954.71 L1786.2 958.94 L1787.7 963 L1789.2 966.89 L1790.7 970.61 L1792.2 974.17 L1793.7 977.57 L1795.2 980.82 L1796.7 983.92 L1798.2 986.87 L1799.7 989.69 L1801.2 992.37 L1802.7 994.92 L1804.2 997.34 L1805.7 999.65 L1807.2 1001.84 L1808.7 1003.92 L1810.2 1005.9 L1811.7 1007.77 L1813.2 1009.55 L1814.7 1011.24 L1816.2 1012.85 L1817.7 1014.37 L1819.2 1015.81 L1820.7 1017.18 L1822.2 1018.48 L1823.7 1019.71 L1825.2 1020.88 L1826.7 1021.99 L1828.2 1023.05 L1829.7 1024.05 L1831.2 1025 L1832.7 1025.9 L1834.2 1026.76 L1835.7 1027.58 L1837.2 1028.36 L1838.7 1029.1 L1840.2 1029.81 L1841.7 1030.48 L1843.2 1031.13 L1844.7 1031.74 L1846.2 1032.32 L1847.7 1032.88 L1849.2 1033.42 L1850.7 1033.93 L1852.2 1034.42 L1853.7 1034.88 L1855.2 1035.33 L1856.7 1035.76 L1858.2 1036.17 L1859.7 1036.57 L1861.2 1036.94 L1862.7 1037.31 L1864.2 1037.66 L1865.7 1037.99 L1867.2 1038.31 L1868.7 1038.62 L1870.2 1038.92 L1871.7 1039.2 L1873.2 1039.48 L1874.7 1039.74 L1876.2 1040 L1877.7 1040.24 L1879.2 1040.48 L1880.7 1040.71 L1882.2 1040.93 L1883.7 1041.14 L1885.2 1041.34 L1886.7 1041.53 L1888.2 1041.72 L1889.7 1041.9 L1891.2 1042.08 L1892.7 1042.25 L1894.2 1042.41 L1895.7 1042.57 L1897.2 1042.72 L1898.7 1042.86 L1900.2 1043 L1901.7 1043.14 L1903.2 1043.27 L1904.7 1043.39 L1906.2 1043.51 L1907.7 1043.63 L1909.2 1043.74 L1910.7 1043.85 L1912.2 1043.95 L1913.7 1044.05 L1915.2 1044.15 L1916.7 1044.24 L1918.2 1044.33 L1919.7 1044.41 L1921.2 1044.49 L1922.7 1044.57 L1924.2 1044.65 L1925.7 1044.72 L1927.2 1044.79 L1928.7 1044.86 L1930.2 1044.92 L1931.7 1044.98 L1933.2 1045.04 L1934.7 1045.1 L1936.2 1045.15 L1937.7 1045.2 L1939.2 1045.25 L1940.7 1045.3 L1942.2 1045.35 L1943.7 1045.39 L1945.2 1045.43 L1946.7 1045.47 L1948.2 1045.51 L1949.7 1045.54 L1951.2 1045.57 L1952.7 1045.6 L1954.2 1045.63 L1955.7 1045.66 L1957.2 1045.69 L1958.7 1045.71 L1960.2 1045.74 L1961.7 1045.76 L1963.2 1045.78 L1964.7 1045.8 L1966.2 1045.81 L1967.7 1045.83 L1969.2 1045.84" stroke="#35b779"/>
<path d="M1472.7 1064.93 L1474.2 1064.84 L1475.7 1064.75 L1477.2 1064.65 L1478.7 1064.56 L1480.2 1064.46 L1481.7 1064.36 L1483.2 1064.27 L1484.7 1064.17 L1486.2 1064.07 L1487.7 1063.97 L1489.2 1063.87 L1490.7 1063.77 L1492.2 1063.67 L1493.7 1063.57 L1495.2 1063.46 L1496.7 1063.36 L1498.2 1063.25 L1499.7 1063.15 L1501.2 1063.04 L1502.7 1062.93 L1504.2 1062.82 L1505.7 1062.71 L1507.2 1062.6 L1508.7 1062.49 L1510.2 1062.38 L1511.7 1062.26 L1513.2 1062.15 L1514.7 1062.03 L1516.2 1061.92 L1517.7 1061.8 L1519.2 1061.68 L1520.7 1061.56 L1522.2 1061.43 L1523.7 1061.31 L1525.2 1061.18 L1526.7 1061.06 L1528.2 1060.93 L1529.7 1060.8 L1531.2 1060.67 L1532.7 1060.54 L1534.2 1060.4 L1535.7 1060.27 L1537.2 1060.13 L1538.7 1059.99 L1540.2 1059.85 L1541.7 1059.7 L1543.2 1059.56 L1544.7 1059.41 L1546.2 1059.26 L1547.7 1059.11 L1549.2 1058.96 L1550.7 1058.8 L1552.2 1058.65 L1553.7 1058.49 L1555.2 1058.32 L1556.7 1058.16 L1558.2 1057.99 L1559.7 1057.82 L1561.2 1057.65 L1562.7 1057.47 L1564.2 1057.3 L1565.7 1057.12 L1567.2 1056.93 L1568.7 1056.74 L1570.2 1056.55 L1571.7 1056.36 L1573.2 1056.16 L1574.7 1055.96 L1576.2 1055.76 L1577.7 1055.55 L1579.2 1055.33 L1580.7 1055.12 L1582.2 1054.9 L1583.7 1054.67 L1585.2 1054.44 L1586.7 1054.21 L1588.2 1053.97 L1589.7 1053.72 L1591.2 1053.47 L1592.7 1053.22 L1594.2 1052.96 L1595.7 1052.69 L1597.2 1052.42 L1598.7 1052.14 L1600.2 1051.85 L1601.7 1051.56 L1603.2 1051.26 L1604.7 1050.96 L1606.2 1050.64 L1607.7 1050.32 L1609.2 1049.99 L1610.7 1049.65 L1612.2 1049.3 L1613.7 1048.95 L1615.2 1048.58 L1616.7 1048.2 L1618.2 1047.82 L1619.7 1047.42 L1621.2 1047.01 L1622.7 1046.58 L1624.2 1046.15 L1625.7 1045.7 L1627.2 1045.23 L1628.7 1044.75 L1630.2 1044.26 L1631.7 1043.75 L1633.2 1043.22 L1634.7 1042.67 L1636.2 1042.11 L1637.7 1041.52 L1639.2 1040.91 L1640.7 1040.28 L1642.2 1039.62 L1643.7 1038.94 L1645.2 1038.23 L1646.7 1037.49 L1648.2 1036.72 L1649.7 1035.92 L1651.2 1035.08 L1652.7 1034.21 L1654.2 1033.29 L1655.7 1032.34 L1657.2 1031.34 L1658.7 1030.29 L1660.2 1029.2 L1661.7 1028.05 L1663.2 1026.85 L1664.7 1025.59 L1666.2 1024.26 L1667.7 1022.87 L1669.2 1021.41 L1670.7 1019.88 L1672.2 1018.26 L1673.7 1016.57 L1675.2 1014.79 L1676.7 1012.92 L1678.2 1010.95 L1679.7 1008.89 L1681.2 1006.72 L1682.7 1004.44 L1684.2 1002.04 L1685.7 999.53 L1687.2 996.89 L1688.7 994.12 L1690.2 991.22 L1691.7 988.18 L1693.2 985 L1694.7 981.67 L1696.2 978.19 L1697.7 974.55 L1699.2 970.76 L1700.7 966.81 L1702.2 962.69 L1703.7 958.41 L1705.2 953.96 L1706.7 949.35 L1708.2 944.58 L1709.7 939.65 L1711.2 934.56 L1712.7 929.33 L1714.2 923.95 L1715.7 918.43 L1717.2 912.79 L1718.7 907.02 L1720.2 901.15 L1721.7 895.17 L1723.2 889.12 L1724.7 882.99 L1726.2 876.82 L1727.7 870.63 L1729.2 864.45 L1730.7 858.31 L1732.2 852.27 L1733.7 846.37 L1735.2 840.68 L1736.7 835.25 L1738.2 830.17 L1739.7 825.49 L1741.2 821.29 L1742.7 817.66 L1744.2 814.76 L1745.7 812.82 L1747.2 812.2 L1748.7 813.29 L1750.2 816.31 L1751.7 821.1 L1753.2 827.26 L1754.7 834.27 L1756.2 841.75 L1757.7 849.43 L1759.2 857.15 L1760.7 864.8 L1762.2 872.33 L1763.7 879.68 L1765.2 886.82 L1766.7 893.73 L1768.2 900.39 L1769.7 906.8 L1771.2 912.95 L1772.7 918.87 L1774.2 924.54 L1775.7 929.99 L1777.2 935.22 L1778.7 940.24 L1780.2 945.05 L1781.7 949.68 L1783.2 954.12 L1784.7 958.37 L1786.2 962.46 L1787.7 966.36 L1789.2 970.1 L1790.7 973.68 L1792.2 977.1 L1793.7 980.37 L1795.2 983.48 L1796.7 986.45 L1798.2 989.28 L1799.7 991.97 L1801.2 994.54 L1802.7 996.97 L1804.2 999.29 L1805.7 1001.49 L1807.2 1003.58 L1808.7 1005.57 L1810.2 1007.45 L1811.7 1009.24 L1813.2 1010.93 L1814.7 1012.54 L1816.2 1014.07 L1817.7 1015.51 L1819.2 1016.89 L1820.7 1018.19 L1822.2 1019.42 L1823.7 1020.59 L1825.2 1021.7 L1826.7 1022.76 L1828.2 1023.76 L1829.7 1024.71 L1831.2 1025.62 L1832.7 1026.48 L1834.2 1027.29 L1835.7 1028.07 L1837.2 1028.81 L1838.7 1029.52 L1840.2 1030.19 L1841.7 1030.83 L1843.2 1031.44 L1844.7 1032.02 L1846.2 1032.58 L1847.7 1033.11 L1849.2 1033.62 L1850.7 1034.1 L1852.2 1034.57 L1853.7 1035.01 L1855.2 1035.44 L1856.7 1035.85 L1858.2 1036.24 L1859.7 1036.61 L1861.2 1036.97 L1862.7 1037.32 L1864.2 1037.65 L1865.7 1037.97 L1867.2 1038.28 L1868.7 1038.57 L1870.2 1038.85 L1871.7 1039.12 L1873.2 1039.39 L1874.7 1039.64 L1876.2 1039.88 L1877.7 1040.11 L1879.2 1040.34 L1880.7 1040.55 L1882.2 1040.76 L1883.7 1040.96 L1885.2 1041.15 L1886.7 1041.34 L1888.2 1041.51 L1889.7 1041.69 L1891.2 1041.85 L1892.7 1042.01 L1894.2 1042.16 L1895.7 1042.31 L1897.2 1042.45 L1898.7 1042.59 L1900.2 1042.72 L1901.7 1042.85 L1903.2 1042.97 L1904.7 1043.09 L1906.2 1043.2 L1907.7 1043.31 L1909.2 1043.42 L1910.7 1043.52 L1912.2 1043.61 L1913.7 1043.71 L1915.2 1043.8 L1916.7 1043.88 L1918.2 1043.97 L1919.7 1044.05 L1921.2 1044.12 L1922.7 1044.19 L1924.2 1044.26 L1925.7 1044.33 L1927.2 1044.4 L1928.7 1044.46 L1930.2 1044.52 L1931.7 1044.57 L1933.2 1044.63 L1934.7 1044.68 L1936.2 1044.73 L1937.7 1044.77 L1939.2 1044.82 L1940.7 1044.86 L1942.2 1044.9 L1943.7 1044.94 L1945.2 1044.98 L1946.7 1045.01 L1948.2 1045.04 L1949.7 1045.07 L1951.2 1045.1 L1952.7 1045.13 L1954.2 1045.16 L1955.7 1045.18 L1957.2 1045.2 L1958.7 1045.22 L1960.2 1045.24 L1961.7 1045.26 L1963.2 1045.28 L1964.7 1045.29 L1966.2 1045.31 L1967.7 1045.32 L1969.2 1045.33" stroke="#1f9e89"/>
<path d="M1472.7 1064.83 L1474.2 1064.74 L1475.7 1064.64 L1477.2 1064.55 L1478.7 1064.45 L1480.2 1064.35 L1481.7 1064.25 L1483.2 1064.16 L1484.7 1064.06 L1486.2 1063.96 L1487.7 1063.86 L1489.2 1063.76 L1490.7 1063.65 L1492.2 1063.55 L1493.7 1063.45 L1495.2 1063.34 L1496.7 1063.24 L1498.2 1063.13 L1499.7 1063.02 L1501.2 1062.91 L1502.7 1062.8 L1504.2 1062.69 L1505.7 1062.58 L1507.2 1062.47 L1508.7 1062.36 L1510.2 1062.24 L1511.7 1062.13 L1513.2 1062.01 L1514.7 1061.89 L1516.2 1061.78 L1517.7 1061.66 L1519.2 1061.53 L1520.7 1061.41 L1522.2 1061.29 L1523.7 1061.16 L1525.2 1061.04 L1526.7 1060.91 L1528.2 1060.78 L1529.7 1060.65 L1531.2 1060.52 L1532.7 1060.38 L1534.2 1060.25 L1535.7 1060.11 L1537.2 1059.97 L1538.7 1059.83 L1540.2 1059.69 L1541.7 1059.54 L1543.2 1059.39 L1544.7 1059.25 L1546.2 1059.1 L1547.7 1058.94 L1549.2 1058.79 L1550.7 1058.63 L1552.2 1058.47 L1553.7 1058.31 L1555.2 1058.15 L1556.7 1057.98 L1558.2 1057.81 L1559.7 1057.64 L1561.2 1057.47 L1562.7 1057.29 L1564.2 1057.11 L1565.7 1056.93 L1567.2 1056.74 L1568.7 1056.55 L1570.2 1056.36 L1571.7 1056.16 L1573.2 1055.96 L1574.7 1055.76 L1576.2 1055.56 L1577.7 1055.34 L1579.2 1055.13 L1580.7 1054.91 L1582.2 1054.69 L1583.7 1054.46 L1585.2 1054.23 L1586.7 1053.99 L1588.2 1053.75 L1589.7 1053.51 L1591.2 1053.25 L1592.7 1053 L1594.2 1052.73 L1595.7 1052.46 L1597.2 1052.19 L1598.7 1051.91 L1600.2 1051.62 L1601.7 1051.33 L1603.2 1051.02 L1604.7 1050.71 L1606.2 1050.4 L1607.7 1050.07 L1609.2 1049.74 L1610.7 1049.4 L1612.2 1049.05 L1613.7 1048.68 L1615.2 1048.31 L1616.7 1047.93 L1618.2 1047.54 L1619.7 1047.14 L1621.2 1046.72 L1622.7 1046.29 L1624.2 1045.85 L1625.7 1045.4 L1627.2 1044.93 L1628.7 1044.44 L1630.2 1043.94 L1631.7 1043.43 L1633.2 1042.89 L1634.7 1042.34 L1636.2 1041.76 L1637.7 1041.17 L1639.2 1040.55 L1640.7 1039.91 L1642.2 1039.24 L1643.7 1038.54 L1645.2 1037.82 L1646.7 1037.07 L1648.2 1036.29 L1649.7 1035.47 L1651.2 1034.62 L1652.7 1033.73 L1654.2 1032.79 L1655.7 1031.82 L1657.2 1030.8 L1658.7 1029.73 L1660.2 1028.61 L1661.7 1027.44 L1663.2 1026.21 L1664.7 1024.92 L1666.2 1023.56 L1667.7 1022.14 L1669.2 1020.64 L1670.7 1019.07 L1672.2 1017.41 L1673.7 1015.67 L1675.2 1013.85 L1676.7 1011.93 L1678.2 1009.91 L1679.7 1007.78 L1681.2 1005.55 L1682.7 1003.21 L1684.2 1000.75 L1685.7 998.17 L1687.2 995.45 L1688.7 992.61 L1690.2 989.63 L1691.7 986.5 L1693.2 983.23 L1694.7 979.81 L1696.2 976.24 L1697.7 972.51 L1699.2 968.62 L1700.7 964.56 L1702.2 960.34 L1703.7 955.96 L1705.2 951.41 L1706.7 946.7 L1708.2 941.83 L1709.7 936.8 L1711.2 931.62 L1712.7 926.29 L1714.2 920.83 L1715.7 915.22 L1717.2 909.5 L1718.7 903.66 L1720.2 897.71 L1721.7 891.66 L1723.2 885.53 L1724.7 879.34 L1726.2 873.1 L1727.7 866.85 L1729.2 860.62 L1730.7 854.46 L1732.2 848.44 L1733.7 842.62 L1735.2 837.09 L1736.7 831.94 L1738.2 827.26 L1739.7 823.16 L1741.2 819.72 L1742.7 817.04 L1744.2 815.22 L1745.7 814.4 L1747.2 814.77 L1748.7 816.56 L1750.2 819.92 L1751.7 824.8 L1753.2 830.92 L1754.7 837.91 L1756.2 845.41 L1757.7 853.18 L1759.2 861.02 L1760.7 868.81 L1762.2 876.46 L1763.7 883.92 L1765.2 891.14 L1766.7 898.09 L1768.2 904.76 L1769.7 911.14 L1771.2 917.25 L1772.7 923.09 L1774.2 928.67 L1775.7 934.01 L1777.2 939.12 L1778.7 944.02 L1780.2 948.71 L1781.7 953.2 L1783.2 957.51 L1784.7 961.63 L1786.2 965.58 L1787.7 969.36 L1789.2 972.98 L1790.7 976.43 L1792.2 979.72 L1793.7 982.87 L1795.2 985.87 L1796.7 988.72 L1798.2 991.44 L1799.7 994.03 L1801.2 996.49 L1802.7 998.82 L1804.2 1001.04 L1805.7 1003.15 L1807.2 1005.15 L1808.7 1007.05 L1810.2 1008.85 L1811.7 1010.56 L1813.2 1012.18 L1814.7 1013.71 L1816.2 1015.17 L1817.7 1016.55 L1819.2 1017.86 L1820.7 1019.1 L1822.2 1020.27 L1823.7 1021.39 L1825.2 1022.45 L1826.7 1023.45 L1828.2 1024.41 L1829.7 1025.31 L1831.2 1026.17 L1832.7 1026.99 L1834.2 1027.77 L1835.7 1028.51 L1837.2 1029.21 L1838.7 1029.88 L1840.2 1030.52 L1841.7 1031.13 L1843.2 1031.71 L1844.7 1032.27 L1846.2 1032.8 L1847.7 1033.3 L1849.2 1033.79 L1850.7 1034.25 L1852.2 1034.69 L1853.7 1035.12 L1855.2 1035.52 L1856.7 1035.91 L1858.2 1036.28 L1859.7 1036.64 L1861.2 1036.98 L1862.7 1037.31 L1864.2 1037.63 L1865.7 1037.93 L1867.2 1038.22 L1868.7 1038.5 L1870.2 1038.77 L1871.7 1039.03 L1873.2 1039.28 L1874.7 1039.51 L1876.2 1039.74 L1877.7 1039.97 L1879.2 1040.18 L1880.7 1040.38 L1882.2 1040.58 L1883.7 1040.77 L1885.2 1040.95 L1886.7 1041.13 L1888.2 1041.3 L1889.7 1041.46 L1891.2 1041.61 L1892.7 1041.76 L1894.2 1041.91 L1895.7 1042.05 L1897.2 1042.18 L1898.7 1042.31 L1900.2 1042.44 L1901.7 1042.56 L1903.2 1042.67 L1904.7 1042.78 L1906.2 1042.89 L1907.7 1042.99 L1909.2 1043.09 L1910.7 1043.18 L1912.2 1043.27 L1913.7 1043.36 L1915.2 1043.44 L1916.7 1043.52 L1918.2 1043.6 L1919.7 1043.67 L1921.2 1043.74 L1922.7 1043.81 L1924.2 1043.88 L1925.7 1043.94 L1927.2 1044 L1928.7 1044.05 L1930.2 1044.11 L1931.7 1044.16 L1933.2 1044.21 L1934.7 1044.25 L1936.2 1044.3 L1937.7 1044.34 L1939.2 1044.38 L1940.7 1044.42 L1942.2 1044.45 L1943.7 1044.49 L1945.2 1044.52 L1946.7 1044.55 L1948.2 1044.58 L1949.7 1044.61 L1951.2 1044.63 L1952.7 1044.65 L1954.2 1044.68 L1955.7 1044.7 L1957.2 1044.72 L1958.7 1044.73 L1960.2 1044.75 L1961.7 1044.76 L1963.2 1044.77 L1964.7 1044.79 L1966.2 1044.8 L1967.7 1044.81 L1969.2 1044.81" stroke="#26828e"/>
<path d="M1472.7 1064.8 L1474.2 1064.71 L1475.7 1064.61 L1477.2 1064.52 L1478.7 1064.42 L1480.2 1064.32 L1481.7 1064.22 L1483.2 1064.12 L1484.7 1064.02 L1486.2 1063.92 L1487.7 1063.82 L1489.2 1063.72 L1490.7 1063.62 L1492.2 1063.51 L1493.7 1063.41 L1495.2 1063.3 L1496.7 1063.2 L1498.2 1063.09 L1499.7 1062.98 L1501.2 1062.87 L1502.7 1062.76 L1504.2 1062.65 L1505.7 1062.54 L1507.2 1062.43 L1508.7 1062.31 L1510.2 1062.2 L1511.7 1062.08 L1513.2 1061.97 L1514.7 1061.85 L1516.2 1061.73 L1517.7 1061.61 L1519.2 1061.49 L1520.7 1061.36 L1522.2 1061.24 L1523.7 1061.11 L1525.2 1060.99 L1526.7 1060.86 L1528.2 1060.73 L1529.7 1060.6 L1531.2 1060.46 L1532.7 1060.33 L1534.2 1060.19 L1535.7 1060.06 L1537.2 1059.92 L1538.7 1059.78 L1540.2 1059.63 L1541.7 1059.49 L1543.2 1059.34 L1544.7 1059.19 L1546.2 1059.04 L1547.7 1058.89 L1549.2 1058.74 L1550.7 1058.58 L1552.2 1058.42 L1553.7 1058.26 L1555.2 1058.1 L1556.7 1057.93 L1558.2 1057.76 L1559.7 1057.59 L1561.2 1057.42 L1562.7 1057.24 L1564.2 1057.06 L1565.7 1056.88 L1567.2 1056.7 L1568.7 1056.51 L1570.2 1056.32 L1571.7 1056.12 L1573.2 1055.92 L1574.7 1055.72 L1576.2 1055.51 L1577.7 1055.31 L1579.2 1055.09 L1580.7 1054.87 L1582.2 1054.65 L1583.7 1054.43 L1585.2 1054.2 L1586.7 1053.96 L1588.2 1053.72 L1589.7 1053.48 L1591.2 1053.23 L1592.7 1052.97 L1594.2 1052.71 L1595.7 1052.44 L1597.2 1052.17 L1598.7 1051.89 L1600.2 1051.61 L1601.7 1051.32 L1603.2 1051.02 L1604.7 1050.71 L1606.2 1050.4 L1607.7 1050.07 L1609.2 1049.74 L1610.7 1049.41 L1612.2 1049.06 L1613.7 1048.7 L1615.2 1048.34 L1616.7 1047.96 L1618.2 1047.57 L1619.7 1047.17 L1621.2 1046.76 L1622.7 1046.34 L1624.2 1045.9 L1625.7 1045.46 L1627.2 1044.99 L1628.7 1044.51 L1630.2 1044.02 L1631.7 1043.51 L1633.2 1042.98 L1634.7 1042.43 L1636.2 1041.87 L1637.7 1041.28 L1639.2 1040.67 L1640.7 1040.04 L1642.2 1039.38 L1643.7 1038.7 L1645.2 1037.99 L1646.7 1037.25 L1648.2 1036.48 L1649.7 1035.68 L1651.2 1034.84 L1652.7 1033.97 L1654.2 1033.05 L1655.7 1032.09 L1657.2 1031.09 L1658.7 1030.04 L1660.2 1028.94 L1661.7 1027.79 L1663.2 1026.58 L1664.7 1025.31 L1666.2 1023.98 L1667.7 1022.58 L1669.2 1021.11 L1670.7 1019.57 L1672.2 1017.94 L1673.7 1016.24 L1675.2 1014.44 L1676.7 1012.55 L1678.2 1010.57 L1679.7 1008.48 L1681.2 1006.29 L1682.7 1003.99 L1684.2 1001.57 L1685.7 999.03 L1687.2 996.36 L1688.7 993.56 L1690.2 990.62 L1691.7 987.55 L1693.2 984.33 L1694.7 980.96 L1696.2 977.44 L1697.7 973.76 L1699.2 969.92 L1700.7 965.92 L1702.2 961.76 L1703.7 957.43 L1705.2 952.94 L1706.7 948.29 L1708.2 943.48 L1709.7 938.51 L1711.2 933.39 L1712.7 928.12 L1714.2 922.71 L1715.7 917.17 L1717.2 911.5 L1718.7 905.72 L1720.2 899.83 L1721.7 893.83 L1723.2 887.75 L1724.7 881.59 L1726.2 875.37 L1727.7 869.12 L1729.2 862.87 L1730.7 856.67 L1732.2 850.57 L1733.7 844.65 L1735.2 838.99 L1736.7 833.71 L1738.2 828.91 L1739.7 824.73 L1741.2 821.27 L1742.7 818.66 L1744.2 817.01 L1745.7 816.4 L1747.2 816.94 L1748.7 818.72 L1750.2 821.79 L1751.7 826.14 L1753.2 831.63 L1754.7 838.03 L1756.2 845.09 L1757.7 852.58 L1759.2 860.32 L1760.7 868.15 L1762.2 875.94 L1763.7 883.6 L1765.2 891.04 L1766.7 898.21 L1768.2 905.1 L1769.7 911.67 L1771.2 917.93 L1772.7 923.89 L1774.2 929.57 L1775.7 934.97 L1777.2 940.11 L1778.7 945.02 L1780.2 949.7 L1781.7 954.18 L1783.2 958.46 L1784.7 962.56 L1786.2 966.47 L1787.7 970.21 L1789.2 973.79 L1790.7 977.2 L1792.2 980.46 L1793.7 983.57 L1795.2 986.53 L1796.7 989.35 L1798.2 992.03 L1799.7 994.58 L1801.2 997.01 L1802.7 999.31 L1804.2 1001.5 L1805.7 1003.58 L1807.2 1005.55 L1808.7 1007.42 L1810.2 1009.19 L1811.7 1010.87 L1813.2 1012.46 L1814.7 1013.97 L1816.2 1015.4 L1817.7 1016.76 L1819.2 1018.04 L1820.7 1019.26 L1822.2 1020.42 L1823.7 1021.51 L1825.2 1022.55 L1826.7 1023.54 L1828.2 1024.47 L1829.7 1025.36 L1831.2 1026.2 L1832.7 1027 L1834.2 1027.76 L1835.7 1028.49 L1837.2 1029.18 L1838.7 1029.83 L1840.2 1030.46 L1841.7 1031.06 L1843.2 1031.62 L1844.7 1032.17 L1846.2 1032.68 L1847.7 1033.18 L1849.2 1033.65 L1850.7 1034.1 L1852.2 1034.53 L1853.7 1034.95 L1855.2 1035.34 L1856.7 1035.72 L1858.2 1036.09 L1859.7 1036.44 L1861.2 1036.77 L1862.7 1037.09 L1864.2 1037.4 L1865.7 1037.69 L1867.2 1037.98 L1868.7 1038.25 L1870.2 1038.51 L1871.7 1038.76 L1873.2 1039.01 L1874.7 1039.24 L1876.2 1039.46 L1877.7 1039.68 L1879.2 1039.88 L1880.7 1040.08 L1882.2 1040.27 L1883.7 1040.46 L1885.2 1040.63 L1886.7 1040.8 L1888.2 1040.97 L1889.7 1041.13 L1891.2 1041.28 L1892.7 1041.42 L1894.2 1041.56 L1895.7 1041.7 L1897.2 1041.83 L1898.7 1041.95 L1900.2 1042.07 L1901.7 1042.19 L1903.2 1042.3 L1904.7 1042.4 L1906.2 1042.51 L1907.7 1042.6 L1909.2 1042.7 L1910.7 1042.79 L1912.2 1042.87 L1913.7 1042.96 L1915.2 1043.04 L1916.7 1043.11 L1918.2 1043.19 L1919.7 1043.26 L1921.2 1043.32 L1922.7 1043.39 L1924.2 1043.45 L1925.7 1043.51 L1927.2 1043.56 L1928.7 1043.62 L1930.2 1043.67 L1931.7 1043.71 L1933.2 1043.76 L1934.7 1043.8 L1936.2 1043.85 L1937.7 1043.88 L1939.2 1043.92 L1940.7 1043.96 L1942.2 1043.99 L1943.7 1044.02 L1945.2 1044.05 L1946.7 1044.08 L1948.2 1044.1 L1949.7 1044.13 L1951.2 1044.15 L1952.7 1044.17 L1954.2 1044.19 L1955.7 1044.2 L1957.2 1044.22 L1958.7 1044.24 L1960.2 1044.25 L1961.7 1044.26 L1963.2 1044.27 L1964.7 1044.28 L1966.2 1044.29 L1967.7 1044.29 L1969.2 1044.3" stroke="#31688e"/>
<path d="M1472.7 1064.86 L1474.2 1064.76 L1475.7 1064.67 L1477.2 1064.57 L1478.7 1064.47 L1480.2 1064.37 L1481.7 1064.28 L1483.2 1064.18 L1484.7 1064.08 L1486.2 1063.98 L1487.7 1063.88 L1489.2 1063.77 L1490.7 1063.67 L1492.2 1063.57 L1493.7 1063.46 L1495.2 1063.36 L1496.7 1063.25 L1498.2 1063.14 L1499.7 1063.04 L1501.2 1062.93 L1502.7 1062.82 L1504.2 1062.71 L1505.7 1062.6 L1507.2 1062.48 L1508.7 1062.37 L1510.2 1062.26 L1511.7 1062.14 L1513.2 1062.02 L1514.7 1061.91 L1516.2 1061.79 L1517.7 1061.67 L1519.2 1061.55 L1520.7 1061.42 L1522.2 1061.3 L1523.7 1061.18 L1525.2 1061.05 L1526.7 1060.92 L1528.2 1060.79 L1529.7 1060.66 L1531.2 1060.53 L1532.7 1060.4 L1534.2 1060.26 L1535.7 1060.13 L1537.2 1059.99 L1538.7 1059.85 L1540.2 1059.71 L1541.7 1059.57 L1543.2 1059.42 L1544.7 1059.27 L1546.2 1059.13 L1547.7 1058.97 L1549.2 1058.82 L1550.7 1058.67 L1552.2 1058.51 L1553.7 1058.35 L1555.2 1058.19 L1556.7 1058.03 L1558.2 1057.86 L1559.7 1057.69 L1561.2 1057.52 L1562.7 1057.35 L1564.2 1057.17 L1565.7 1056.99 L1567.2 1056.81 L1568.7 1056.62 L1570.2 1056.43 L1571.7 1056.24 L1573.2 1056.05 L1574.7 1055.85 L1576.2 1055.64 L1577.7 1055.44 L1579.2 1055.23 L1580.7 1055.02 L1582.2 1054.8 L1583.7 1054.58 L1585.2 1054.35 L1586.7 1054.12 L1588.2 1053.89 L1589.7 1053.65 L1591.2 1053.4 L1592.7 1053.15 L1594.2 1052.9 L1595.7 1052.64 L1597.2 1052.37 L1598.7 1052.1 L1600.2 1051.82 L1601.7 1051.53 L1603.2 1051.24 L1604.7 1050.94 L1606.2 1050.64 L1607.7 1050.32 L1609.2 1050 L1610.7 1049.67 L1612.2 1049.33 L1613.7 1048.99 L1615.2 1048.63 L1616.7 1048.26 L1618.2 1047.89 L1619.7 1047.5 L1621.2 1047.1 L1622.7 1046.69 L1624.2 1046.27 L1625.7 1045.83 L1627.2 1045.39 L1628.7 1044.92 L1630.2 1044.45 L1631.7 1043.95 L1633.2 1043.44 L1634.7 1042.92 L1636.2 1042.37 L1637.7 1041.81 L1639.2 1041.22 L1640.7 1040.61 L1642.2 1039.98 L1643.7 1039.33 L1645.2 1038.65 L1646.7 1037.94 L1648.2 1037.2 L1649.7 1036.43 L1651.2 1035.63 L1652.7 1034.79 L1654.2 1033.92 L1655.7 1033.01 L1657.2 1032.05 L1658.7 1031.05 L1660.2 1030 L1661.7 1028.91 L1663.2 1027.76 L1664.7 1026.55 L1666.2 1025.28 L1667.7 1023.95 L1669.2 1022.56 L1670.7 1021.09 L1672.2 1019.55 L1673.7 1017.93 L1675.2 1016.22 L1676.7 1014.43 L1678.2 1012.55 L1679.7 1010.56 L1681.2 1008.48 L1682.7 1006.29 L1684.2 1003.99 L1685.7 1001.58 L1687.2 999.04 L1688.7 996.37 L1690.2 993.58 L1691.7 990.65 L1693.2 987.58 L1694.7 984.36 L1696.2 981 L1697.7 977.48 L1699.2 973.81 L1700.7 969.98 L1702.2 965.99 L1703.7 961.83 L1705.2 957.52 L1706.7 953.04 L1708.2 948.4 L1709.7 943.6 L1711.2 938.64 L1712.7 933.54 L1714.2 928.29 L1715.7 922.9 L1717.2 917.38 L1718.7 911.74 L1720.2 905.98 L1721.7 900.12 L1723.2 894.15 L1724.7 888.1 L1726.2 881.97 L1727.7 875.77 L1729.2 869.54 L1730.7 863.31 L1732.2 857.11 L1733.7 851.01 L1735.2 845.08 L1736.7 839.43 L1738.2 834.17 L1739.7 829.41 L1741.2 825.31 L1742.7 821.99 L1744.2 819.59 L1745.7 818.24 L1747.2 818 L1748.7 818.94 L1750.2 821.07 L1751.7 824.36 L1753.2 828.74 L1754.7 834.08 L1756.2 840.25 L1757.7 847.09 L1759.2 854.41 L1760.7 862.05 L1762.2 869.85 L1763.7 877.67 L1765.2 885.37 L1766.7 892.89 L1768.2 900.14 L1769.7 907.08 L1771.2 913.7 L1772.7 920 L1774.2 925.97 L1775.7 931.63 L1777.2 937.01 L1778.7 942.11 L1780.2 946.97 L1781.7 951.6 L1783.2 956.01 L1784.7 960.22 L1786.2 964.25 L1787.7 968.09 L1789.2 971.76 L1790.7 975.26 L1792.2 978.61 L1793.7 981.8 L1795.2 984.84 L1796.7 987.73 L1798.2 990.49 L1799.7 993.11 L1801.2 995.61 L1802.7 997.98 L1804.2 1000.23 L1805.7 1002.37 L1807.2 1004.39 L1808.7 1006.32 L1810.2 1008.14 L1811.7 1009.87 L1813.2 1011.51 L1814.7 1013.06 L1816.2 1014.53 L1817.7 1015.92 L1819.2 1017.24 L1820.7 1018.49 L1822.2 1019.68 L1823.7 1020.8 L1825.2 1021.87 L1826.7 1022.88 L1828.2 1023.84 L1829.7 1024.75 L1831.2 1025.61 L1832.7 1026.43 L1834.2 1027.21 L1835.7 1027.95 L1837.2 1028.66 L1838.7 1029.33 L1840.2 1029.96 L1841.7 1030.57 L1843.2 1031.15 L1844.7 1031.7 L1846.2 1032.23 L1847.7 1032.74 L1849.2 1033.22 L1850.7 1033.68 L1852.2 1034.11 L1853.7 1034.54 L1855.2 1034.94 L1856.7 1035.32 L1858.2 1035.69 L1859.7 1036.05 L1861.2 1036.38 L1862.7 1036.71 L1864.2 1037.02 L1865.7 1037.32 L1867.2 1037.61 L1868.7 1037.88 L1870.2 1038.15 L1871.7 1038.4 L1873.2 1038.65 L1874.7 1038.88 L1876.2 1039.11 L1877.7 1039.33 L1879.2 1039.54 L1880.7 1039.74 L1882.2 1039.93 L1883.7 1040.12 L1885.2 1040.29 L1886.7 1040.47 L1888.2 1040.63 L1889.7 1040.79 L1891.2 1040.94 L1892.7 1041.09 L1894.2 1041.23 L1895.7 1041.37 L1897.2 1041.5 L1898.7 1041.62 L1900.2 1041.74 L1901.7 1041.86 L1903.2 1041.97 L1904.7 1042.08 L1906.2 1042.18 L1907.7 1042.28 L1909.2 1042.37 L1910.7 1042.46 L1912.2 1042.55 L1913.7 1042.63 L1915.2 1042.71 L1916.7 1042.79 L1918.2 1042.86 L1919.7 1042.93 L1921.2 1043 L1922.7 1043.06 L1924.2 1043.12 L1925.7 1043.18 L1927.2 1043.23 L1928.7 1043.29 L1930.2 1043.34 L1931.7 1043.39 L1933.2 1043.43 L1934.7 1043.47 L1936.2 1043.51 L1937.7 1043.55 L1939.2 1043.59 L1940.7 1043.62 L1942.2 1043.66 L1943.7 1043.69 L1945.2 1043.72 L1946.7 1043.74 L1948.2 1043.77 L1949.7 1043.79 L1951.2 1043.81 L1952.7 1043.83 L1954.2 1043.85 L1955.7 1043.87 L1957.2 1043.88 L1958.7 1043.9 L1960.2 1043.91 L1961.7 1043.92 L1963.2 1043.93 L1964.7 1043.94 L1966.2 1043.94 L1967.7 1043.95 L1969.2 1043.95" stroke="#3e4a89"/>
</g>
<line x1="1747" y1="790.2" x2="1747" y2="825.4" stroke="#000" stroke-width="2.4" stroke-dasharray="8.7 6.1"/>
<line x1="1831" y1="866.6" x2="1831" y2="902.6" stroke="#000" stroke-width="2.4" stroke-dasharray="8.7 6.1"/>
<text transform="translate(1744.6 779.8) scale(1 1.03)" font-size="25" text-anchor="middle">5.3</text>
<text transform="translate(1830.2 861.7) scale(1 1.03)" font-size="25" text-anchor="middle">4.8</text>
<line x1="1474" y1="849.5" x2="1542" y2="849.5" stroke="#c4a800" stroke-width="4.3"/>
<text transform="translate(1547.4 858.3) scale(1 1.01)" font-size="24.6">1 h</text>
<line x1="1474" y1="875.8" x2="1542" y2="875.8" stroke="#b5de2b" stroke-width="4.3"/>
<text transform="translate(1547.4 884.6) scale(1 1.01)" font-size="24.6">2 h</text>
<line x1="1474" y1="902.4" x2="1542" y2="902.4" stroke="#6ece58" stroke-width="4.3"/>
<text transform="translate(1547.4 911.2) scale(1 1.01)" font-size="24.6">3 h</text>
<line x1="1474" y1="928.3" x2="1542" y2="928.3" stroke="#35b779" stroke-width="4.3"/>
<text transform="translate(1547.4 937.1) scale(1 1.01)" font-size="24.6">4 h</text>
<line x1="1475" y1="953.7" x2="1543" y2="953.7" stroke="#1f9e89" stroke-width="4.3"/>
<text transform="translate(1547.4 962.5) scale(1 1.01)" font-size="24.6">5 h</text>
<line x1="1474" y1="981.8" x2="1542" y2="981.8" stroke="#26828e" stroke-width="4.3"/>
<text transform="translate(1547.4 990.6) scale(1 1.01)" font-size="24.6">6 h</text>
<line x1="1474" y1="1009.2" x2="1542" y2="1009.2" stroke="#31688e" stroke-width="4.3"/>
<text transform="translate(1547.4 1018) scale(1 1.01)" font-size="24.6">7 h</text>
<line x1="1474" y1="1034.5" x2="1542" y2="1034.5" stroke="#3e4a89" stroke-width="4.3"/>
<text transform="translate(1547.4 1043.3) scale(1 1.01)" font-size="24.6">8 h</text>
<line x1="1471.9" y1="1086" x2="1971.1" y2="1086" stroke="#000" stroke-width="1.7"/>
<line x1="1472.7" y1="1086" x2="1472.7" y2="1094" stroke="#000" stroke-width="1.7"/>
<text transform="translate(1472.7 1122.3) scale(1 1.03)" font-size="29.3" text-anchor="middle">7</text>
<line x1="1638.57" y1="1086" x2="1638.57" y2="1094" stroke="#000" stroke-width="1.7"/>
<text transform="translate(1638.57 1122.3) scale(1 1.03)" font-size="29.3" text-anchor="middle">6</text>
<line x1="1804.43" y1="1086" x2="1804.43" y2="1094" stroke="#000" stroke-width="1.7"/>
<text transform="translate(1804.43 1122.3) scale(1 1.03)" font-size="29.3" text-anchor="middle">5</text>
<line x1="1970.3" y1="1086" x2="1970.3" y2="1094" stroke="#000" stroke-width="1.7"/>
<text transform="translate(1970.3 1122.3) scale(1 1.03)" font-size="29.3" text-anchor="middle">4</text>
<line x1="1555.63" y1="1086" x2="1555.63" y2="1090.1" stroke="#000" stroke-width="1.7"/>
<line x1="1721.5" y1="1086" x2="1721.5" y2="1090.1" stroke="#000" stroke-width="1.7"/>
<line x1="1887.37" y1="1086" x2="1887.37" y2="1090.1" stroke="#000" stroke-width="1.7"/>
<text x="1730.9" y="1162.6" font-size="29.3" font-weight="bold" text-anchor="middle"><tspan font-size="19.3" dy="-8.6">1</tspan><tspan dy="8.6">H NMR shift (ppm)</tspan></text>
</g>
<g stroke="#00aeef" fill="none" stroke-dasharray="8.5 6.17">
<line x1="6.6" y1="1" x2="2000" y2="1" stroke-width="3" stroke-dasharray="8.5 6.16"/>
<line x1="1" y1="2.2" x2="1" y2="1185" stroke-width="3"/>
<line x1="3.4" y1="1183.7" x2="2000" y2="1183.7" stroke-width="2.8" stroke-dasharray="8.5 6.11"/>
<line x1="1997.4" y1="1" x2="1997.4" y2="1185" stroke-width="2.2"/>
<line x1="839.9" y1="1.3" x2="839.9" y2="1185" stroke-width="2.2"/>
<line x1="1435.6" y1="1" x2="1435.6" y2="1185" stroke-width="2.2"/>
<line x1="1437.2" y1="606.9" x2="2000" y2="606.9" stroke-width="2"/>
</g>
<text x="37.7" y="58.7" font-size="41" font-weight="bold">a</text>
<text x="869.6" y="58.7" font-size="41" font-weight="bold">b</text>
<text x="1468.6" y="52.3" font-size="41" font-weight="bold">c</text>
<text x="1469.9" y="679" font-size="41" font-weight="bold">d</text>
</svg></body></html>
